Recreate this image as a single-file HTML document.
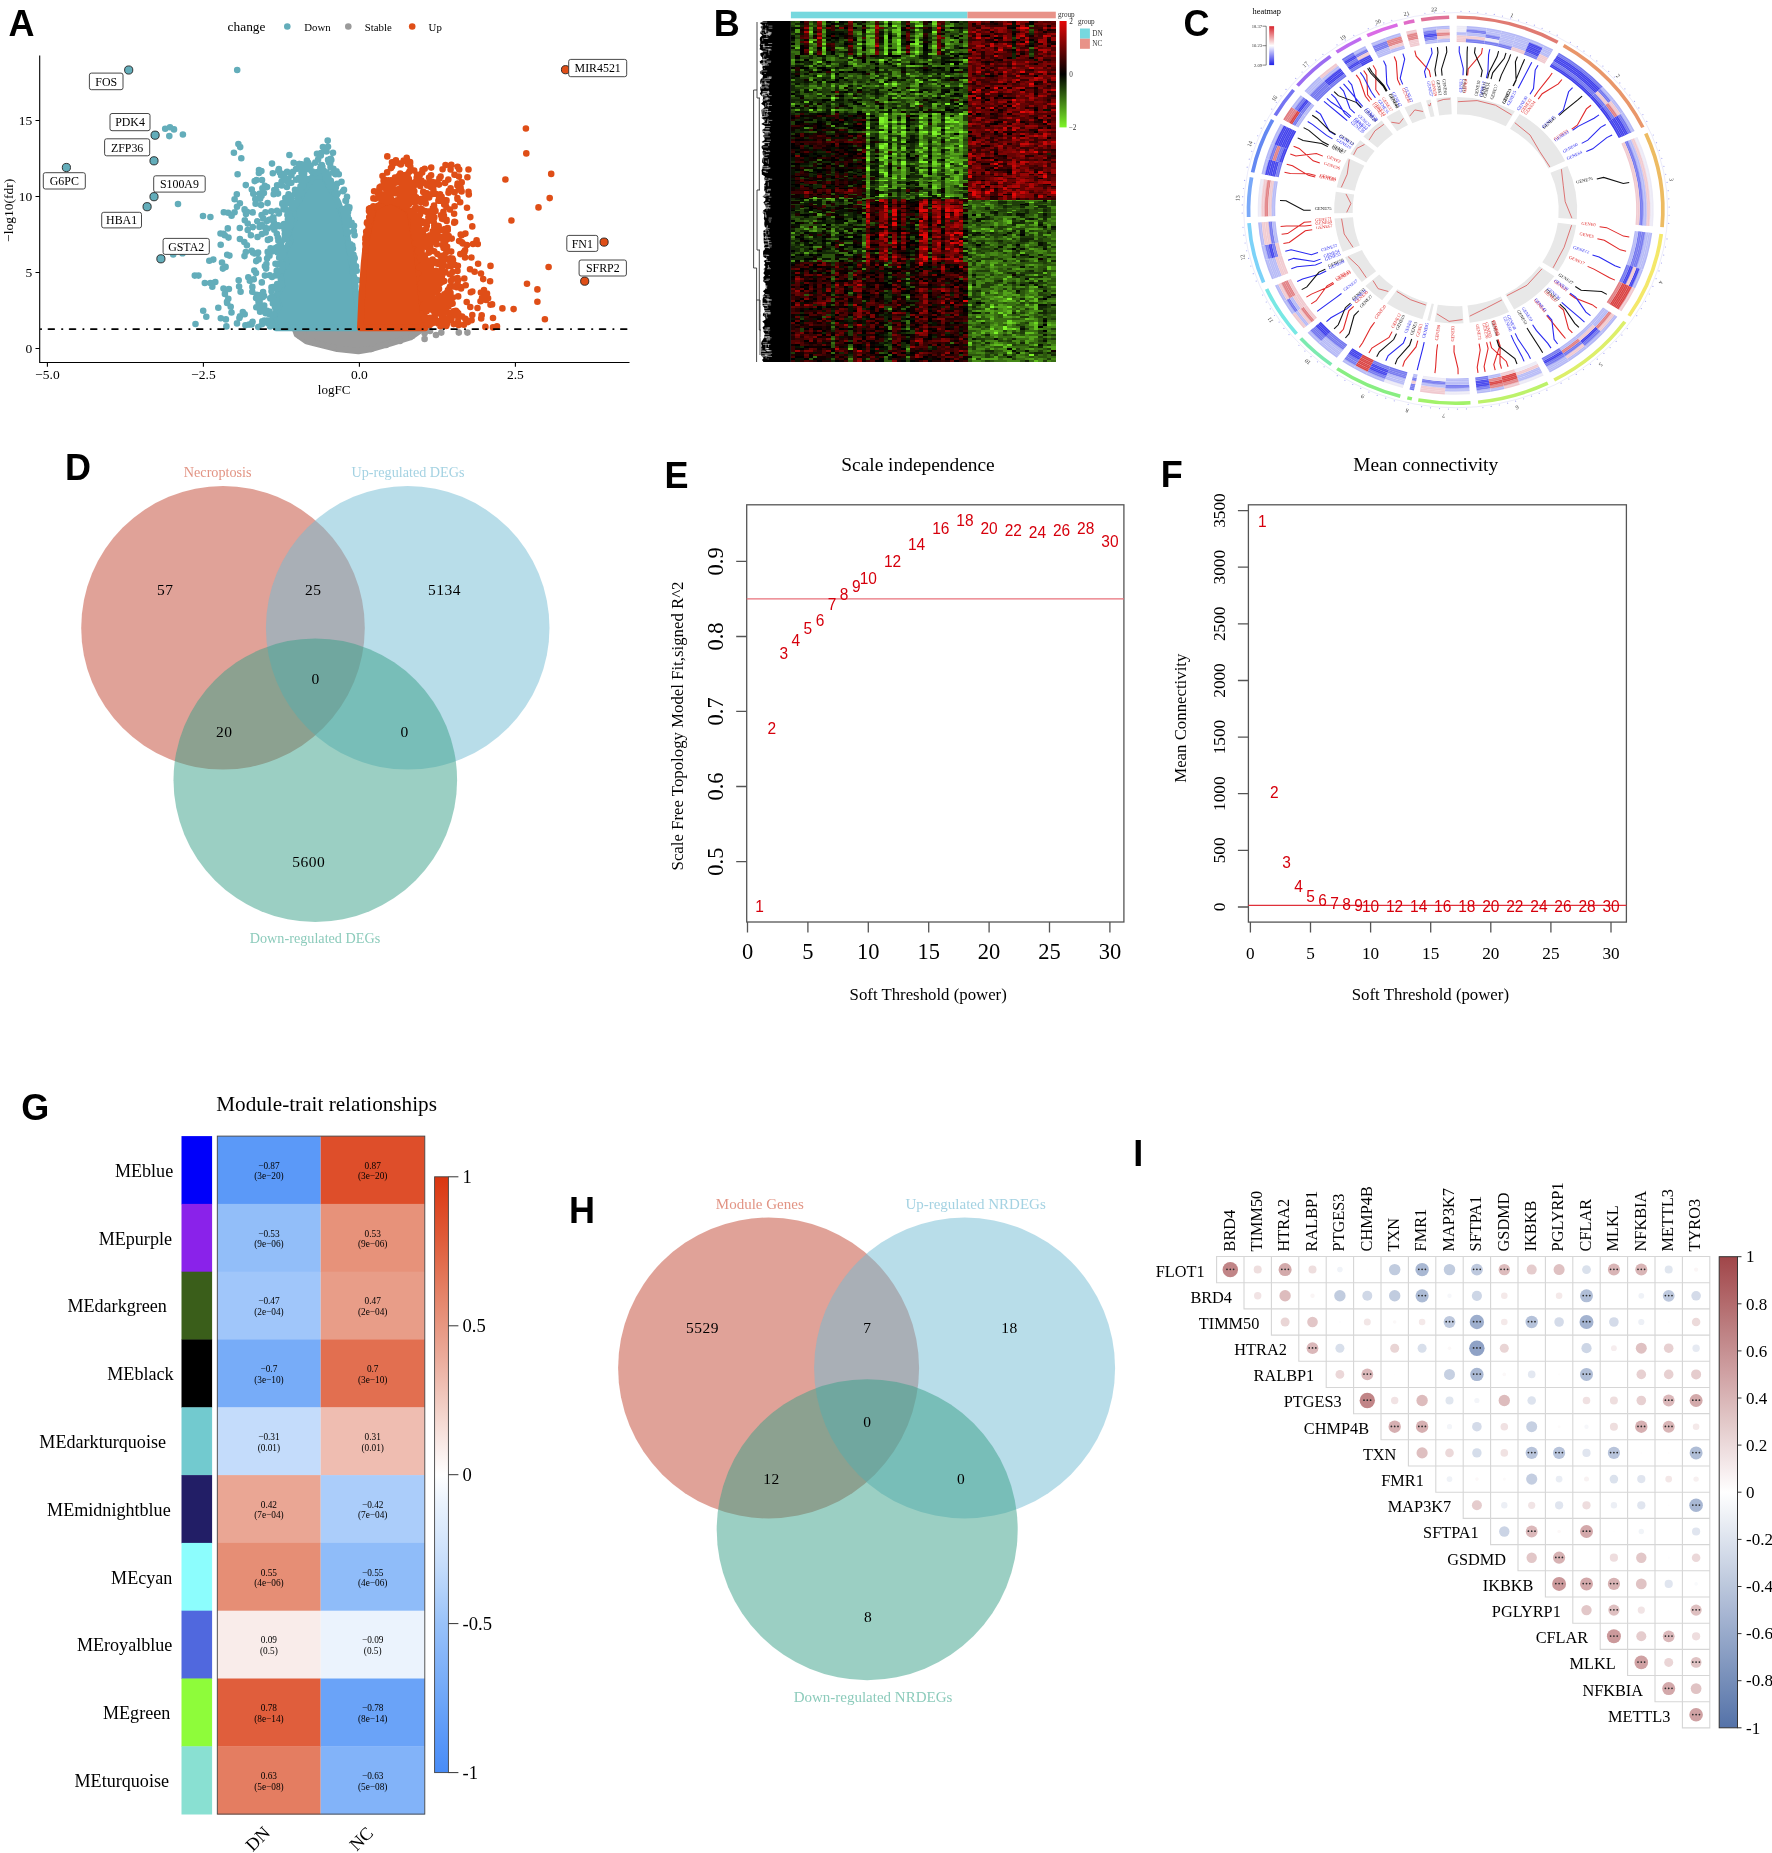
<!DOCTYPE html>
<html><head><meta charset="utf-8"><style>
html,body{margin:0;padding:0;background:#fff;overflow:hidden;}
svg{display:block;will-change:transform;}
</style></head><body>
<svg width="1772" height="1853" viewBox="0 0 1772 1853" font-family="'Liberation Serif', serif">
<rect width="1772" height="1853" fill="#fff"/>
<text x="8.5" y="36.3" font-size="36" font-family="'Liberation Sans', sans-serif" font-weight="bold">A</text>
<text x="713.7" y="35.9" font-size="36" font-family="'Liberation Sans', sans-serif" font-weight="bold">B</text>
<text x="1183.5" y="36.2" font-size="36" font-family="'Liberation Sans', sans-serif" font-weight="bold">C</text>
<text x="65" y="480.1" font-size="36" font-family="'Liberation Sans', sans-serif" font-weight="bold">D</text>
<text x="664.5" y="488.3" font-size="36" font-family="'Liberation Sans', sans-serif" font-weight="bold">E</text>
<text x="1160.7" y="487.3" font-size="36" font-family="'Liberation Sans', sans-serif" font-weight="bold">F</text>
<text x="21.3" y="1119.8" font-size="36" font-family="'Liberation Sans', sans-serif" font-weight="bold">G</text>
<text x="569" y="1223.3" font-size="36" font-family="'Liberation Sans', sans-serif" font-weight="bold">H</text>
<text x="1133.2" y="1166" font-size="36" font-family="'Liberation Sans', sans-serif" font-weight="bold">I</text>
<g transform="translate(1455.7,210.2) scale(1,0.932)">
<path d="M5.3 -213.4h0M13.7 -213.1h0M22.0 -212.4h0M30.3 -211.3h0M38.6 -210.0h0M46.8 -208.3h0M54.9 -206.3h0M62.9 -204.0h0M70.9 -201.4h0M78.7 -198.5h0M86.4 -195.2h0M94.0 -191.7h0M101.5 -187.8h0M114.7 -180.1h0M121.6 -175.5h0M128.3 -170.7h0M134.8 -165.6h0M141.1 -160.2h0M147.2 -154.7h0M153.0 -148.9h0M158.7 -142.9h0M164.1 -136.6h0M169.2 -130.2h0M174.1 -123.6h0M178.8 -116.7h0M183.1 -109.7h0M187.2 -102.6h0M191.1 -95.3h0M197.6 -80.7h0M200.8 -72.5h0M203.6 -64.1h0M206.1 -55.7h0M208.2 -47.1h0M210.0 -38.5h0M211.4 -29.8h0M212.5 -21.0h0M213.1 -12.2h0M213.5 -3.4h0M213.4 5.4h0M213.0 14.2h0M211.3 30.8h0M209.8 39.5h0M208.0 48.1h0M205.8 56.7h0M203.3 65.2h0M200.4 73.5h0M197.2 81.8h0M193.7 89.9h0M189.8 97.8h0M185.6 105.6h0M181.0 113.2h0M171.6 127.0h0M166.2 134.0h0M160.5 140.8h0M154.4 147.4h0M148.2 153.7h0M141.6 159.8h0M134.8 165.5h0M127.8 171.0h0M120.6 176.2h0M113.1 181.1h0M105.4 185.6h0M91.2 193.1h0M83.5 196.5h0M75.8 199.6h0M67.9 202.4h0M59.9 204.9h0M51.9 207.1h0M43.7 209.0h0M35.5 210.5h0M27.2 211.8h0M10.8 213.2h0M1.8 213.5h0M-7.2 213.4h0M-16.2 212.9h0M-25.2 212.0h0M-34.1 210.8h0M-47.5 208.2h0M-61.4 204.5h0M-70.0 201.7h0M-78.5 198.6h0M-86.8 195.1h0M-95.0 191.2h0M-103.0 187.0h0M-110.8 182.5h0M-118.4 177.6h0M-131.6 168.1h0M-138.2 162.7h0M-144.7 157.0h0M-150.8 151.1h0M-156.8 144.9h0M-166.7 133.4h0M-171.8 126.8h0M-176.6 120.0h0M-181.2 113.0h0M-185.4 105.8h0M-189.4 98.5h0M-193.1 91.0h0M-199.5 76.0h0M-202.4 68.1h0M-204.9 60.0h0M-207.1 51.8h0M-209.0 43.5h0M-210.6 35.2h0M-211.8 26.8h0M-212.7 18.4h0M-213.5 3.1h0M-213.4 -5.7h0M-213.0 -14.5h0M-212.2 -23.3h0M-211.1 -32.0h0M-208.5 -46.2h0M-206.4 -54.7h0M-203.9 -63.2h0M-201.1 -71.6h0M-198.0 -79.9h0M-194.5 -88.0h0M-190.7 -96.0h0M-183.9 -108.5h0M-179.4 -115.7h0M-174.7 -122.7h0M-169.7 -129.6h0M-160.0 -141.4h0M-153.6 -148.3h0M-147.0 -154.9h0M-140.0 -161.2h0M-132.8 -167.2h0M-118.7 -177.4h0M-110.4 -182.7h0M-101.9 -187.6h0M-87.4 -194.8h0M-79.7 -198.1h0M-71.9 -201.0h0M-63.9 -203.7h0M-48.0 -208.0h0M-30.8 -211.3h0M-21.2 -212.4h0M-11.5 -213.2h0" stroke="#8C8CF0" stroke-width="1.3" stroke-linecap="round" stroke-opacity="0.7"/>
<circle r="212" fill="none" stroke="#D8D8F4" stroke-width="0.5"/>
<path d="M1.1 -209.0A209.0 209.0 0 0 1 102.9 -181.9L101.1 -178.7A205.3 205.3 0 0 0 1.1 -205.3Z" fill="#E07A72"/>
<text transform="translate(55.7,-207.2) rotate(14.9)" font-size="6" text-anchor="middle" fill="#333">1</text>
<path d="M108.9 -178.4A209.0 209.0 0 0 1 188.8 -89.6L185.5 -88.1A205.3 205.3 0 0 0 107.0 -175.2Z" fill="#E9966A"/>
<text transform="translate(160.9,-142.9) rotate(48.0)" font-size="6" text-anchor="middle" fill="#333">2</text>
<path d="M191.8 -83.0A209.0 209.0 0 0 1 208.2 18.2L204.5 17.9A205.3 205.3 0 0 0 188.4 -81.5Z" fill="#EDBB62"/>
<text transform="translate(213.7,-32.6) rotate(80.8)" font-size="6" text-anchor="middle" fill="#333">3</text>
<path d="M207.4 25.8A209.0 209.0 0 0 1 174.9 114.4L171.8 112.4A205.3 205.3 0 0 0 203.7 25.4Z" fill="#F4E86A"/>
<text transform="translate(203.2,76.6) rotate(110.2)" font-size="6" text-anchor="middle" fill="#333">4</text>
<path d="M170.6 120.8A209.0 209.0 0 0 1 99.4 183.8L97.6 180.6A205.3 205.3 0 0 0 167.6 118.6Z" fill="#DDEF6A"/>
<text transform="translate(143.6,164.0) rotate(138.4)" font-size="6" text-anchor="middle" fill="#333">5</text>
<path d="M92.9 187.2A209.0 209.0 0 0 1 22.6 207.8L22.2 204.1A205.3 205.3 0 0 0 91.3 183.9Z" fill="#BDF26A"/>
<text transform="translate(60.8,209.8) rotate(163.7)" font-size="6" text-anchor="middle" fill="#333">6</text>
<path d="M14.9 208.5A209.0 209.0 0 0 1 -37.7 205.6L-37.1 201.9A205.3 205.3 0 0 0 14.7 204.8Z" fill="#A2F26A"/>
<text transform="translate(-11.9,218.2) rotate(183.2)" font-size="6" text-anchor="middle" fill="#333">7</text>
<path d="M-44.2 204.3A209.0 209.0 0 0 1 -48.8 203.2L-47.9 199.6A205.3 205.3 0 0 0 -43.4 200.7Z" fill="#8EF070"/>
<text transform="translate(-48.1,213.1) rotate(192.8)" font-size="6" text-anchor="middle" fill="#333">8</text>
<path d="M-55.9 201.4A209.0 209.0 0 0 1 -119.6 171.4L-117.5 168.4A205.3 205.3 0 0 0 -54.9 197.8Z" fill="#88EE82"/>
<text transform="translate(-92.2,197.9) rotate(205.2)" font-size="6" text-anchor="middle" fill="#333">9</text>
<path d="M-125.5 167.1A209.0 209.0 0 0 1 -156.3 138.8L-153.5 136.3A205.3 205.3 0 0 0 -123.3 164.2Z" fill="#7CEAB0"/>
<text transform="translate(-146.7,161.2) rotate(222.7)" font-size="6" text-anchor="middle" fill="#333">10</text>
<path d="M-160.6 133.8A209.0 209.0 0 0 1 -190.8 85.3L-187.4 83.8A205.3 205.3 0 0 0 -157.7 131.4Z" fill="#78E8E4"/>
<text transform="translate(-183.7,116.6) rotate(238.1)" font-size="6" text-anchor="middle" fill="#333">11</text>
<path d="M-193.8 78.3A209.0 209.0 0 0 1 -208.5 13.9L-204.8 13.6A205.3 205.3 0 0 0 -190.4 76.9Z" fill="#7CD2F8"/>
<text transform="translate(-211.0,50.3) rotate(257.1)" font-size="6" text-anchor="middle" fill="#333">12</text>
<path d="M-208.9 7.3A209.0 209.0 0 0 1 -206.0 -35.6L-202.3 -34.9A205.3 205.3 0 0 0 -205.2 7.2Z" fill="#78A8F8"/>
<text transform="translate(-216.0,-12.7) rotate(273.9)" font-size="6" text-anchor="middle" fill="#333">13</text>
<path d="M-204.9 -41.0A209.0 209.0 0 0 1 -184.7 -97.8L-181.4 -96.1A205.3 205.3 0 0 0 -201.3 -40.2Z" fill="#6488F2"/>
<text transform="translate(-204.0,-70.6) rotate(289.6)" font-size="6" text-anchor="middle" fill="#333">14</text>
<path d="M-182.1 -102.6A209.0 209.0 0 0 1 -163.6 -130.1L-160.7 -127.8A205.3 205.3 0 0 0 -178.9 -100.8Z" fill="#7474F2"/>
<text transform="translate(-179.6,-118.9) rotate(303.9)" font-size="6" text-anchor="middle" fill="#333">16</text>
<path d="M-159.6 -134.9A209.0 209.0 0 0 1 -126.4 -166.5L-124.1 -163.5A205.3 205.3 0 0 0 -156.8 -132.5Z" fill="#9C6CF2"/>
<text transform="translate(-149.0,-155.0) rotate(316.5)" font-size="6" text-anchor="middle" fill="#333">17</text>
<path d="M-120.2 -171.0A209.0 209.0 0 0 1 -95.5 -185.9L-93.8 -182.6A205.3 205.3 0 0 0 -118.0 -168.0Z" fill="#BE6CF0"/>
<text transform="translate(-112.0,-183.3) rotate(328.9)" font-size="6" text-anchor="middle" fill="#333">19</text>
<path d="M-89.3 -189.0A209.0 209.0 0 0 1 -58.7 -200.6L-57.6 -197.0A205.3 205.3 0 0 0 -87.7 -185.6Z" fill="#DA6CE6"/>
<text transform="translate(-76.9,-200.4) rotate(339.2)" font-size="6" text-anchor="middle" fill="#333">20</text>
<path d="M-52.3 -202.3A209.0 209.0 0 0 1 -41.7 -204.8L-40.9 -201.2A205.3 205.3 0 0 0 -51.4 -198.8Z" fill="#E06CC8"/>
<text transform="translate(-48.7,-209.0) rotate(347.0)" font-size="6" text-anchor="middle" fill="#333">21</text>
<path d="M-34.9 -206.1A209.0 209.0 0 0 1 -6.6 -208.9L-6.4 -205.2A205.3 205.3 0 0 0 -34.2 -202.4Z" fill="#E07098"/>
<text transform="translate(-21.5,-213.4) rotate(354.3)" font-size="6" text-anchor="middle" fill="#333">22</text>
<path d="M1.0 -198.0A198.0 198.0 0 0 1 11.1 -197.7L10.9 -194.0A194.3 194.3 0 0 0 1.0 -194.3Z" fill="#ECEAF6"/>
<path d="M1.0 -194.5A194.5 194.5 0 0 1 10.9 -194.2L10.7 -190.6A190.9 190.9 0 0 0 1.0 -190.9Z" fill="#ECEAF6"/>
<path d="M1.0 -191.1A191.1 191.1 0 0 1 10.7 -190.8L10.5 -187.1A187.4 187.4 0 0 0 1.0 -187.4Z" fill="#B4B8F6"/>
<path d="M1.0 -187.6A187.6 187.6 0 0 1 10.5 -187.3L10.3 -183.7A184.0 184.0 0 0 0 1.0 -184.0Z" fill="#F0C8CE"/>
<path d="M1.0 -184.2A184.2 184.2 0 0 1 10.3 -183.9L10.1 -180.2A180.5 180.5 0 0 0 0.9 -180.5Z" fill="#F0C8CE"/>
<path d="M11.1 -197.7A198.0 198.0 0 0 1 31.2 -195.5L30.6 -191.9A194.3 194.3 0 0 0 10.9 -194.0Z" fill="#B4B8F6"/>
<path d="M10.9 -194.2A194.5 194.5 0 0 1 30.6 -192.1L30.1 -188.5A190.9 190.9 0 0 0 10.7 -190.6Z" fill="#7074EE"/>
<path d="M10.7 -190.8A191.1 191.1 0 0 1 30.1 -188.7L29.5 -185.1A187.4 187.4 0 0 0 10.5 -187.1Z" fill="#B4B8F6"/>
<path d="M10.5 -187.3A187.6 187.6 0 0 1 29.5 -185.3L29.0 -181.7A184.0 184.0 0 0 0 10.3 -183.7Z" fill="#F0C8CE"/>
<path d="M10.3 -183.9A184.2 184.2 0 0 1 29.0 -181.9L28.4 -178.2A180.5 180.5 0 0 0 10.1 -180.2Z" fill="#7074EE"/>
<path d="M31.2 -195.5A198.0 198.0 0 0 1 46.0 -192.6L45.2 -189.0A194.3 194.3 0 0 0 30.6 -191.9Z" fill="#B4B8F6"/>
<path d="M30.6 -192.1A194.5 194.5 0 0 1 45.2 -189.2L44.4 -185.7A190.9 190.9 0 0 0 30.1 -188.5Z" fill="#B4B8F6"/>
<path d="M30.1 -188.7A191.1 191.1 0 0 1 44.4 -185.8L43.6 -182.3A187.4 187.4 0 0 0 29.5 -185.1Z" fill="#7074EE"/>
<path d="M29.5 -185.3A187.6 187.6 0 0 1 43.6 -182.5L42.8 -178.9A184.0 184.0 0 0 0 29.0 -181.7Z" fill="#ECEAF6"/>
<path d="M29.0 -181.9A184.2 184.2 0 0 1 42.8 -179.1L42.0 -175.6A180.5 180.5 0 0 0 28.4 -178.2Z" fill="#7074EE"/>
<path d="M46.0 -192.6A198.0 198.0 0 0 1 60.6 -188.5L59.5 -185.0A194.3 194.3 0 0 0 45.2 -189.0Z" fill="#B4B8F6"/>
<path d="M45.2 -189.2A194.5 194.5 0 0 1 59.5 -185.2L58.4 -181.7A190.9 190.9 0 0 0 44.4 -185.7Z" fill="#B4B8F6"/>
<path d="M44.4 -185.8A191.1 191.1 0 0 1 58.5 -181.9L57.4 -178.4A187.4 187.4 0 0 0 43.6 -182.3Z" fill="#B4B8F6"/>
<path d="M43.6 -182.5A187.6 187.6 0 0 1 57.4 -178.6L56.3 -175.1A184.0 184.0 0 0 0 42.8 -178.9Z" fill="#B4B8F6"/>
<path d="M42.8 -179.1A184.2 184.2 0 0 1 56.4 -175.3L55.2 -171.8A180.5 180.5 0 0 0 42.0 -175.6Z" fill="#7074EE"/>
<path d="M60.6 -188.5A198.0 198.0 0 0 1 74.8 -183.3L73.4 -179.9A194.3 194.3 0 0 0 59.5 -185.0Z" fill="#B4B8F6"/>
<path d="M59.5 -185.2A194.5 194.5 0 0 1 73.5 -180.1L72.1 -176.7A190.9 190.9 0 0 0 58.4 -181.7Z" fill="#B4B8F6"/>
<path d="M58.5 -181.9A191.1 191.1 0 0 1 72.2 -176.9L70.8 -173.5A187.4 187.4 0 0 0 57.4 -178.4Z" fill="#B4B8F6"/>
<path d="M57.4 -178.6A187.6 187.6 0 0 1 70.9 -173.7L69.5 -170.3A184.0 184.0 0 0 0 56.3 -175.1Z" fill="#B4B8F6"/>
<path d="M56.4 -175.3A184.2 184.2 0 0 1 69.6 -170.5L68.2 -167.1A180.5 180.5 0 0 0 55.2 -171.8Z" fill="#F0C8CE"/>
<path d="M74.8 -183.3A198.0 198.0 0 0 1 88.6 -177.1L87.0 -173.8A194.3 194.3 0 0 0 73.4 -179.9Z" fill="#B4B8F6"/>
<path d="M73.5 -180.1A194.5 194.5 0 0 1 87.0 -174.0L85.4 -170.7A190.9 190.9 0 0 0 72.1 -176.7Z" fill="#3C3CEB"/>
<path d="M72.2 -176.9A191.1 191.1 0 0 1 85.5 -170.9L83.9 -167.6A187.4 187.4 0 0 0 70.8 -173.5Z" fill="#3C3CEB"/>
<path d="M70.9 -173.7A187.6 187.6 0 0 1 83.9 -167.8L82.3 -164.5A184.0 184.0 0 0 0 69.5 -170.3Z" fill="#3C3CEB"/>
<path d="M69.6 -170.5A184.2 184.2 0 0 1 82.4 -164.7L80.8 -161.4A180.5 180.5 0 0 0 68.2 -167.1Z" fill="#7074EE"/>
<path d="M88.6 -177.1A198.0 198.0 0 0 1 97.5 -172.3L95.7 -169.1A194.3 194.3 0 0 0 87.0 -173.8Z" fill="#B4B8F6"/>
<path d="M87.0 -174.0A194.5 194.5 0 0 1 95.8 -169.3L94.0 -166.1A190.9 190.9 0 0 0 85.4 -170.7Z" fill="#B4B8F6"/>
<path d="M85.5 -170.9A191.1 191.1 0 0 1 94.1 -166.3L92.3 -163.1A187.4 187.4 0 0 0 83.9 -167.6Z" fill="#B4B8F6"/>
<path d="M83.9 -167.8A187.6 187.6 0 0 1 92.4 -163.3L90.6 -160.1A184.0 184.0 0 0 0 82.3 -164.5Z" fill="#F0C8CE"/>
<path d="M82.4 -164.7A184.2 184.2 0 0 1 90.7 -160.3L88.9 -157.1A180.5 180.5 0 0 0 80.8 -161.4Z" fill="#F0C8CE"/>
<path d="M1.0 -182.2A182.2 182.2 0 0 1 89.7 -158.6M1.0 -184.0A184.0 184.0 0 0 1 90.6 -160.1M1.0 -185.7A185.7 185.7 0 0 1 91.4 -161.6M1.0 -187.4A187.4 187.4 0 0 1 92.3 -163.1M1.0 -189.1A189.2 189.2 0 0 1 93.1 -164.6M1.0 -190.9A190.9 190.9 0 0 1 94.0 -166.1M1.0 -192.6A192.6 192.6 0 0 1 94.8 -167.6M1.0 -194.3A194.3 194.3 0 0 1 95.7 -169.1M1.0 -196.1A196.1 196.1 0 0 1 96.5 -170.7" fill="none" stroke="#fff" stroke-width="0.5" stroke-opacity="0.45"/>
<path d="M103.2 -169.0A198.0 198.0 0 0 1 147.1 -132.5L144.4 -130.0A194.3 194.3 0 0 0 101.3 -165.9Z" fill="#7074EE"/>
<path d="M101.4 -166.0A194.5 194.5 0 0 1 144.6 -130.2L141.9 -127.7A190.9 190.9 0 0 0 99.5 -162.9Z" fill="#3C3CEB"/>
<path d="M99.6 -163.1A191.1 191.1 0 0 1 142.0 -127.9L139.3 -125.4A187.4 187.4 0 0 0 97.6 -160.0Z" fill="#3C3CEB"/>
<path d="M97.8 -160.1A187.6 187.6 0 0 1 139.4 -125.5L136.7 -123.1A184.0 184.0 0 0 0 95.8 -157.0Z" fill="#7074EE"/>
<path d="M95.9 -157.2A184.2 184.2 0 0 1 136.9 -123.2L134.1 -120.8A180.5 180.5 0 0 0 94.0 -154.1Z" fill="#3C3CEB"/>
<path d="M147.1 -132.5A198.0 198.0 0 0 1 158.1 -119.2L155.2 -117.0A194.3 194.3 0 0 0 144.4 -130.0Z" fill="#B4B8F6"/>
<path d="M144.6 -130.2A194.5 194.5 0 0 1 155.3 -117.1L152.4 -114.9A190.9 190.9 0 0 0 141.9 -127.7Z" fill="#7074EE"/>
<path d="M142.0 -127.9A191.1 191.1 0 0 1 152.6 -115.0L149.6 -112.8A187.4 187.4 0 0 0 139.3 -125.4Z" fill="#F0C8CE"/>
<path d="M139.4 -125.5A187.6 187.6 0 0 1 149.8 -113.0L146.9 -110.8A184.0 184.0 0 0 0 136.7 -123.1Z" fill="#7074EE"/>
<path d="M136.9 -123.2A184.2 184.2 0 0 1 147.0 -110.9L144.1 -108.7A180.5 180.5 0 0 0 134.1 -120.8Z" fill="#3C3CEB"/>
<path d="M158.1 -119.2A198.0 198.0 0 0 1 167.8 -105.0L164.7 -103.1A194.3 194.3 0 0 0 155.2 -117.0Z" fill="#B4B8F6"/>
<path d="M155.3 -117.1A194.5 194.5 0 0 1 164.9 -103.2L161.8 -101.3A190.9 190.9 0 0 0 152.4 -114.9Z" fill="#F0C8CE"/>
<path d="M152.6 -115.0A191.1 191.1 0 0 1 162.0 -101.4L158.9 -99.4A187.4 187.4 0 0 0 149.6 -112.8Z" fill="#E07C80"/>
<path d="M149.8 -113.0A187.6 187.6 0 0 1 159.0 -99.5L155.9 -97.6A184.0 184.0 0 0 0 146.9 -110.8Z" fill="#7074EE"/>
<path d="M147.0 -110.9A184.2 184.2 0 0 1 156.1 -97.7L153.0 -95.8A180.5 180.5 0 0 0 144.1 -108.7Z" fill="#3C3CEB"/>
<path d="M167.8 -105.0A198.0 198.0 0 0 1 178.9 -84.9L175.6 -83.4A194.3 194.3 0 0 0 164.7 -103.1Z" fill="#B4B8F6"/>
<path d="M164.9 -103.2A194.5 194.5 0 0 1 175.7 -83.4L172.4 -81.9A190.9 190.9 0 0 0 161.8 -101.3Z" fill="#7074EE"/>
<path d="M162.0 -101.4A191.1 191.1 0 0 1 172.6 -82.0L169.3 -80.4A187.4 187.4 0 0 0 158.9 -99.4Z" fill="#3C3CEB"/>
<path d="M159.0 -99.5A187.6 187.6 0 0 1 169.5 -80.5L166.2 -78.9A184.0 184.0 0 0 0 155.9 -97.6Z" fill="#3C3CEB"/>
<path d="M156.1 -97.7A184.2 184.2 0 0 1 166.4 -79.0L163.1 -77.4A180.5 180.5 0 0 0 153.0 -95.8Z" fill="#3C3CEB"/>
<path d="M94.9 -155.5A182.2 182.2 0 0 1 164.6 -78.2M95.8 -157.0A184.0 184.0 0 0 1 166.2 -78.9M96.7 -158.5A185.7 185.7 0 0 1 167.7 -79.6M97.6 -160.0A187.4 187.4 0 0 1 169.3 -80.4M98.5 -161.4A189.2 189.2 0 0 1 170.9 -81.1M99.5 -162.9A190.9 190.9 0 0 1 172.4 -81.9M100.4 -164.4A192.6 192.6 0 0 1 174.0 -82.6M101.3 -165.9A194.3 194.3 0 0 1 175.6 -83.4M102.2 -167.4A196.1 196.1 0 0 1 177.1 -84.1" fill="none" stroke="#fff" stroke-width="0.5" stroke-opacity="0.45"/>
<path d="M181.7 -78.6A198.0 198.0 0 0 1 197.2 17.3L193.6 16.9A194.3 194.3 0 0 0 178.4 -77.2Z" fill="#ECEAF6"/>
<path d="M178.5 -77.3A194.5 194.5 0 0 1 193.8 17.0L190.2 16.6A190.9 190.9 0 0 0 175.2 -75.8Z" fill="#F0C8CE"/>
<path d="M175.4 -75.9A191.1 191.1 0 0 1 190.4 16.7L186.7 16.3A187.4 187.4 0 0 0 172.0 -74.4Z" fill="#B4B8F6"/>
<path d="M172.2 -74.5A187.6 187.6 0 0 1 186.9 16.4L183.3 16.0A184.0 184.0 0 0 0 168.8 -73.1Z" fill="#7074EE"/>
<path d="M169.0 -73.1A184.2 184.2 0 0 1 183.5 16.1L179.8 15.7A180.5 180.5 0 0 0 165.7 -71.7Z" fill="#F0C8CE"/>
<path d="M167.2 -72.4A182.2 182.2 0 0 1 181.5 15.9M168.8 -73.1A184.0 184.0 0 0 1 183.3 16.0M170.4 -73.7A185.7 185.7 0 0 1 185.0 16.2M172.0 -74.4A187.4 187.4 0 0 1 186.7 16.3M173.6 -75.1A189.2 189.2 0 0 1 188.4 16.5M175.2 -75.8A190.9 190.9 0 0 1 190.2 16.6M176.8 -76.5A192.6 192.6 0 0 1 191.9 16.8M178.4 -77.2A194.3 194.3 0 0 1 193.6 16.9M179.9 -77.9A196.1 196.1 0 0 1 195.3 17.1" fill="none" stroke="#fff" stroke-width="0.5" stroke-opacity="0.45"/>
<path d="M196.5 24.5A198.0 198.0 0 0 1 187.4 64.0L183.9 62.8A194.3 194.3 0 0 0 192.8 24.0Z" fill="#B4B8F6"/>
<path d="M193.0 24.0A194.5 194.5 0 0 1 184.1 62.8L180.6 61.7A190.9 190.9 0 0 0 189.4 23.6Z" fill="#B4B8F6"/>
<path d="M189.6 23.6A191.1 191.1 0 0 1 180.8 61.7L177.4 60.5A187.4 187.4 0 0 0 186.0 23.2Z" fill="#7074EE"/>
<path d="M186.2 23.2A187.6 187.6 0 0 1 177.6 60.6L174.1 59.4A184.0 184.0 0 0 0 182.5 22.7Z" fill="#7074EE"/>
<path d="M182.7 22.8A184.2 184.2 0 0 1 174.3 59.5L170.8 58.3A180.5 180.5 0 0 0 179.1 22.3Z" fill="#B4B8F6"/>
<path d="M187.4 64.0A198.0 198.0 0 0 1 179.3 84.0L176.0 82.5A194.3 194.3 0 0 0 183.9 62.8Z" fill="#B4B8F6"/>
<path d="M184.1 62.8A194.5 194.5 0 0 1 176.2 82.6L172.8 81.0A190.9 190.9 0 0 0 180.6 61.7Z" fill="#3C3CEB"/>
<path d="M180.8 61.7A191.1 191.1 0 0 1 173.0 81.1L169.7 79.5A187.4 187.4 0 0 0 177.4 60.5Z" fill="#F0C8CE"/>
<path d="M177.6 60.6A187.6 187.6 0 0 1 169.9 79.6L166.6 78.1A184.0 184.0 0 0 0 174.1 59.4Z" fill="#3C3CEB"/>
<path d="M174.3 59.5A184.2 184.2 0 0 1 166.8 78.1L163.4 76.6A180.5 180.5 0 0 0 170.8 58.3Z" fill="#7074EE"/>
<path d="M179.3 84.0A198.0 198.0 0 0 1 165.7 108.4L162.6 106.4A194.3 194.3 0 0 0 176.0 82.5Z" fill="#F0C8CE"/>
<path d="M176.2 82.6A194.5 194.5 0 0 1 162.8 106.5L159.7 104.5A190.9 190.9 0 0 0 172.8 81.0Z" fill="#D83C3C"/>
<path d="M173.0 81.1A191.1 191.1 0 0 1 159.9 104.6L156.8 102.6A187.4 187.4 0 0 0 169.7 79.5Z" fill="#D83C3C"/>
<path d="M169.9 79.6A187.6 187.6 0 0 1 157.0 102.7L153.9 100.7A184.0 184.0 0 0 0 166.6 78.1Z" fill="#D83C3C"/>
<path d="M166.8 78.1A184.2 184.2 0 0 1 154.1 100.8L151.0 98.8A180.5 180.5 0 0 0 163.4 76.6Z" fill="#E07C80"/>
<path d="M180.8 22.5A182.2 182.2 0 0 1 152.5 99.8M182.5 22.7A184.0 184.0 0 0 1 153.9 100.7M184.3 23.0A185.7 185.7 0 0 1 155.4 101.7M186.0 23.2A187.4 187.4 0 0 1 156.8 102.6M187.7 23.4A189.2 189.2 0 0 1 158.3 103.6M189.4 23.6A190.9 190.9 0 0 1 159.7 104.5M191.1 23.8A192.6 192.6 0 0 1 161.2 105.5M192.8 24.0A194.3 194.3 0 0 1 162.6 106.4M194.6 24.2A196.1 196.1 0 0 1 164.1 107.4" fill="none" stroke="#fff" stroke-width="0.5" stroke-opacity="0.45"/>
<path d="M161.6 114.4A198.0 198.0 0 0 1 147.4 132.2L144.7 129.7A194.3 194.3 0 0 0 158.6 112.3Z" fill="#B4B8F6"/>
<path d="M158.8 112.4A194.5 194.5 0 0 1 144.9 129.9L142.1 127.4A190.9 190.9 0 0 0 155.8 110.3Z" fill="#F0C8CE"/>
<path d="M155.9 110.4A191.1 191.1 0 0 1 142.3 127.5L139.6 125.1A187.4 187.4 0 0 0 153.0 108.3Z" fill="#E07C80"/>
<path d="M153.1 108.4A187.6 187.6 0 0 1 139.7 125.2L137.0 122.8A184.0 184.0 0 0 0 150.1 106.3Z" fill="#B4B8F6"/>
<path d="M150.3 106.4A184.2 184.2 0 0 1 137.1 122.9L134.4 120.5A180.5 180.5 0 0 0 147.3 104.3Z" fill="#B4B8F6"/>
<path d="M147.4 132.2A198.0 198.0 0 0 1 131.3 148.2L128.9 145.4A194.3 194.3 0 0 0 144.7 129.7Z" fill="#B4B8F6"/>
<path d="M144.9 129.9A194.5 194.5 0 0 1 129.0 145.6L126.6 142.9A190.9 190.9 0 0 0 142.1 127.4Z" fill="#7074EE"/>
<path d="M142.3 127.5A191.1 191.1 0 0 1 126.7 143.0L124.3 140.3A187.4 187.4 0 0 0 139.6 125.1Z" fill="#3C3CEB"/>
<path d="M139.7 125.2A187.6 187.6 0 0 1 124.4 140.4L122.0 137.7A184.0 184.0 0 0 0 137.0 122.8Z" fill="#F0C8CE"/>
<path d="M137.1 122.9A184.2 184.2 0 0 1 122.1 137.8L119.7 135.1A180.5 180.5 0 0 0 134.4 120.5Z" fill="#B4B8F6"/>
<path d="M131.3 148.2A198.0 198.0 0 0 1 113.5 162.2L111.4 159.2A194.3 194.3 0 0 0 128.9 145.4Z" fill="#B4B8F6"/>
<path d="M129.0 145.6A194.5 194.5 0 0 1 111.5 159.4L109.4 156.4A190.9 190.9 0 0 0 126.6 142.9Z" fill="#F0C8CE"/>
<path d="M126.7 143.0A191.1 191.1 0 0 1 109.5 156.6L107.4 153.6A187.4 187.4 0 0 0 124.3 140.3Z" fill="#7074EE"/>
<path d="M124.4 140.4A187.6 187.6 0 0 1 107.5 153.7L105.4 150.7A184.0 184.0 0 0 0 122.0 137.7Z" fill="#E07C80"/>
<path d="M122.1 137.8A184.2 184.2 0 0 1 105.6 150.9L103.5 147.9A180.5 180.5 0 0 0 119.7 135.1Z" fill="#B4B8F6"/>
<path d="M113.5 162.2A198.0 198.0 0 0 1 94.2 174.2L92.4 171.0A194.3 194.3 0 0 0 111.4 159.2Z" fill="#B4B8F6"/>
<path d="M111.5 159.4A194.5 194.5 0 0 1 92.5 171.1L90.8 167.9A190.9 190.9 0 0 0 109.4 156.4Z" fill="#B4B8F6"/>
<path d="M109.5 156.6A191.1 191.1 0 0 1 90.9 168.1L89.1 164.9A187.4 187.4 0 0 0 107.4 153.6Z" fill="#7074EE"/>
<path d="M107.5 153.7A187.6 187.6 0 0 1 89.2 165.0L87.5 161.8A184.0 184.0 0 0 0 105.4 150.7Z" fill="#3C3CEB"/>
<path d="M105.6 150.9A184.2 184.2 0 0 1 87.6 162.0L85.9 158.8A180.5 180.5 0 0 0 103.5 147.9Z" fill="#7074EE"/>
<path d="M148.7 105.3A182.2 182.2 0 0 1 86.7 160.3M150.1 106.3A184.0 184.0 0 0 1 87.5 161.8M151.5 107.3A185.7 185.7 0 0 1 88.3 163.3M153.0 108.3A187.4 187.4 0 0 1 89.1 164.9M154.4 109.3A189.2 189.2 0 0 1 90.0 166.4M155.8 110.3A190.9 190.9 0 0 1 90.8 167.9M157.2 111.3A192.6 192.6 0 0 1 91.6 169.4M158.6 112.3A194.3 194.3 0 0 1 92.4 171.0M160.0 113.3A196.1 196.1 0 0 1 93.3 172.5" fill="none" stroke="#fff" stroke-width="0.5" stroke-opacity="0.45"/>
<path d="M88.0 177.4A198.0 198.0 0 0 1 64.2 187.3L63.0 183.8A194.3 194.3 0 0 0 86.4 174.1Z" fill="#ECEAF6"/>
<path d="M86.5 174.3A194.5 194.5 0 0 1 63.1 184.0L61.9 180.6A190.9 190.9 0 0 0 84.9 171.0Z" fill="#B4B8F6"/>
<path d="M85.0 171.2A191.1 191.1 0 0 1 62.0 180.7L60.8 177.3A187.4 187.4 0 0 0 83.3 167.9Z" fill="#B4B8F6"/>
<path d="M83.4 168.1A187.6 187.6 0 0 1 60.9 177.5L59.7 174.0A184.0 184.0 0 0 0 81.8 164.8Z" fill="#F0C8CE"/>
<path d="M81.9 165.0A184.2 184.2 0 0 1 59.7 174.2L58.5 170.7A180.5 180.5 0 0 0 80.3 161.7Z" fill="#ECEAF6"/>
<path d="M64.2 187.3A198.0 198.0 0 0 1 48.8 191.9L47.9 188.3A194.3 194.3 0 0 0 63.0 183.8Z" fill="#F0C8CE"/>
<path d="M63.1 184.0A194.5 194.5 0 0 1 48.0 188.5L47.1 185.0A190.9 190.9 0 0 0 61.9 180.6Z" fill="#E07C80"/>
<path d="M62.0 180.7A191.1 191.1 0 0 1 47.1 185.2L46.2 181.6A187.4 187.4 0 0 0 60.8 177.3Z" fill="#D83C3C"/>
<path d="M60.9 177.5A187.6 187.6 0 0 1 46.3 181.8L45.4 178.3A184.0 184.0 0 0 0 59.7 174.0Z" fill="#D83C3C"/>
<path d="M59.7 174.2A184.2 184.2 0 0 1 45.4 178.5L44.5 174.9A180.5 180.5 0 0 0 58.5 170.7Z" fill="#F0C8CE"/>
<path d="M48.8 191.9A198.0 198.0 0 0 1 35.2 194.8L34.5 191.2A194.3 194.3 0 0 0 47.9 188.3Z" fill="#B4B8F6"/>
<path d="M48.0 188.5A194.5 194.5 0 0 1 34.6 191.4L33.9 187.8A190.9 190.9 0 0 0 47.1 185.0Z" fill="#E07C80"/>
<path d="M47.1 185.2A191.1 191.1 0 0 1 34.0 188.0L33.3 184.4A187.4 187.4 0 0 0 46.2 181.6Z" fill="#D83C3C"/>
<path d="M46.3 181.8A187.6 187.6 0 0 1 33.4 184.6L32.7 181.0A184.0 184.0 0 0 0 45.4 178.3Z" fill="#E07C80"/>
<path d="M45.4 178.5A184.2 184.2 0 0 1 32.7 181.2L32.1 177.6A180.5 180.5 0 0 0 44.5 174.9Z" fill="#B4B8F6"/>
<path d="M35.2 194.8A198.0 198.0 0 0 1 21.4 196.8L21.0 193.2A194.3 194.3 0 0 0 34.5 191.2Z" fill="#B4B8F6"/>
<path d="M34.6 191.4A194.5 194.5 0 0 1 21.0 193.4L20.6 189.8A190.9 190.9 0 0 0 33.9 187.8Z" fill="#7074EE"/>
<path d="M34.0 188.0A191.1 191.1 0 0 1 20.6 190.0L20.2 186.3A187.4 187.4 0 0 0 33.3 184.4Z" fill="#3C3CEB"/>
<path d="M33.4 184.6A187.6 187.6 0 0 1 20.3 186.5L19.9 182.9A184.0 184.0 0 0 0 32.7 181.0Z" fill="#3C3CEB"/>
<path d="M32.7 181.2A184.2 184.2 0 0 1 19.9 183.1L19.5 179.4A180.5 180.5 0 0 0 32.1 177.6Z" fill="#7074EE"/>
<path d="M81.0 163.2A182.2 182.2 0 0 1 19.7 181.2M81.8 164.8A184.0 184.0 0 0 1 19.9 182.9M82.6 166.3A185.7 185.7 0 0 1 20.1 184.6M83.3 167.9A187.4 187.4 0 0 1 20.2 186.3M84.1 169.4A189.2 189.2 0 0 1 20.4 188.0M84.9 171.0A190.9 190.9 0 0 1 20.6 189.8M85.6 172.5A192.6 192.6 0 0 1 20.8 191.5M86.4 174.1A194.3 194.3 0 0 1 21.0 193.2M87.2 175.6A196.1 196.1 0 0 1 21.2 194.9" fill="none" stroke="#fff" stroke-width="0.5" stroke-opacity="0.45"/>
<path d="M14.2 197.5A198.0 198.0 0 0 1 -10.9 197.7L-10.7 194.0A194.3 194.3 0 0 0 13.9 193.8Z" fill="#ECEAF6"/>
<path d="M13.9 194.0A194.5 194.5 0 0 1 -10.7 194.2L-10.5 190.6A190.9 190.9 0 0 0 13.6 190.4Z" fill="#B4B8F6"/>
<path d="M13.7 190.6A191.1 191.1 0 0 1 -10.5 190.8L-10.3 187.1A187.4 187.4 0 0 0 13.4 186.9Z" fill="#7074EE"/>
<path d="M13.4 187.1A187.6 187.6 0 0 1 -10.3 187.3L-10.1 183.7A184.0 184.0 0 0 0 13.2 183.5Z" fill="#B4B8F6"/>
<path d="M13.2 183.7A184.2 184.2 0 0 1 -10.1 183.9L-9.9 180.2A180.5 180.5 0 0 0 12.9 180.0Z" fill="#B4B8F6"/>
<path d="M-10.9 197.7A198.0 198.0 0 0 1 -35.7 194.7L-35.1 191.1A194.3 194.3 0 0 0 -10.7 194.0Z" fill="#F0C8CE"/>
<path d="M-10.7 194.2A194.5 194.5 0 0 1 -35.1 191.3L-34.5 187.7A190.9 190.9 0 0 0 -10.5 190.6Z" fill="#F0C8CE"/>
<path d="M-10.5 190.8A191.1 191.1 0 0 1 -34.5 187.9L-33.8 184.3A187.4 187.4 0 0 0 -10.3 187.1Z" fill="#B4B8F6"/>
<path d="M-10.3 187.3A187.6 187.6 0 0 1 -33.9 184.5L-33.2 180.9A184.0 184.0 0 0 0 -10.1 183.7Z" fill="#7074EE"/>
<path d="M-10.1 183.9A184.2 184.2 0 0 1 -33.2 181.1L-32.6 177.5A180.5 180.5 0 0 0 -9.9 180.2Z" fill="#ECEAF6"/>
<path d="M13.0 181.8A182.2 182.2 0 0 1 -32.9 179.2M13.2 183.5A184.0 184.0 0 0 1 -33.2 180.9M13.3 185.2A185.7 185.7 0 0 1 -33.5 182.6M13.4 186.9A187.4 187.4 0 0 1 -33.8 184.3M13.5 188.7A189.2 189.2 0 0 1 -34.1 186.0M13.6 190.4A190.9 190.9 0 0 1 -34.5 187.7M13.8 192.1A192.6 192.6 0 0 1 -34.8 189.4M13.9 193.8A194.3 194.3 0 0 1 -35.1 191.1M14.0 195.6A196.1 196.1 0 0 1 -35.4 192.8" fill="none" stroke="#fff" stroke-width="0.5" stroke-opacity="0.45"/>
<path d="M-41.8 193.5A198.0 198.0 0 0 1 -46.2 192.5L-45.4 189.0A194.3 194.3 0 0 0 -41.1 190.0Z" fill="#7074EE"/>
<path d="M-41.1 190.1A194.5 194.5 0 0 1 -45.4 189.2L-44.6 185.6A190.9 190.9 0 0 0 -40.3 186.6Z" fill="#7074EE"/>
<path d="M-40.4 186.8A191.1 191.1 0 0 1 -44.6 185.8L-43.8 182.2A187.4 187.4 0 0 0 -39.6 183.2Z" fill="#F0C8CE"/>
<path d="M-39.6 183.4A187.6 187.6 0 0 1 -43.8 182.4L-42.9 178.9A184.0 184.0 0 0 0 -38.9 179.8Z" fill="#7074EE"/>
<path d="M-38.9 180.0A184.2 184.2 0 0 1 -43.0 179.1L-42.1 175.5A180.5 180.5 0 0 0 -38.1 176.4Z" fill="#B4B8F6"/>
<path d="M-38.5 178.1A182.2 182.2 0 0 1 -42.5 177.2M-38.9 179.8A184.0 184.0 0 0 1 -42.9 178.9M-39.2 181.5A185.7 185.7 0 0 1 -43.3 180.6M-39.6 183.2A187.4 187.4 0 0 1 -43.8 182.2M-40.0 184.9A189.2 189.2 0 0 1 -44.2 183.9M-40.3 186.6A190.9 190.9 0 0 1 -44.6 185.6M-40.7 188.3A192.6 192.6 0 0 1 -45.0 187.3M-41.1 190.0A194.3 194.3 0 0 1 -45.4 189.0M-41.4 191.6A196.1 196.1 0 0 1 -45.8 190.7" fill="none" stroke="#fff" stroke-width="0.5" stroke-opacity="0.45"/>
<path d="M-52.9 190.8A198.0 198.0 0 0 1 -72.0 184.4L-70.7 181.0A194.3 194.3 0 0 0 -51.9 187.3Z" fill="#ECEAF6"/>
<path d="M-52.0 187.5A194.5 194.5 0 0 1 -70.7 181.2L-69.4 177.8A190.9 190.9 0 0 0 -51.0 183.9Z" fill="#B4B8F6"/>
<path d="M-51.1 184.1A191.1 191.1 0 0 1 -69.5 178.0L-68.1 174.6A187.4 187.4 0 0 0 -50.1 180.6Z" fill="#B4B8F6"/>
<path d="M-50.1 180.8A187.6 187.6 0 0 1 -68.2 174.8L-66.9 171.4A184.0 184.0 0 0 0 -49.2 177.3Z" fill="#7074EE"/>
<path d="M-49.2 177.5A184.2 184.2 0 0 1 -67.0 171.6L-65.6 168.1A180.5 180.5 0 0 0 -48.2 173.9Z" fill="#7074EE"/>
<path d="M-72.0 184.4A198.0 198.0 0 0 1 -89.7 176.5L-88.1 173.2A194.3 194.3 0 0 0 -70.7 181.0Z" fill="#B4B8F6"/>
<path d="M-70.7 181.2A194.5 194.5 0 0 1 -88.2 173.4L-86.5 170.2A190.9 190.9 0 0 0 -69.4 177.8Z" fill="#7074EE"/>
<path d="M-69.5 178.0A191.1 191.1 0 0 1 -86.6 170.3L-84.9 167.1A187.4 187.4 0 0 0 -68.1 174.6Z" fill="#3C3CEB"/>
<path d="M-68.2 174.8A187.6 187.6 0 0 1 -85.0 167.3L-83.4 164.0A184.0 184.0 0 0 0 -66.9 171.4Z" fill="#3C3CEB"/>
<path d="M-67.0 171.6A184.2 184.2 0 0 1 -83.5 164.2L-81.8 160.9A180.5 180.5 0 0 0 -65.6 168.1Z" fill="#7074EE"/>
<path d="M-89.7 176.5A198.0 198.0 0 0 1 -102.0 169.7L-100.2 166.5A194.3 194.3 0 0 0 -88.1 173.2Z" fill="#B4B8F6"/>
<path d="M-88.2 173.4A194.5 194.5 0 0 1 -100.3 166.7L-98.4 163.6A190.9 190.9 0 0 0 -86.5 170.2Z" fill="#D83C3C"/>
<path d="M-86.6 170.3A191.1 191.1 0 0 1 -98.5 163.8L-96.6 160.6A187.4 187.4 0 0 0 -84.9 167.1Z" fill="#D83C3C"/>
<path d="M-85.0 167.3A187.6 187.6 0 0 1 -96.7 160.8L-94.8 157.7A184.0 184.0 0 0 0 -83.4 164.0Z" fill="#D83C3C"/>
<path d="M-83.5 164.2A184.2 184.2 0 0 1 -94.9 157.8L-93.0 154.7A180.5 180.5 0 0 0 -81.8 160.9Z" fill="#D83C3C"/>
<path d="M-102.0 169.7A198.0 198.0 0 0 1 -113.3 162.4L-111.2 159.4A194.3 194.3 0 0 0 -100.2 166.5Z" fill="#B4B8F6"/>
<path d="M-100.3 166.7A194.5 194.5 0 0 1 -111.3 159.6L-109.2 156.6A190.9 190.9 0 0 0 -98.4 163.6Z" fill="#7074EE"/>
<path d="M-98.5 163.8A191.1 191.1 0 0 1 -109.3 156.7L-107.2 153.7A187.4 187.4 0 0 0 -96.6 160.6Z" fill="#7074EE"/>
<path d="M-96.7 160.8A187.6 187.6 0 0 1 -107.3 153.9L-105.3 150.9A184.0 184.0 0 0 0 -94.8 157.7Z" fill="#3C3CEB"/>
<path d="M-94.9 157.8A184.2 184.2 0 0 1 -105.4 151.0L-103.3 148.0A180.5 180.5 0 0 0 -93.0 154.7Z" fill="#3C3CEB"/>
<path d="M-48.7 175.6A182.2 182.2 0 0 1 -104.3 149.5M-49.2 177.3A184.0 184.0 0 0 1 -105.3 150.9M-49.6 178.9A185.7 185.7 0 0 1 -106.2 152.3M-50.1 180.6A187.4 187.4 0 0 1 -107.2 153.7M-50.5 182.3A189.2 189.2 0 0 1 -108.2 155.1M-51.0 183.9A190.9 190.9 0 0 1 -109.2 156.6M-51.5 185.6A192.6 192.6 0 0 1 -110.2 158.0M-51.9 187.3A194.3 194.3 0 0 1 -111.2 159.4M-52.4 188.9A196.1 196.1 0 0 1 -112.2 160.8" fill="none" stroke="#fff" stroke-width="0.5" stroke-opacity="0.45"/>
<path d="M-118.9 158.3A198.0 198.0 0 0 1 -137.0 142.9L-134.5 140.3A194.3 194.3 0 0 0 -116.7 155.4Z" fill="#B4B8F6"/>
<path d="M-116.8 155.6A194.5 194.5 0 0 1 -134.6 140.4L-132.1 137.8A190.9 190.9 0 0 0 -114.6 152.6Z" fill="#B4B8F6"/>
<path d="M-114.7 152.8A191.1 191.1 0 0 1 -132.3 137.9L-129.7 135.3A187.4 187.4 0 0 0 -112.5 149.9Z" fill="#B4B8F6"/>
<path d="M-112.7 150.0A187.6 187.6 0 0 1 -129.9 135.4L-127.3 132.8A184.0 184.0 0 0 0 -110.5 147.1Z" fill="#7074EE"/>
<path d="M-110.6 147.3A184.2 184.2 0 0 1 -127.5 132.9L-124.9 130.3A180.5 180.5 0 0 0 -108.4 144.3Z" fill="#7074EE"/>
<path d="M-137.0 142.9A198.0 198.0 0 0 1 -148.1 131.5L-145.3 129.0A194.3 194.3 0 0 0 -134.5 140.3Z" fill="#B4B8F6"/>
<path d="M-134.6 140.4A194.5 194.5 0 0 1 -145.5 129.2L-142.7 126.7A190.9 190.9 0 0 0 -132.1 137.8Z" fill="#7074EE"/>
<path d="M-132.3 137.9A191.1 191.1 0 0 1 -142.9 126.9L-140.2 124.4A187.4 187.4 0 0 0 -129.7 135.3Z" fill="#7074EE"/>
<path d="M-129.9 135.4A187.6 187.6 0 0 1 -140.3 124.6L-137.6 122.1A184.0 184.0 0 0 0 -127.3 132.8Z" fill="#3C3CEB"/>
<path d="M-127.5 132.9A184.2 184.2 0 0 1 -137.7 122.3L-135.0 119.8A180.5 180.5 0 0 0 -124.9 130.3Z" fill="#3C3CEB"/>
<path d="M-109.4 145.7A182.2 182.2 0 0 1 -136.3 121.0M-110.5 147.1A184.0 184.0 0 0 1 -137.6 122.1M-111.5 148.5A185.7 185.7 0 0 1 -138.9 123.3M-112.5 149.9A187.4 187.4 0 0 1 -140.2 124.4M-113.6 151.3A189.2 189.2 0 0 1 -141.4 125.6M-114.6 152.6A190.9 190.9 0 0 1 -142.7 126.7M-115.6 154.0A192.6 192.6 0 0 1 -144.0 127.9M-116.7 155.4A194.3 194.3 0 0 1 -145.3 129.0M-117.7 156.8A196.1 196.1 0 0 1 -146.6 130.2" fill="none" stroke="#fff" stroke-width="0.5" stroke-opacity="0.45"/>
<path d="M-152.1 126.7A198.0 198.0 0 0 1 -163.6 111.6L-160.5 109.5A194.3 194.3 0 0 0 -149.3 124.4Z" fill="#F0C8CE"/>
<path d="M-149.5 124.5A194.5 194.5 0 0 1 -160.7 109.6L-157.7 107.6A190.9 190.9 0 0 0 -146.6 122.2Z" fill="#B4B8F6"/>
<path d="M-146.8 122.3A191.1 191.1 0 0 1 -157.8 107.7L-154.8 105.6A187.4 187.4 0 0 0 -144.0 120.0Z" fill="#F0C8CE"/>
<path d="M-144.1 120.1A187.6 187.6 0 0 1 -155.0 105.7L-152.0 103.7A184.0 184.0 0 0 0 -141.3 117.8Z" fill="#E07C80"/>
<path d="M-141.5 117.9A184.2 184.2 0 0 1 -152.1 103.8L-149.1 101.7A180.5 180.5 0 0 0 -138.7 115.5Z" fill="#F0C8CE"/>
<path d="M-163.6 111.6A198.0 198.0 0 0 1 -172.2 97.8L-169.0 96.0A194.3 194.3 0 0 0 -160.5 109.5Z" fill="#B4B8F6"/>
<path d="M-160.7 109.6A194.5 194.5 0 0 1 -169.2 96.1L-166.0 94.3A190.9 190.9 0 0 0 -157.7 107.6Z" fill="#7074EE"/>
<path d="M-157.8 107.7A191.1 191.1 0 0 1 -166.2 94.4L-163.0 92.6A187.4 187.4 0 0 0 -154.8 105.6Z" fill="#B4B8F6"/>
<path d="M-155.0 105.7A187.6 187.6 0 0 1 -163.1 92.7L-160.0 90.9A184.0 184.0 0 0 0 -152.0 103.7Z" fill="#F0C8CE"/>
<path d="M-152.1 103.8A184.2 184.2 0 0 1 -160.1 91.0L-157.0 89.1A180.5 180.5 0 0 0 -149.1 101.7Z" fill="#F0C8CE"/>
<path d="M-172.2 97.8A198.0 198.0 0 0 1 -180.7 80.8L-177.4 79.4A194.3 194.3 0 0 0 -169.0 96.0Z" fill="#B4B8F6"/>
<path d="M-169.2 96.1A194.5 194.5 0 0 1 -177.6 79.4L-174.2 77.9A190.9 190.9 0 0 0 -166.0 94.3Z" fill="#F0C8CE"/>
<path d="M-166.2 94.4A191.1 191.1 0 0 1 -174.4 78.0L-171.1 76.5A187.4 187.4 0 0 0 -163.0 92.6Z" fill="#E07C80"/>
<path d="M-163.1 92.7A187.6 187.6 0 0 1 -171.3 76.6L-167.9 75.1A184.0 184.0 0 0 0 -160.0 90.9Z" fill="#E07C80"/>
<path d="M-160.1 91.0A184.2 184.2 0 0 1 -168.1 75.2L-164.8 73.7A180.5 180.5 0 0 0 -157.0 89.1Z" fill="#F0C8CE"/>
<path d="M-140.0 116.6A182.2 182.2 0 0 1 -166.3 74.4M-141.3 117.8A184.0 184.0 0 0 1 -167.9 75.1M-142.7 118.9A185.7 185.7 0 0 1 -169.5 75.8M-144.0 120.0A187.4 187.4 0 0 1 -171.1 76.5M-145.3 121.1A189.2 189.2 0 0 1 -172.7 77.2M-146.6 122.2A190.9 190.9 0 0 1 -174.2 77.9M-148.0 123.3A192.6 192.6 0 0 1 -175.8 78.6M-149.3 124.4A194.3 194.3 0 0 1 -177.4 79.4M-150.6 125.5A196.1 196.1 0 0 1 -179.0 80.1" fill="none" stroke="#fff" stroke-width="0.5" stroke-opacity="0.45"/>
<path d="M-183.6 74.2A198.0 198.0 0 0 1 -190.7 53.3L-187.2 52.4A194.3 194.3 0 0 0 -180.2 72.8Z" fill="#B4B8F6"/>
<path d="M-180.4 72.9A194.5 194.5 0 0 1 -187.3 52.4L-183.8 51.4A190.9 190.9 0 0 0 -177.0 71.5Z" fill="#B4B8F6"/>
<path d="M-177.2 71.6A191.1 191.1 0 0 1 -184.0 51.5L-180.5 50.5A187.4 187.4 0 0 0 -173.8 70.2Z" fill="#B4B8F6"/>
<path d="M-174.0 70.3A187.6 187.6 0 0 1 -180.7 50.5L-177.2 49.6A184.0 184.0 0 0 0 -170.6 68.9Z" fill="#F0C8CE"/>
<path d="M-170.8 69.0A184.2 184.2 0 0 1 -177.4 49.6L-173.8 48.6A180.5 180.5 0 0 0 -167.4 67.6Z" fill="#F0C8CE"/>
<path d="M-190.7 53.3A198.0 198.0 0 0 1 -194.3 38.1L-190.7 37.3A194.3 194.3 0 0 0 -187.2 52.4Z" fill="#B4B8F6"/>
<path d="M-187.3 52.4A194.5 194.5 0 0 1 -190.9 37.4L-187.3 36.7A190.9 190.9 0 0 0 -183.8 51.4Z" fill="#7074EE"/>
<path d="M-184.0 51.5A191.1 191.1 0 0 1 -187.5 36.7L-183.9 36.0A187.4 187.4 0 0 0 -180.5 50.5Z" fill="#3C3CEB"/>
<path d="M-180.7 50.5A187.6 187.6 0 0 1 -184.1 36.1L-180.5 35.4A184.0 184.0 0 0 0 -177.2 49.6Z" fill="#7074EE"/>
<path d="M-177.4 49.6A184.2 184.2 0 0 1 -180.7 35.4L-177.1 34.7A180.5 180.5 0 0 0 -173.8 48.6Z" fill="#F0C8CE"/>
<path d="M-194.3 38.1A198.0 198.0 0 0 1 -197.6 13.1L-193.9 12.9A194.3 194.3 0 0 0 -190.7 37.3Z" fill="#B4B8F6"/>
<path d="M-190.9 37.4A194.5 194.5 0 0 1 -194.1 12.9L-190.5 12.7A190.9 190.9 0 0 0 -187.3 36.7Z" fill="#F0C8CE"/>
<path d="M-187.5 36.7A191.1 191.1 0 0 1 -190.7 12.7L-187.0 12.4A187.4 187.4 0 0 0 -183.9 36.0Z" fill="#F0C8CE"/>
<path d="M-184.1 36.1A187.6 187.6 0 0 1 -187.2 12.4L-183.6 12.2A184.0 184.0 0 0 0 -180.5 35.4Z" fill="#7074EE"/>
<path d="M-180.7 35.4A184.2 184.2 0 0 1 -183.8 12.2L-180.1 12.0A180.5 180.5 0 0 0 -177.1 34.7Z" fill="#B4B8F6"/>
<path d="M-169.0 68.3A182.2 182.2 0 0 1 -181.8 12.1M-170.6 68.9A184.0 184.0 0 0 1 -183.6 12.2M-172.2 69.6A185.7 185.7 0 0 1 -185.3 12.3M-173.8 70.2A187.4 187.4 0 0 1 -187.0 12.4M-175.4 70.9A189.2 189.2 0 0 1 -188.7 12.5M-177.0 71.5A190.9 190.9 0 0 1 -190.5 12.7M-178.6 72.2A192.6 192.6 0 0 1 -192.2 12.8M-180.2 72.8A194.3 194.3 0 0 1 -193.9 12.9M-181.8 73.4A196.1 196.1 0 0 1 -195.6 13.0" fill="none" stroke="#fff" stroke-width="0.5" stroke-opacity="0.45"/>
<path d="M-197.9 6.9A198.0 198.0 0 0 1 -195.1 -33.7L-191.5 -33.1A194.3 194.3 0 0 0 -194.2 6.8Z" fill="#ECEAF6"/>
<path d="M-194.4 6.8A194.5 194.5 0 0 1 -191.7 -33.1L-188.1 -32.5A190.9 190.9 0 0 0 -190.8 6.7Z" fill="#F0C8CE"/>
<path d="M-191.0 6.7A191.1 191.1 0 0 1 -188.3 -32.5L-184.7 -31.9A187.4 187.4 0 0 0 -187.3 6.5Z" fill="#E07C80"/>
<path d="M-187.5 6.5A187.6 187.6 0 0 1 -184.9 -31.9L-181.3 -31.3A184.0 184.0 0 0 0 -183.8 6.4Z" fill="#F0C8CE"/>
<path d="M-184.0 6.4A184.2 184.2 0 0 1 -181.5 -31.3L-177.9 -30.7A180.5 180.5 0 0 0 -180.4 6.3Z" fill="#B4B8F6"/>
<path d="M-182.1 6.4A182.2 182.2 0 0 1 -179.6 -31.0M-183.8 6.4A184.0 184.0 0 0 1 -181.3 -31.3M-185.6 6.5A185.7 185.7 0 0 1 -183.0 -31.6M-187.3 6.5A187.4 187.4 0 0 1 -184.7 -31.9M-189.0 6.6A189.2 189.2 0 0 1 -186.4 -32.2M-190.8 6.7A190.9 190.9 0 0 1 -188.1 -32.5M-192.5 6.7A192.6 192.6 0 0 1 -189.8 -32.8M-194.2 6.8A194.3 194.3 0 0 1 -191.5 -33.1M-196.0 6.8A196.1 196.1 0 0 1 -193.2 -33.4" fill="none" stroke="#fff" stroke-width="0.5" stroke-opacity="0.45"/>
<path d="M-194.2 -38.8A198.0 198.0 0 0 1 -190.1 -55.5L-186.5 -54.5A194.3 194.3 0 0 0 -190.6 -38.1Z" fill="#B4B8F6"/>
<path d="M-190.8 -38.1A194.5 194.5 0 0 1 -186.7 -54.5L-183.2 -53.5A190.9 190.9 0 0 0 -187.2 -37.4Z" fill="#3C3CEB"/>
<path d="M-187.4 -37.4A191.1 191.1 0 0 1 -183.4 -53.6L-179.9 -52.5A187.4 187.4 0 0 0 -183.8 -36.7Z" fill="#3C3CEB"/>
<path d="M-184.0 -36.8A187.6 187.6 0 0 1 -180.1 -52.6L-176.6 -51.6A184.0 184.0 0 0 0 -180.4 -36.0Z" fill="#3C3CEB"/>
<path d="M-180.6 -36.1A184.2 184.2 0 0 1 -176.8 -51.6L-173.3 -50.6A180.5 180.5 0 0 0 -177.0 -35.4Z" fill="#7074EE"/>
<path d="M-190.1 -55.5A198.0 198.0 0 0 1 -184.5 -71.8L-181.1 -70.5A194.3 194.3 0 0 0 -186.5 -54.5Z" fill="#B4B8F6"/>
<path d="M-186.7 -54.5A194.5 194.5 0 0 1 -181.3 -70.5L-177.9 -69.2A190.9 190.9 0 0 0 -183.2 -53.5Z" fill="#7074EE"/>
<path d="M-183.4 -53.6A191.1 191.1 0 0 1 -178.1 -69.3L-174.7 -68.0A187.4 187.4 0 0 0 -179.9 -52.5Z" fill="#E07C80"/>
<path d="M-180.1 -52.6A187.6 187.6 0 0 1 -174.9 -68.0L-171.4 -66.7A184.0 184.0 0 0 0 -176.6 -51.6Z" fill="#7074EE"/>
<path d="M-176.8 -51.6A184.2 184.2 0 0 1 -171.6 -66.8L-168.2 -65.4A180.5 180.5 0 0 0 -173.3 -50.6Z" fill="#3C3CEB"/>
<path d="M-184.5 -71.8A198.0 198.0 0 0 1 -175.0 -92.7L-171.8 -90.9A194.3 194.3 0 0 0 -181.1 -70.5Z" fill="#B4B8F6"/>
<path d="M-181.3 -70.5A194.5 194.5 0 0 1 -171.9 -91.0L-168.7 -89.3A190.9 190.9 0 0 0 -177.9 -69.2Z" fill="#3C3CEB"/>
<path d="M-178.1 -69.3A191.1 191.1 0 0 1 -168.9 -89.4L-165.6 -87.7A187.4 187.4 0 0 0 -174.7 -68.0Z" fill="#3C3CEB"/>
<path d="M-174.9 -68.0A187.6 187.6 0 0 1 -165.8 -87.8L-162.6 -86.1A184.0 184.0 0 0 0 -171.4 -66.7Z" fill="#3C3CEB"/>
<path d="M-171.6 -66.8A184.2 184.2 0 0 1 -162.8 -86.2L-159.5 -84.5A180.5 180.5 0 0 0 -168.2 -65.4Z" fill="#3C3CEB"/>
<path d="M-178.7 -35.7A182.2 182.2 0 0 1 -161.0 -85.3M-180.4 -36.0A184.0 184.0 0 0 1 -162.6 -86.1M-182.1 -36.4A185.7 185.7 0 0 1 -164.1 -86.9M-183.8 -36.7A187.4 187.4 0 0 1 -165.6 -87.7M-185.5 -37.1A189.2 189.2 0 0 1 -167.2 -88.5M-187.2 -37.4A190.9 190.9 0 0 1 -168.7 -89.3M-188.9 -37.7A192.6 192.6 0 0 1 -170.2 -90.1M-190.6 -38.1A194.3 194.3 0 0 1 -171.8 -90.9M-192.3 -38.4A196.1 196.1 0 0 1 -173.3 -91.7" fill="none" stroke="#fff" stroke-width="0.5" stroke-opacity="0.45"/>
<path d="M-172.5 -97.2A198.0 198.0 0 0 1 -164.2 -110.6L-161.2 -108.5A194.3 194.3 0 0 0 -169.3 -95.4Z" fill="#E07C80"/>
<path d="M-169.5 -95.5A194.5 194.5 0 0 1 -161.4 -108.6L-158.3 -106.6A190.9 190.9 0 0 0 -166.3 -93.7Z" fill="#E07C80"/>
<path d="M-166.5 -93.8A191.1 191.1 0 0 1 -158.5 -106.7L-155.5 -104.7A187.4 187.4 0 0 0 -163.3 -92.0Z" fill="#D83C3C"/>
<path d="M-163.5 -92.1A187.6 187.6 0 0 1 -155.6 -104.8L-152.6 -102.7A184.0 184.0 0 0 0 -160.3 -90.3Z" fill="#7074EE"/>
<path d="M-160.4 -90.4A184.2 184.2 0 0 1 -152.8 -102.8L-149.7 -100.8A180.5 180.5 0 0 0 -157.3 -88.6Z" fill="#B4B8F6"/>
<path d="M-164.2 -110.6A198.0 198.0 0 0 1 -155.0 -123.3L-152.1 -121.0A194.3 194.3 0 0 0 -161.2 -108.5Z" fill="#B4B8F6"/>
<path d="M-161.4 -108.6A194.5 194.5 0 0 1 -152.2 -121.1L-149.4 -118.8A190.9 190.9 0 0 0 -158.3 -106.6Z" fill="#7074EE"/>
<path d="M-158.5 -106.7A191.1 191.1 0 0 1 -149.5 -119.0L-146.7 -116.7A187.4 187.4 0 0 0 -155.5 -104.7Z" fill="#3C3CEB"/>
<path d="M-155.6 -104.8A187.6 187.6 0 0 1 -146.8 -116.8L-144.0 -114.5A184.0 184.0 0 0 0 -152.6 -102.7Z" fill="#7074EE"/>
<path d="M-152.8 -102.8A184.2 184.2 0 0 1 -144.1 -114.6L-141.3 -112.4A180.5 180.5 0 0 0 -149.7 -100.8Z" fill="#B4B8F6"/>
<path d="M-158.8 -89.5A182.2 182.2 0 0 1 -142.6 -113.4M-160.3 -90.3A184.0 184.0 0 0 1 -144.0 -114.5M-161.8 -91.2A185.7 185.7 0 0 1 -145.3 -115.6M-163.3 -92.0A187.4 187.4 0 0 1 -146.7 -116.7M-164.8 -92.9A189.2 189.2 0 0 1 -148.0 -117.7M-166.3 -93.7A190.9 190.9 0 0 1 -149.4 -118.8M-167.8 -94.6A192.6 192.6 0 0 1 -150.7 -119.9M-169.3 -95.4A194.3 194.3 0 0 1 -152.1 -121.0M-170.8 -96.3A196.1 196.1 0 0 1 -153.4 -122.1" fill="none" stroke="#fff" stroke-width="0.5" stroke-opacity="0.45"/>
<path d="M-151.2 -127.8A198.0 198.0 0 0 1 -136.3 -143.6L-133.8 -141.0A194.3 194.3 0 0 0 -148.4 -125.4Z" fill="#B4B8F6"/>
<path d="M-148.6 -125.6A194.5 194.5 0 0 1 -133.9 -141.1L-131.4 -138.5A190.9 190.9 0 0 0 -145.8 -123.2Z" fill="#B4B8F6"/>
<path d="M-145.9 -123.3A191.1 191.1 0 0 1 -131.5 -138.6L-129.0 -135.9A187.4 187.4 0 0 0 -143.2 -121.0Z" fill="#7074EE"/>
<path d="M-143.3 -121.1A187.6 187.6 0 0 1 -129.1 -136.1L-126.6 -133.4A184.0 184.0 0 0 0 -140.5 -118.7Z" fill="#7074EE"/>
<path d="M-140.7 -118.9A184.2 184.2 0 0 1 -126.8 -133.6L-124.2 -130.9A180.5 180.5 0 0 0 -137.9 -116.5Z" fill="#7074EE"/>
<path d="M-136.3 -143.6A198.0 198.0 0 0 1 -119.7 -157.7L-117.5 -154.8A194.3 194.3 0 0 0 -133.8 -141.0Z" fill="#F0C8CE"/>
<path d="M-133.9 -141.1A194.5 194.5 0 0 1 -117.6 -155.0L-115.4 -152.0A190.9 190.9 0 0 0 -131.4 -138.5Z" fill="#B4B8F6"/>
<path d="M-131.5 -138.6A191.1 191.1 0 0 1 -115.5 -152.2L-113.3 -149.3A187.4 187.4 0 0 0 -129.0 -135.9Z" fill="#3C3CEB"/>
<path d="M-129.1 -136.1A187.6 187.6 0 0 1 -113.4 -149.4L-111.2 -146.5A184.0 184.0 0 0 0 -126.6 -133.4Z" fill="#3C3CEB"/>
<path d="M-126.8 -133.6A184.2 184.2 0 0 1 -111.3 -146.7L-109.1 -143.8A180.5 180.5 0 0 0 -124.2 -130.9Z" fill="#7074EE"/>
<path d="M-139.2 -117.6A182.2 182.2 0 0 1 -110.2 -145.2M-140.5 -118.7A184.0 184.0 0 0 1 -111.2 -146.5M-141.8 -119.9A185.7 185.7 0 0 1 -112.3 -147.9M-143.2 -121.0A187.4 187.4 0 0 1 -113.3 -149.3M-144.5 -122.1A189.2 189.2 0 0 1 -114.4 -150.7M-145.8 -123.2A190.9 190.9 0 0 1 -115.4 -152.0M-147.1 -124.3A192.6 192.6 0 0 1 -116.5 -153.4M-148.4 -125.4A194.3 194.3 0 0 1 -117.5 -154.8M-149.8 -126.6A196.1 196.1 0 0 1 -118.5 -156.2" fill="none" stroke="#fff" stroke-width="0.5" stroke-opacity="0.45"/>
<path d="M-113.9 -162.0A198.0 198.0 0 0 1 -102.4 -169.5L-100.5 -166.3A194.3 194.3 0 0 0 -111.7 -159.0Z" fill="#7074EE"/>
<path d="M-111.9 -159.2A194.5 194.5 0 0 1 -100.6 -166.5L-98.7 -163.4A190.9 190.9 0 0 0 -109.8 -156.2Z" fill="#3C3CEB"/>
<path d="M-109.9 -156.3A191.1 191.1 0 0 1 -98.8 -163.5L-96.9 -160.4A187.4 187.4 0 0 0 -107.8 -153.3Z" fill="#7074EE"/>
<path d="M-107.9 -153.5A187.6 187.6 0 0 1 -97.1 -160.6L-95.2 -157.4A184.0 184.0 0 0 0 -105.8 -150.5Z" fill="#3C3CEB"/>
<path d="M-105.9 -150.7A184.2 184.2 0 0 1 -95.3 -157.6L-93.4 -154.5A180.5 180.5 0 0 0 -103.8 -147.7Z" fill="#7074EE"/>
<path d="M-102.4 -169.5A198.0 198.0 0 0 1 -90.5 -176.1L-88.8 -172.8A194.3 194.3 0 0 0 -100.5 -166.3Z" fill="#B4B8F6"/>
<path d="M-100.6 -166.5A194.5 194.5 0 0 1 -88.9 -173.0L-87.3 -169.8A190.9 190.9 0 0 0 -98.7 -163.4Z" fill="#7074EE"/>
<path d="M-98.8 -163.5A191.1 191.1 0 0 1 -87.3 -169.9L-85.7 -166.7A187.4 187.4 0 0 0 -96.9 -160.4Z" fill="#F0C8CE"/>
<path d="M-97.1 -160.6A187.6 187.6 0 0 1 -85.8 -166.9L-84.1 -163.6A184.0 184.0 0 0 0 -95.2 -157.4Z" fill="#3C3CEB"/>
<path d="M-95.3 -157.6A184.2 184.2 0 0 1 -84.2 -163.8L-82.5 -160.5A180.5 180.5 0 0 0 -93.4 -154.5Z" fill="#3C3CEB"/>
<path d="M-104.8 -149.1A182.2 182.2 0 0 1 -83.3 -162.1M-105.8 -150.5A184.0 184.0 0 0 1 -84.1 -163.6M-106.8 -151.9A185.7 185.7 0 0 1 -84.9 -165.2M-107.8 -153.3A187.4 187.4 0 0 1 -85.7 -166.7M-108.8 -154.8A189.2 189.2 0 0 1 -86.5 -168.2M-109.8 -156.2A190.9 190.9 0 0 1 -87.3 -169.8M-110.8 -157.6A192.6 192.6 0 0 1 -88.0 -171.3M-111.7 -159.0A194.3 194.3 0 0 1 -88.8 -172.8M-112.7 -160.4A196.1 196.1 0 0 1 -89.6 -174.4" fill="none" stroke="#fff" stroke-width="0.5" stroke-opacity="0.45"/>
<path d="M-84.6 -179.0A198.0 198.0 0 0 1 -70.3 -185.1L-69.0 -181.7A194.3 194.3 0 0 0 -83.1 -175.7Z" fill="#B4B8F6"/>
<path d="M-83.1 -175.9A194.5 194.5 0 0 1 -69.1 -181.9L-67.8 -178.4A190.9 190.9 0 0 0 -81.6 -172.6Z" fill="#7074EE"/>
<path d="M-81.7 -172.8A191.1 191.1 0 0 1 -67.9 -178.6L-66.6 -175.2A187.4 187.4 0 0 0 -80.1 -169.4Z" fill="#7074EE"/>
<path d="M-80.2 -169.6A187.6 187.6 0 0 1 -66.6 -175.4L-65.3 -172.0A184.0 184.0 0 0 0 -78.6 -166.3Z" fill="#B4B8F6"/>
<path d="M-78.7 -166.5A184.2 184.2 0 0 1 -65.4 -172.2L-64.1 -168.7A180.5 180.5 0 0 0 -77.1 -163.2Z" fill="#B4B8F6"/>
<path d="M-70.3 -185.1A198.0 198.0 0 0 1 -55.6 -190.0L-54.5 -186.5A194.3 194.3 0 0 0 -69.0 -181.7Z" fill="#B4B8F6"/>
<path d="M-69.1 -181.9A194.5 194.5 0 0 1 -54.6 -186.7L-53.6 -183.2A190.9 190.9 0 0 0 -67.8 -178.4Z" fill="#E07C80"/>
<path d="M-67.9 -178.6A191.1 191.1 0 0 1 -53.6 -183.4L-52.6 -179.9A187.4 187.4 0 0 0 -66.6 -175.2Z" fill="#E07C80"/>
<path d="M-66.6 -175.4A187.6 187.6 0 0 1 -52.7 -180.1L-51.6 -176.6A184.0 184.0 0 0 0 -65.3 -172.0Z" fill="#F0C8CE"/>
<path d="M-65.4 -172.2A184.2 184.2 0 0 1 -51.7 -176.8L-50.7 -173.2A180.5 180.5 0 0 0 -64.1 -168.7Z" fill="#B4B8F6"/>
<path d="M-77.9 -164.8A182.2 182.2 0 0 1 -51.1 -174.9M-78.6 -166.3A184.0 184.0 0 0 1 -51.6 -176.6M-79.4 -167.9A185.7 185.7 0 0 1 -52.1 -178.2M-80.1 -169.4A187.4 187.4 0 0 1 -52.6 -179.9M-80.8 -171.0A189.2 189.2 0 0 1 -53.1 -181.5M-81.6 -172.6A190.9 190.9 0 0 1 -53.6 -183.2M-82.3 -174.1A192.6 192.6 0 0 1 -54.1 -184.9M-83.1 -175.7A194.3 194.3 0 0 1 -54.5 -186.5M-83.8 -177.3A196.1 196.1 0 0 1 -55.0 -188.2" fill="none" stroke="#fff" stroke-width="0.5" stroke-opacity="0.45"/>
<path d="M-49.6 -191.7A198.0 198.0 0 0 1 -39.5 -194.0L-38.7 -190.4A194.3 194.3 0 0 0 -48.7 -188.1Z" fill="#F0C8CE"/>
<path d="M-48.7 -188.3A194.5 194.5 0 0 1 -38.8 -190.6L-38.1 -187.0A190.9 190.9 0 0 0 -47.8 -184.8Z" fill="#E07C80"/>
<path d="M-47.8 -185.0A191.1 191.1 0 0 1 -38.1 -187.2L-37.4 -183.7A187.4 187.4 0 0 0 -46.9 -181.5Z" fill="#E07C80"/>
<path d="M-47.0 -181.6A187.6 187.6 0 0 1 -37.4 -183.9L-36.7 -180.3A184.0 184.0 0 0 0 -46.1 -178.1Z" fill="#F0C8CE"/>
<path d="M-46.1 -178.3A184.2 184.2 0 0 1 -36.7 -180.5L-36.0 -176.9A180.5 180.5 0 0 0 -45.2 -174.8Z" fill="#F0C8CE"/>
<path d="M-45.6 -176.4A182.2 182.2 0 0 1 -36.3 -178.6M-46.1 -178.1A184.0 184.0 0 0 1 -36.7 -180.3M-46.5 -179.8A185.7 185.7 0 0 1 -37.0 -182.0M-46.9 -181.5A187.4 187.4 0 0 1 -37.4 -183.7M-47.4 -183.1A189.2 189.2 0 0 1 -37.7 -185.4M-47.8 -184.8A190.9 190.9 0 0 1 -38.1 -187.0M-48.2 -186.5A192.6 192.6 0 0 1 -38.4 -188.7M-48.7 -188.1A194.3 194.3 0 0 1 -38.7 -190.4M-49.1 -189.8A196.1 196.1 0 0 1 -39.1 -192.1" fill="none" stroke="#fff" stroke-width="0.5" stroke-opacity="0.45"/>
<path d="M-33.0 -195.2A198.0 198.0 0 0 1 -19.7 -197.0L-19.3 -193.4A194.3 194.3 0 0 0 -32.4 -191.6Z" fill="#B4B8F6"/>
<path d="M-32.4 -191.8A194.5 194.5 0 0 1 -19.3 -193.6L-19.0 -189.9A190.9 190.9 0 0 0 -31.8 -188.2Z" fill="#7074EE"/>
<path d="M-31.9 -188.4A191.1 191.1 0 0 1 -19.0 -190.1L-18.6 -186.5A187.4 187.4 0 0 0 -31.3 -184.8Z" fill="#3C3CEB"/>
<path d="M-31.3 -185.0A187.6 187.6 0 0 1 -18.6 -186.7L-18.3 -183.1A184.0 184.0 0 0 0 -30.7 -181.4Z" fill="#7074EE"/>
<path d="M-30.7 -181.6A184.2 184.2 0 0 1 -18.3 -183.2L-17.9 -179.6A180.5 180.5 0 0 0 -30.1 -178.0Z" fill="#B4B8F6"/>
<path d="M-19.7 -197.0A198.0 198.0 0 0 1 -6.2 -197.9L-6.1 -194.2A194.3 194.3 0 0 0 -19.3 -193.4Z" fill="#B4B8F6"/>
<path d="M-19.3 -193.6A194.5 194.5 0 0 1 -6.1 -194.4L-6.0 -190.8A190.9 190.9 0 0 0 -19.0 -189.9Z" fill="#F0C8CE"/>
<path d="M-19.0 -190.1A191.1 191.1 0 0 1 -6.0 -191.0L-5.9 -187.3A187.4 187.4 0 0 0 -18.6 -186.5Z" fill="#E07C80"/>
<path d="M-18.6 -186.7A187.6 187.6 0 0 1 -5.9 -187.5L-5.8 -183.9A184.0 184.0 0 0 0 -18.3 -183.1Z" fill="#F0C8CE"/>
<path d="M-18.3 -183.2A184.2 184.2 0 0 1 -5.8 -184.1L-5.7 -180.4A180.5 180.5 0 0 0 -17.9 -179.6Z" fill="#B4B8F6"/>
<path d="M-30.4 -179.7A182.2 182.2 0 0 1 -5.7 -182.1M-30.7 -181.4A184.0 184.0 0 0 1 -5.8 -183.9M-31.0 -183.1A185.7 185.7 0 0 1 -5.8 -185.6M-31.3 -184.8A187.4 187.4 0 0 1 -5.9 -187.3M-31.5 -186.5A189.2 189.2 0 0 1 -5.9 -189.1M-31.8 -188.2A190.9 190.9 0 0 1 -6.0 -190.8M-32.1 -189.9A192.6 192.6 0 0 1 -6.1 -192.5M-32.4 -191.6A194.3 194.3 0 0 1 -6.1 -194.2M-32.7 -193.3A196.1 196.1 0 0 1 -6.2 -196.0" fill="none" stroke="#fff" stroke-width="0.5" stroke-opacity="0.45"/>
<path d="M1.5 -121.5A121.5 121.5 0 0 1 59.1 -106.2L50.1 -90.0A103.0 103.0 0 0 0 1.3 -103.0Z" fill="#E8E8E8"/>
<path d="M2.2 -116.4L21.4 -117.6L39.9 -112.6L55.9 -102.2" fill="none" stroke="#D85050" stroke-width="0.8"/>
<path d="M64.0 -103.3A121.5 121.5 0 0 1 109.4 -52.9L92.7 -44.8A103.0 103.0 0 0 0 54.3 -87.5Z" fill="#E8E8E8"/>
<path d="M59.1 -93.9L74.4 -80.6L84.1 -62.8L94.2 -46.4" fill="none" stroke="#D85050" stroke-width="0.8"/>
<path d="M111.8 -47.5A121.5 121.5 0 0 1 121.1 9.7L102.7 8.3A103.0 103.0 0 0 0 94.8 -40.2Z" fill="#E8E8E8"/>
<path d="M105.7 -44.0L107.6 -26.2L109.5 -9.1L116.2 8.5" fill="none" stroke="#D85050" stroke-width="0.8"/>
<path d="M120.5 15.9A121.5 121.5 0 0 1 102.1 65.8L86.6 55.8A103.0 103.0 0 0 0 102.1 13.4Z" fill="#E8E8E8"/>
<path d="M115.9 16.1L108.4 39.8L97.4 61.8" fill="none" stroke="#D85050" stroke-width="0.8"/>
<path d="M98.7 70.9A121.5 121.5 0 0 1 58.5 106.5L49.6 90.3A103.0 103.0 0 0 0 83.6 60.1Z" fill="#E8E8E8"/>
<path d="M86.3 62.9L71.3 80.5L51.2 91.7" fill="none" stroke="#D85050" stroke-width="0.8"/>
<path d="M53.3 109.2A121.5 121.5 0 0 1 14.0 120.7L11.8 102.3A103.0 103.0 0 0 0 45.2 92.6Z" fill="#E8E8E8"/>
<path d="M46.2 96.3L30.7 104.9L14.0 113.7" fill="none" stroke="#D85050" stroke-width="0.8"/>
<path d="M7.8 121.2A121.5 121.5 0 0 1 -21.1 119.7L-17.9 101.4A103.0 103.0 0 0 0 6.6 102.8Z" fill="#E8E8E8"/>
<path d="M6.8 117.4L-6.6 119.3L-18.8 111.2" fill="none" stroke="#D85050" stroke-width="0.8"/>
<path d="M-25.7 118.8A121.5 121.5 0 0 1 -28.4 118.1L-24.0 100.2A103.0 103.0 0 0 0 -21.8 100.7Z" fill="#E8E8E8"/>
<path d="M-33.3 116.9A121.5 121.5 0 0 1 -68.8 100.1L-58.3 84.9A103.0 103.0 0 0 0 -28.2 99.1Z" fill="#E8E8E8"/>
<path d="M-29.8 101.8L-45.2 96.0L-59.0 87.1" fill="none" stroke="#D85050" stroke-width="0.8"/>
<path d="M-73.6 96.7A121.5 121.5 0 0 1 -90.3 81.3L-76.5 68.9A103.0 103.0 0 0 0 -62.4 81.9Z" fill="#E8E8E8"/>
<path d="M-67.4 87.2L-77.6 84.2L-82.7 75.5" fill="none" stroke="#D85050" stroke-width="0.8"/>
<path d="M-93.9 77.1A121.5 121.5 0 0 1 -110.6 50.4L-93.7 42.7A103.0 103.0 0 0 0 -79.6 65.4Z" fill="#E8E8E8"/>
<path d="M-89.4 72.4L-97.0 60.5L-107.5 49.9" fill="none" stroke="#D85050" stroke-width="0.8"/>
<path d="M-113.0 44.7A121.5 121.5 0 0 1 -121.2 8.9L-102.7 7.5A103.0 103.0 0 0 0 -95.8 37.9Z" fill="#E8E8E8"/>
<path d="M-102.7 39.8L-111.5 25.5L-114.1 9.2" fill="none" stroke="#D85050" stroke-width="0.8"/>
<path d="M-121.5 3.4A121.5 121.5 0 0 1 -119.9 -19.8L-101.6 -16.8A103.0 103.0 0 0 0 -103.0 2.9Z" fill="#E8E8E8"/>
<path d="M-109.0 2.3L-104.8 -7.1L-109.7 -17.4" fill="none" stroke="#D85050" stroke-width="0.8"/>
<path d="M-119.0 -24.6A121.5 121.5 0 0 1 -107.8 -56.1L-91.4 -47.6A103.0 103.0 0 0 0 -100.9 -20.9Z" fill="#E8E8E8"/>
<path d="M-114.4 -24.5L-108.5 -38.6L-106.4 -54.4" fill="none" stroke="#D85050" stroke-width="0.8"/>
<path d="M-105.4 -60.4A121.5 121.5 0 0 1 -95.6 -75.0L-81.1 -63.6A103.0 103.0 0 0 0 -89.4 -51.2Z" fill="#E8E8E8"/>
<path d="M-102.1 -59.4L-98.7 -66.4L-91.2 -70.5" fill="none" stroke="#D85050" stroke-width="0.8"/>
<path d="M-92.3 -79.1A121.5 121.5 0 0 1 -74.1 -96.3L-62.8 -81.6A103.0 103.0 0 0 0 -78.2 -67.0Z" fill="#E8E8E8"/>
<path d="M-86.6 -75.3L-80.8 -85.1L-71.9 -92.1" fill="none" stroke="#D85050" stroke-width="0.8"/>
<path d="M-69.2 -99.9A121.5 121.5 0 0 1 -56.3 -107.7L-47.7 -91.3A103.0 103.0 0 0 0 -58.6 -84.7Z" fill="#E8E8E8"/>
<path d="M-64.4 -94.4L-56.3 -93.1L-52.4 -98.5" fill="none" stroke="#D85050" stroke-width="0.8"/>
<path d="M-51.2 -110.2A121.5 121.5 0 0 1 -34.9 -116.4L-29.6 -98.7A103.0 103.0 0 0 0 -43.4 -93.4Z" fill="#E8E8E8"/>
<path d="M-46.0 -100.9L-40.9 -107.6L-32.6 -105.9" fill="none" stroke="#D85050" stroke-width="0.8"/>
<path d="M-29.6 -117.8A121.5 121.5 0 0 1 -25.1 -118.9L-21.2 -100.8A103.0 103.0 0 0 0 -25.1 -99.9Z" fill="#E8E8E8"/>
<path d="M-27.6 -113.1L-25.8 -111.8L-25.1 -115.0" fill="none" stroke="#D85050" stroke-width="0.8"/>
<path d="M-19.4 -119.9A121.5 121.5 0 0 1 -4.7 -121.4L-4.0 -102.9A103.0 103.0 0 0 0 -16.5 -101.7Z" fill="#E8E8E8"/>
<path d="M-18.1 -116.8L-11.9 -118.9L-5.4 -119.4" fill="none" stroke="#D85050" stroke-width="0.8"/>
<path d="M26.7 -174.0L25.8 -168.0L12.5 -151.5L11.9 -144.5M96.5 -147.2L93.2 -142.2L82.4 -127.7L78.6 -121.8M106.2 -140.3L102.6 -135.5L86.5 -125.0L82.5 -119.2M135.3 -112.6L130.7 -108.7L121.6 -91.2L116.0 -87.0M173.6 28.8L167.7 27.8L150.9 18.7L143.9 17.8M170.4 44.0L164.6 42.5L148.6 32.2L141.7 30.7M159.2 75.0L153.8 72.5L138.2 63.2L131.9 60.3M141.2 105.0L136.4 101.4L119.3 94.2L113.8 89.9M116.7 131.7L112.8 127.2L107.8 107.2L102.8 102.3M109.8 137.6L106.1 132.9L95.2 118.5L90.8 113.0M52.4 168.0L50.6 162.3L35.9 147.7L34.3 140.9M45.8 169.9L44.3 164.1L44.4 145.4L42.4 138.7M39.5 171.5L38.1 165.7L44.0 145.5L42.0 138.8M29.4 173.5L28.4 167.6L32.4 148.5L30.9 141.7M22.3 174.6L21.5 168.6L24.5 150.0L23.4 143.1M2.4 176.0L2.3 170.0L-1.7 152.0L-1.6 145.0M-20.8 174.8L-20.1 168.8L-19.0 150.8L-18.1 143.9M-53.0 167.8L-51.2 162.1L-39.7 146.7L-37.9 140.0M-86.8 153.1L-83.8 147.9L-66.7 136.6L-63.6 130.3M-96.4 147.3L-93.1 142.2L-85.0 126.0L-81.1 120.2M-116.2 132.2L-112.3 127.7L-106.9 108.0L-102.0 103.1M-144.5 100.5L-139.5 97.1L-128.6 81.1L-122.6 77.4M-149.3 93.2L-144.2 90.0L-127.7 82.5L-121.8 78.7M-172.3 35.8L-166.5 34.6L-150.4 22.1L-143.5 21.1M-174.1 25.9L-168.1 25.1L-151.5 12.9L-144.5 12.3M-175.1 17.5L-169.2 16.9L-151.0 17.0L-144.1 16.2M-171.2 -40.8L-165.4 -39.4L-146.9 -39.0L-140.1 -37.2M-169.0 -49.3L-163.2 -47.6L-147.3 -37.4L-140.5 -35.7M-165.4 -60.2L-159.8 -58.1L-139.3 -60.8L-132.9 -58.0M-162.1 -68.6L-156.6 -66.3L-142.5 -53.0L-135.9 -50.6M-99.5 -145.2L-96.1 -140.2L-90.3 -122.3L-86.1 -116.7M-92.0 -150.0L-88.9 -144.9L-88.1 -123.9L-84.0 -118.2M-82.6 -155.4L-79.8 -150.1L-79.9 -129.3L-76.2 -123.4M-61.5 -164.9L-59.4 -159.3L-58.2 -140.4L-55.5 -134.0M-40.9 -171.2L-39.5 -165.3L-26.4 -149.7L-25.1 -142.8" fill="none" stroke="#E02828" stroke-width="1.1"/>
<path d="M3.6 -176.0L3.5 -170.0L7.6 -151.8L7.3 -144.8M34.1 -172.7L32.9 -166.8L32.2 -148.6L30.7 -141.7M76.1 -158.7L73.5 -153.3L65.5 -137.1L62.5 -130.8M82.3 -155.6L79.5 -150.3L77.8 -130.6L74.3 -124.5M116.9 -131.6L112.9 -127.1L107.6 -107.4L102.6 -102.5M143.3 -102.2L138.4 -98.7L122.5 -90.0L116.9 -85.8M150.0 -92.0L144.9 -88.9L132.1 -75.2L126.0 -71.7M156.4 -80.7L151.1 -77.9L137.0 -65.9L130.6 -62.9M164.8 61.7L159.2 59.6L143.4 50.3L136.8 48.0M134.8 113.1L130.2 109.3L120.0 93.3L114.5 89.0M128.8 120.0L124.4 115.9L111.1 103.7L106.0 98.9M101.9 143.5L98.4 138.6L96.1 117.8L91.7 112.3M95.3 148.0L92.1 142.9L80.6 128.9L76.9 123.0M74.8 159.3L72.2 153.9L62.4 138.6L59.5 132.2M68.4 162.2L66.1 156.6L58.0 140.5L55.4 134.0M-38.5 171.7L-37.2 165.9L-33.0 148.4L-31.5 141.5M-69.9 161.5L-67.5 156.0L-52.4 142.7L-49.9 136.1M-129.2 119.5L-124.8 115.4L-109.0 105.9L-104.0 101.0M-138.5 108.6L-133.8 104.9L-119.7 93.7L-114.2 89.4M-158.5 76.5L-153.1 73.9L-135.7 68.4L-129.5 65.3M-164.4 62.9L-158.8 60.7L-140.2 58.7L-133.8 56.0M-167.6 53.6L-161.9 51.7L-141.7 55.0L-135.2 52.5M-170.4 44.0L-164.6 42.5L-144.3 47.7L-137.7 45.5M-148.0 -95.2L-143.0 -91.9L-129.1 -80.2L-123.2 -76.5M-140.0 -106.7L-135.2 -103.0L-126.2 -84.6L-120.4 -80.8M-131.7 -116.7L-127.2 -112.7L-113.7 -100.8L-108.5 -96.2M-128.8 -119.9L-124.4 -115.8L-109.7 -105.2L-104.6 -100.4M-124.4 -124.5L-120.2 -120.2L-111.0 -103.8L-105.9 -99.0M-116.0 -132.3L-112.1 -127.8L-105.8 -109.1L-101.0 -104.1M-112.2 -135.6L-108.4 -131.0L-97.4 -116.7L-92.9 -111.3M-107.7 -139.2L-104.0 -134.5L-99.1 -115.3L-94.5 -110.0M-95.4 -147.9L-92.1 -142.9L-84.2 -126.6L-80.3 -120.7M-72.2 -160.5L-69.8 -155.0L-68.9 -135.5L-65.8 -129.2M-52.8 -167.9L-51.0 -162.2L-55.5 -141.5L-53.0 -135.0M-24.4 -174.3L-23.6 -168.4L-31.2 -148.8L-29.8 -141.9" fill="none" stroke="#2828F0" stroke-width="1.1"/>
<path d="M11.8 -175.6L11.4 -169.6L11.3 -151.6L10.8 -144.6M19.5 -174.9L18.8 -169.0L26.5 -149.7L25.3 -142.8M42.9 -170.7L41.4 -164.9L33.5 -148.3L31.9 -141.4M50.3 -168.7L48.6 -162.9L37.0 -147.4L35.3 -140.6M55.0 -167.2L53.1 -161.5L45.6 -145.0L43.5 -138.3M61.8 -164.8L59.7 -159.2L60.4 -139.5L57.6 -133.1M68.9 -161.9L66.6 -156.4L60.1 -139.6L57.3 -133.2M126.4 -122.5L122.1 -118.3L108.5 -106.5L103.5 -101.6M173.5 -29.6L167.6 -28.6L147.9 -35.2L141.1 -33.6M151.1 90.3L145.9 87.2L125.4 85.9L119.6 81.9M123.2 125.7L119.0 121.4L109.2 105.8L104.1 100.9M87.0 153.0L84.1 147.8L74.7 132.4L71.3 126.3M61.3 165.0L59.2 159.3L43.1 145.8L41.1 139.0M-60.5 165.3L-58.4 159.6L-46.1 144.8L-44.0 138.2M-79.0 157.3L-76.3 151.9L-62.0 138.8L-59.2 132.4M-110.3 137.1L-106.6 132.5L-101.6 113.1L-96.9 107.9M-121.6 127.3L-117.4 122.9L-110.3 104.6L-105.2 99.8M-154.0 85.2L-148.8 82.3L-136.7 66.4L-130.4 63.3M-175.7 -10.5L-169.7 -10.1L-152.0 0.1L-145.0 0.1M-158.0 -77.6L-152.6 -74.9L-134.1 -71.5L-127.9 -68.2M-152.1 -88.6L-146.9 -85.6L-133.1 -73.4L-127.0 -70.0M-143.5 -101.9L-138.6 -98.4L-125.9 -85.1L-120.1 -81.2M-121.6 -127.3L-117.4 -122.9L-98.9 -115.4L-94.3 -110.1M-88.1 -152.4L-85.1 -147.2L-72.8 -133.4L-69.4 -127.3M-86.6 -153.2L-83.7 -148.0L-71.9 -133.9L-68.6 -127.8M-18.3 -175.0L-17.7 -169.1L-20.8 -150.6L-19.8 -143.6M-9.3 -175.8L-8.9 -169.8L-14.2 -151.3L-13.6 -144.4" fill="none" stroke="#111111" stroke-width="1.1"/>
<text transform="translate(7.1,-140.8) rotate(-87.1)" font-size="4.6" text-anchor="end" fill="#2828F0">GENE2</text>
<text transform="translate(10.5,-140.6) rotate(-85.7)" font-size="4.6" text-anchor="end" fill="#111111">GENE4</text>
<text transform="translate(24.6,-138.8) rotate(-80.0)" font-size="4.6" text-anchor="end" fill="#111111">GENE10</text>
<text transform="translate(11.6,-140.5) rotate(-85.3)" font-size="4.6" text-anchor="end" fill="#E02828">GENE4</text>
<text transform="translate(29.8,-137.8) rotate(-77.8)" font-size="4.6" text-anchor="end" fill="#2828F0">GENE12</text>
<text transform="translate(31.1,-137.5) rotate(-77.3)" font-size="4.6" text-anchor="end" fill="#111111">GENE12</text>
<text transform="translate(34.4,-136.7) rotate(-75.9)" font-size="4.6" text-anchor="end" fill="#111111">GENE14</text>
<text transform="translate(42.3,-134.5) rotate(-72.6)" font-size="4.6" text-anchor="end" fill="#111111">GENE17</text>
<text transform="translate(56.0,-129.4) rotate(-66.6)" font-size="4.6" text-anchor="end" fill="#111111">GENE23</text>
<text transform="translate(55.7,-129.5) rotate(-66.7)" font-size="4.6" text-anchor="end" fill="#111111">GENE23</text>
<text transform="translate(60.8,-127.2) rotate(-64.5)" font-size="4.6" text-anchor="end" fill="#2828F0">GENE25</text>
<text transform="translate(72.2,-121.1) rotate(-59.2)" font-size="4.6" text-anchor="end" fill="#2828F0">GENE30</text>
<text transform="translate(76.4,-118.5) rotate(-57.2)" font-size="4.6" text-anchor="end" fill="#E02828">GENE32</text>
<text transform="translate(80.2,-115.9) rotate(-55.3)" font-size="4.6" text-anchor="end" fill="#E02828">GENE34</text>
<text transform="translate(99.8,-99.6) rotate(-45.0)" font-size="4.6" text-anchor="end" fill="#2828F0">GENE45</text>
<text transform="translate(100.6,-98.8) rotate(-44.5)" font-size="4.6" text-anchor="end" fill="#111111">GENE45</text>
<text transform="translate(112.8,-84.6) rotate(-36.9)" font-size="4.6" text-anchor="end" fill="#E02828">GENE53</text>
<text transform="translate(113.7,-83.5) rotate(-36.3)" font-size="4.6" text-anchor="end" fill="#2828F0">GENE53</text>
<text transform="translate(122.6,-69.7) rotate(-29.6)" font-size="4.6" text-anchor="end" fill="#2828F0">GENE60</text>
<text transform="translate(127.0,-61.2) rotate(-25.7)" font-size="4.6" text-anchor="end" fill="#2828F0">GENE64</text>
<text transform="translate(137.2,-32.6) rotate(-13.4)" font-size="4.6" text-anchor="end" fill="#111111">GENE76</text>
<text transform="translate(139.9,17.3) rotate(7.0)" font-size="4.6" text-anchor="end" fill="#E02828">GENE0</text>
<text transform="translate(137.8,29.8) rotate(12.2)" font-size="4.6" text-anchor="end" fill="#E02828">GENE5</text>
<text transform="translate(133.0,46.7) rotate(19.3)" font-size="4.6" text-anchor="end" fill="#2828F0">GENE12</text>
<text transform="translate(128.2,58.6) rotate(24.6)" font-size="4.6" text-anchor="end" fill="#E02828">GENE17</text>
<text transform="translate(116.3,79.7) rotate(34.4)" font-size="4.6" text-anchor="end" fill="#111111">GENE27</text>
<text transform="translate(110.7,87.4) rotate(38.3)" font-size="4.6" text-anchor="end" fill="#E02828">GENE31</text>
<text transform="translate(111.3,86.5) rotate(37.9)" font-size="4.6" text-anchor="end" fill="#2828F0">GENE30</text>
<text transform="translate(103.1,96.2) rotate(43.0)" font-size="4.6" text-anchor="end" fill="#2828F0">GENE36</text>
<text transform="translate(101.3,98.1) rotate(44.1)" font-size="4.6" text-anchor="end" fill="#111111">GENE37</text>
<text transform="translate(100.0,99.4) rotate(44.8)" font-size="4.6" text-anchor="end" fill="#E02828">GENE37</text>
<text transform="translate(88.3,109.9) rotate(51.2)" font-size="4.6" text-anchor="end" fill="#E02828">GENE44</text>
<text transform="translate(89.1,109.2) rotate(50.8)" font-size="4.6" text-anchor="end" fill="#2828F0">GENE43</text>
<text transform="translate(74.7,119.6) rotate(58.0)" font-size="4.6" text-anchor="end" fill="#2828F0">GENE50</text>
<text transform="translate(69.3,122.8) rotate(60.6)" font-size="4.6" text-anchor="end" fill="#111111">GENE53</text>
<text transform="translate(57.9,128.6) rotate(65.8)" font-size="4.6" text-anchor="end" fill="#2828F0">GENE58</text>
<text transform="translate(53.8,130.3) rotate(67.6)" font-size="4.6" text-anchor="end" fill="#2828F0">GENE60</text>
<text transform="translate(40.0,135.2) rotate(73.5)" font-size="4.6" text-anchor="end" fill="#111111">GENE66</text>
<text transform="translate(33.3,137.0) rotate(76.3)" font-size="4.6" text-anchor="end" fill="#E02828">GENE69</text>
<text transform="translate(41.2,134.8) rotate(73.0)" font-size="4.6" text-anchor="end" fill="#E02828">GENE65</text>
<text transform="translate(40.8,135.0) rotate(73.2)" font-size="4.6" text-anchor="end" fill="#E02828">GENE66</text>
<text transform="translate(30.1,137.8) rotate(77.7)" font-size="4.6" text-anchor="end" fill="#E02828">GENE70</text>
<text transform="translate(22.7,139.2) rotate(80.7)" font-size="4.6" text-anchor="end" fill="#E02828">GENE73</text>
<text transform="translate(-1.6,141.0) rotate(270.6)" font-size="4.6" text-anchor="start" fill="#E02828">GENE83</text>
<text transform="translate(-17.6,139.9) rotate(277.2)" font-size="4.6" text-anchor="start" fill="#E02828">GENE90</text>
<text transform="translate(-30.6,137.6) rotate(282.5)" font-size="4.6" text-anchor="start" fill="#2828F0">GENE95</text>
<text transform="translate(-36.9,136.1) rotate(285.2)" font-size="4.6" text-anchor="start" fill="#E02828">GENE1</text>
<text transform="translate(-42.7,134.4) rotate(287.6)" font-size="4.6" text-anchor="start" fill="#111111">GENE3</text>
<text transform="translate(-48.6,132.4) rotate(290.1)" font-size="4.6" text-anchor="start" fill="#2828F0">GENE6</text>
<text transform="translate(-57.5,128.7) rotate(294.1)" font-size="4.6" text-anchor="start" fill="#111111">GENE10</text>
<text transform="translate(-61.9,126.7) rotate(296.0)" font-size="4.6" text-anchor="start" fill="#E02828">GENE12</text>
<text transform="translate(-78.9,116.9) rotate(304.0)" font-size="4.6" text-anchor="start" fill="#E02828">GENE20</text>
<text transform="translate(-94.2,104.9) rotate(311.9)" font-size="4.6" text-anchor="start" fill="#111111">GENE27</text>
<text transform="translate(-99.2,100.2) rotate(314.7)" font-size="4.6" text-anchor="start" fill="#E02828">GENE30</text>
<text transform="translate(-102.3,97.0) rotate(316.5)" font-size="4.6" text-anchor="start" fill="#111111">GENE32</text>
<text transform="translate(-101.1,98.3) rotate(315.8)" font-size="4.6" text-anchor="start" fill="#2828F0">GENE31</text>
<text transform="translate(-111.0,86.9) rotate(322.0)" font-size="4.6" text-anchor="start" fill="#2828F0">GENE37</text>
<text transform="translate(-119.3,75.2) rotate(327.8)" font-size="4.6" text-anchor="start" fill="#E02828">GENE43</text>
<text transform="translate(-118.4,76.5) rotate(327.1)" font-size="4.6" text-anchor="start" fill="#E02828">GENE43</text>
<text transform="translate(-126.8,61.6) rotate(334.1)" font-size="4.6" text-anchor="start" fill="#111111">GENE50</text>
<text transform="translate(-125.9,63.5) rotate(333.2)" font-size="4.6" text-anchor="start" fill="#2828F0">GENE49</text>
<text transform="translate(-130.1,54.4) rotate(337.3)" font-size="4.6" text-anchor="start" fill="#2828F0">GENE53</text>
<text transform="translate(-131.4,51.0) rotate(338.8)" font-size="4.6" text-anchor="start" fill="#2828F0">GENE54</text>
<text transform="translate(-133.9,44.2) rotate(341.7)" font-size="4.6" text-anchor="start" fill="#2828F0">GENE57</text>
<text transform="translate(-139.5,20.5) rotate(351.6)" font-size="4.6" text-anchor="start" fill="#E02828">GENE67</text>
<text transform="translate(-140.5,12.0) rotate(355.1)" font-size="4.6" text-anchor="start" fill="#E02828">GENE71</text>
<text transform="translate(-140.1,15.8) rotate(353.6)" font-size="4.6" text-anchor="start" fill="#E02828">GENE69</text>
<text transform="translate(-141.0,0.1) rotate(360.0)" font-size="4.6" text-anchor="start" fill="#111111">GENE75</text>
<text transform="translate(-136.3,-36.2) rotate(374.9)" font-size="4.6" text-anchor="start" fill="#E02828">GENE90</text>
<text transform="translate(-136.7,-34.7) rotate(374.3)" font-size="4.6" text-anchor="start" fill="#E02828">GENE90</text>
<text transform="translate(-129.2,-56.4) rotate(383.6)" font-size="4.6" text-anchor="start" fill="#E02828">GENE2</text>
<text transform="translate(-132.1,-49.2) rotate(380.4)" font-size="4.6" text-anchor="start" fill="#E02828">GENE96</text>
<text transform="translate(-124.4,-66.4) rotate(388.1)" font-size="4.6" text-anchor="start" fill="#111111">GENE7</text>
<text transform="translate(-123.5,-68.1) rotate(388.9)" font-size="4.6" text-anchor="start" fill="#111111">GENE7</text>
<text transform="translate(-119.8,-74.4) rotate(391.8)" font-size="4.6" text-anchor="start" fill="#2828F0">GENE10</text>
<text transform="translate(-116.8,-79.0) rotate(394.1)" font-size="4.6" text-anchor="start" fill="#111111">GENE13</text>
<text transform="translate(-117.1,-78.5) rotate(393.8)" font-size="4.6" text-anchor="start" fill="#2828F0">GENE12</text>
<text transform="translate(-105.5,-93.5) rotate(401.6)" font-size="4.6" text-anchor="start" fill="#2828F0">GENE20</text>
<text transform="translate(-101.8,-97.6) rotate(403.8)" font-size="4.6" text-anchor="start" fill="#2828F0">GENE22</text>
<text transform="translate(-103.0,-96.3) rotate(403.1)" font-size="4.6" text-anchor="start" fill="#2828F0">GENE22</text>
<text transform="translate(-91.7,-107.1) rotate(409.4)" font-size="4.6" text-anchor="start" fill="#111111">GENE28</text>
<text transform="translate(-98.2,-101.2) rotate(405.9)" font-size="4.6" text-anchor="start" fill="#2828F0">GENE24</text>
<text transform="translate(-90.3,-108.3) rotate(410.2)" font-size="4.6" text-anchor="start" fill="#2828F0">GENE29</text>
<text transform="translate(-91.9,-106.9) rotate(409.3)" font-size="4.6" text-anchor="start" fill="#2828F0">GENE28</text>
<text transform="translate(-83.7,-113.4) rotate(413.6)" font-size="4.6" text-anchor="start" fill="#E02828">GENE32</text>
<text transform="translate(-78.1,-117.4) rotate(416.4)" font-size="4.6" text-anchor="start" fill="#2828F0">GENE35</text>
<text transform="translate(-81.7,-114.9) rotate(414.6)" font-size="4.6" text-anchor="start" fill="#E02828">GENE33</text>
<text transform="translate(-67.5,-123.8) rotate(421.4)" font-size="4.6" text-anchor="start" fill="#111111">GENE40</text>
<text transform="translate(-66.7,-124.2) rotate(421.8)" font-size="4.6" text-anchor="start" fill="#111111">GENE40</text>
<text transform="translate(-74.1,-120.0) rotate(418.3)" font-size="4.6" text-anchor="start" fill="#E02828">GENE37</text>
<text transform="translate(-63.9,-125.7) rotate(423.0)" font-size="4.6" text-anchor="start" fill="#2828F0">GENE42</text>
<text transform="translate(-54.0,-130.3) rotate(427.5)" font-size="4.6" text-anchor="start" fill="#E02828">GENE46</text>
<text transform="translate(-51.5,-131.3) rotate(428.6)" font-size="4.6" text-anchor="start" fill="#2828F0">GENE47</text>
<text transform="translate(-24.5,-138.9) rotate(440.0)" font-size="4.6" text-anchor="start" fill="#E02828">GENE59</text>
<text transform="translate(-29.0,-138.0) rotate(438.1)" font-size="4.6" text-anchor="start" fill="#2828F0">GENE57</text>
<text transform="translate(-19.3,-139.7) rotate(442.1)" font-size="4.6" text-anchor="start" fill="#111111">GENE61</text>
<text transform="translate(-13.2,-140.4) rotate(444.6)" font-size="4.6" text-anchor="start" fill="#111111">GENE63</text>
</g>
<text x="1252.6" y="14" font-size="8.4">heatmap</text>
<defs><linearGradient id="ccb" x1="0" y1="0" x2="0" y2="1"><stop offset="0" stop-color="#D8242C"/><stop offset="0.5" stop-color="#fff"/><stop offset="1" stop-color="#2020E8"/></linearGradient></defs>
<rect x="1269.2" y="26.2" width="4.9" height="38.9" fill="url(#ccb)"/>
<path d="M1262.5 26.2H1266.2V65.1H1262.5M1262.5 45.7H1266.2" fill="none" stroke="#333" stroke-width="0.6"/>
<text x="1262" y="28" font-size="4.6" text-anchor="end" fill="#333">18.37</text>
<text x="1262" y="47.3" font-size="4.6" text-anchor="end" fill="#333">10.23</text>
<text x="1262" y="66.7" font-size="4.6" text-anchor="end" fill="#333">2.09</text>
<g transform="translate(790.9,22.1) scale(4.4150,2.0047)" stroke-width="1.05" shape-rendering="crispEdges">
<rect x="0" y="-0.5" width="60" height="170" fill="#000"/>
<path stroke="#7DF528" d="M23 2h1M28 2h2M32 5h1M24 9h1M4 10h1M24 11h1M28 11h1M4 15h1M24 15h1M28 15h1M21 16h1M20 19h1M21 31h1M23 31h1M9 38h1M28 41h1M35 41h1M17 46h1M21 46h1M38 46h1M20 48h1M29 48h1M35 48h1M20 49h1M20 50h1M23 50h1M35 50h1M37 50h1M21 52h1M29 52h1M17 53h1M25 53h1M29 53h1M35 53h1M20 55h1M25 55h1M30 55h1M32 55h1M38 55h1M17 56h1M32 56h1M21 61h1M29 61h1M20 62h1M38 62h1M17 63h1M20 63h1M21 67h1M21 68h1M17 69h1M25 70h1M29 70h2M25 71h1M35 72h1M17 73h1M17 74h1M32 74h1M20 75h2M21 76h1M23 78h1M25 78h1M21 79h1M36 79h1M21 82h1M29 86h1M33 86h1M20 87h1M35 87h1M49 138h1M45 142h1M48 152h1M48 153h1M46 155h1M54 166h1"/>
<path stroke="#6ED923" d="M21 0h1M32 1h1M24 4h1M28 4h1M4 5h1M17 5h1M24 6h1M21 7h1M21 8h1M28 9h1M24 10h1M28 10h1M7 11h1M15 11h1M27 11h1M32 12h1M7 13h1M21 13h1M24 13h1M24 14h1M21 15h1M24 19h1M39 19h1M6 20h1M24 21h1M36 21h1M6 27h1M9 27h1M28 29h1M29 30h1M27 34h1M38 41h1M4 44h1M9 44h1M32 46h1M21 48h1M21 49h1M36 49h1M21 50h1M25 50h1M29 50h1M36 50h1M20 51h1M21 53h1M23 53h1M33 53h1M21 55h1M29 55h1M35 55h1M25 56h1M33 56h1M21 58h1M36 58h1M23 59h1M25 60h1M21 62h1M25 63h1M30 63h1M35 63h1M21 65h1M29 65h1M17 66h1M23 66h1M30 67h1M17 68h1M20 69h1M32 70h1M36 70h1M21 71h1M32 71h1M35 71h1M38 71h1M29 74h1M36 74h1M38 76h1M21 77h1M20 79h1M32 79h1M37 79h1M20 82h1M32 82h1M17 83h1M32 83h1M20 86h2M8 88h1M54 90h1M45 104h1M40 132h1M49 142h1M47 145h1M48 146h1M49 149h1M49 150h1M55 150h1M45 153h1M50 153h1M40 160h1M49 161h1M49 165h1"/>
<path stroke="#60BD1E" d="M24 0h1M28 0h1M32 0h1M18 2h1M21 2h1M24 3h1M18 4h1M23 4h1M23 5h2M39 5h1M29 6h1M17 7h2M24 7h1M28 7h1M7 9h1M18 9h1M21 9h1M36 9h1M18 10h1M21 10h1M17 11h2M21 11h1M35 11h1M21 12h1M24 12h1M28 12h2M1 13h1M15 13h1M32 13h1M7 14h1M18 14h1M21 14h1M18 15h1M23 15h1M36 15h1M7 16h1M15 16h1M24 16h1M28 16h1M31 16h2M27 17h1M13 18h1M31 19h1M14 21h1M26 22h2M9 24h1M26 26h1M35 27h1M9 28h1M32 29h1M39 29h1M20 30h1M9 32h1M23 32h1M35 32h1M38 32h1M4 34h1M23 36h1M28 36h1M23 38h1M3 40h1M21 40h1M28 40h1M0 41h1M32 41h1M25 46h1M39 46h1M21 47h1M30 47h1M32 48h1M25 49h1M32 50h1M17 51h1M21 51h1M30 51h1M38 51h1M25 52h1M36 52h1M20 53h1M32 53h1M32 54h2M38 54h1M23 55h1M36 55h1M39 55h1M29 56h1M21 57h1M25 57h1M32 57h1M38 57h1M37 58h1M35 59h1M38 59h1M32 60h1M20 61h1M17 62h1M29 62h1M21 63h1M23 63h1M36 63h1M23 64h1M25 64h1M28 64h1M32 64h1M36 64h1M17 65h1M33 66h1M20 68h1M36 68h1M29 69h1M35 69h1M21 70h1M23 70h1M23 71h1M33 71h1M20 72h1M32 72h1M39 72h1M35 73h1M20 74h1M25 74h1M30 74h1M29 75h1M32 75h1M30 76h1M35 76h1M23 77h1M30 77h1M37 77h1M37 78h1M28 79h1M17 80h1M21 81h1M32 81h1M38 81h1M38 82h1M25 83h1M33 83h1M20 84h1M30 85h1M30 87h1M36 87h1M5 88h1M39 88h1M40 89h1M45 89h1M58 89h1M44 91h1M49 95h1M56 95h1M49 99h1M49 100h1M55 100h1M43 103h1M49 103h1M41 104h1M52 115h1M45 121h1M58 122h1M58 123h1M57 125h1M55 126h1M49 127h1M48 128h1M55 132h1M40 133h1M54 134h1M43 135h1M46 135h1M47 137h1M54 137h1M55 138h1M48 139h1M52 139h1M55 139h1M40 141h1M45 141h1M53 141h1M55 141h1M55 142h1M44 143h1M55 143h1M49 144h1M51 144h1M49 145h1M42 147h1M45 148h1M53 148h1M43 149h1M50 150h1M55 151h1M58 151h1M55 152h1M49 153h1M55 153h1M46 154h1M43 155h1M53 155h2M40 161h1M46 161h2M55 161h1M48 162h1M13 163h1M41 168h1M55 169h1"/>
<path stroke="#52A21A" d="M23 0h1M27 0h1M7 1h1M29 1h1M17 2h1M24 2h1M32 2h1M35 2h2M4 3h1M1 4h1M17 4h1M21 4h1M36 4h1M1 5h1M7 5h1M18 5h1M4 6h1M15 6h1M32 6h1M29 7h1M17 8h1M28 8h1M4 9h2M15 9h1M17 9h1M23 9h1M17 10h1M23 10h1M29 10h1M32 10h1M18 12h1M39 12h1M4 13h1M10 13h2M28 13h1M35 13h1M28 14h1M34 14h1M7 15h1M25 15h1M27 15h1M4 16h1M23 16h1M0 19h1M14 19h1M13 20h1M20 20h1M39 20h1M4 22h1M8 22h1M14 22h1M28 22h1M5 24h1M9 26h1M19 27h1M24 27h1M27 27h1M31 27h1M21 28h1M4 29h1M20 29h1M7 30h1M23 30h1M28 30h1M28 31h1M32 31h1M11 32h2M19 32h1M21 32h1M27 32h2M6 33h1M11 33h1M15 33h1M28 34h1M6 36h1M13 36h1M22 36h1M24 37h1M32 37h1M34 37h1M14 38h1M25 38h1M9 39h1M16 41h1M27 42h1M32 42h1M1 44h1M6 44h1M21 44h1M23 44h1M39 45h1M23 46h2M30 46h1M33 46h1M29 47h1M32 47h1M38 47h1M17 48h1M25 48h1M36 48h3M23 49h1M32 49h2M35 49h1M38 49h1M17 50h1M22 50h1M30 50h1M33 50h1M38 50h1M32 51h1M9 52h1M17 52h1M23 52h1M35 52h1M38 52h1M37 53h1M21 54h1M37 54h1M17 55h1M37 55h1M20 56h1M24 56h1M30 56h1M20 57h1M29 57h1M35 57h1M20 58h1M23 58h1M29 58h1M33 58h1M38 58h1M17 59h1M21 59h1M25 59h1M29 60h1M38 60h1M23 61h1M30 61h1M33 61h1M37 61h2M23 62h1M36 62h1M32 63h1M38 63h1M21 64h1M29 64h2M38 64h1M36 65h1M20 66h1M25 66h1M32 66h1M36 66h3M17 67h1M23 67h1M35 67h1M25 68h1M29 68h1M32 68h2M37 68h1M21 69h1M32 69h1M37 69h3M37 70h2M17 72h1M25 72h1M29 72h2M23 73h1M25 73h1M23 74h1M38 74h1M25 75h1M36 75h1M38 75h1M17 76h1M23 76h1M25 76h1M37 76h1M25 77h1M36 77h1M35 78h1M17 79h1M35 79h1M39 79h1M23 80h1M35 80h1M37 80h1M17 81h1M25 81h1M29 81h2M33 81h1M37 81h1M17 82h1M23 82h1M35 82h1M20 83h1M22 83h2M38 84h1M17 86h1M32 86h1M35 86h2M19 87h1M21 87h1M29 87h1M33 87h1M9 88h1M9 89h1M19 89h1M46 89h1M49 89h1M51 89h1M39 91h1M41 92h1M43 92h1M55 92h1M50 94h1M6 96h1M42 96h1M48 98h1M48 99h1M53 99h1M46 100h1M46 101h1M51 101h2M55 101h1M58 101h1M5 102h1M51 102h1M3 103h1M44 103h1M54 103h2M5 104h1M9 104h1M53 104h1M0 105h1M55 105h1M50 106h1M57 106h2M39 107h1M43 107h1M49 108h1M16 110h1M11 111h1M53 111h1M41 113h1M54 113h1M16 114h1M39 114h1M48 114h2M3 115h1M41 115h1M43 116h1M40 118h1M43 119h1M51 119h1M55 119h1M58 119h1M43 120h1M45 120h2M21 121h1M48 121h1M54 121h1M45 122h1M40 123h1M51 123h1M46 124h1M47 125h1M59 126h1M54 128h1M55 129h1M40 131h1M47 131h1M54 132h1M59 132h1M45 134h1M48 134h1M40 135h1M45 135h1M48 135h2M40 136h1M43 136h1M48 136h1M50 136h2M26 137h1M46 137h1M53 137h1M45 138h1M48 138h1M47 139h1M49 139h2M54 139h1M43 141h1M47 141h1M46 142h3M54 142h1M22 143h1M48 143h1M42 144h1M44 144h2M48 144h1M45 145h1M54 145h1M53 146h1M45 147h1M48 147h2M51 147h1M54 148h1M42 149h1M48 150h1M54 150h1M58 150h1M46 151h1M49 151h1M54 151h1M59 151h1M40 152h1M45 152h1M51 153h1M43 154h3M47 154h1M41 155h1M45 155h1M49 155h1M50 156h1M46 157h1M51 157h2M54 157h2M54 158h1M53 159h1M46 160h1M53 160h1M45 161h1M58 162h2M26 163h1M45 163h1M50 163h1M54 163h1M59 163h1M49 164h1M52 165h1M46 167h1M43 168h4M54 168h1"/>
<path stroke="#458816" d="M7 0h1M10 0h1M18 0h1M4 1h1M21 1h1M23 1h2M28 1h1M36 1h1M1 2h1M10 2h1M20 2h1M4 4h1M7 4h1M35 4h1M15 5h1M21 6h1M28 6h1M7 7h1M15 8h1M23 8h2M32 8h1M35 8h1M35 9h1M37 9h1M7 10h1M35 10h1M37 10h1M5 11h1M23 11h1M32 11h1M36 11h1M39 11h1M1 12h1M17 12h1M23 12h1M27 12h1M23 13h1M4 14h1M15 14h1M17 14h1M32 14h1M15 15h1M17 15h1M29 15h1M32 15h1M17 16h2M11 17h1M9 18h1M25 18h1M9 19h1M21 19h1M23 19h1M38 19h1M0 20h1M26 20h1M29 20h1M0 21h1M5 21h1M9 21h1M13 21h1M31 21h1M38 21h1M15 22h1M24 22h1M29 22h1M32 22h1M11 24h1M20 24h1M37 24h1M23 25h1M18 26h1M21 26h1M23 26h1M13 27h1M23 27h1M28 27h1M39 27h1M4 28h1M12 28h1M18 28h1M0 29h1M31 29h1M38 29h1M39 30h1M9 31h1M14 31h1M22 31h1M24 31h1M38 31h1M4 32h2M16 32h1M33 32h1M24 34h1M26 34h1M30 35h1M25 36h1M29 36h1M31 36h1M35 36h1M21 37h1M30 37h1M39 37h1M10 38h1M18 38h1M26 38h2M19 39h1M23 40h1M9 41h1M27 41h1M29 41h1M33 41h1M17 42h1M19 42h1M24 42h1M32 43h1M10 44h2M16 44h1M18 44h1M25 44h1M34 44h1M20 46h1M27 46h1M29 46h1M35 46h2M20 47h1M23 47h1M25 47h1M33 47h1M35 47h1M37 47h1M23 48h1M30 48h1M33 48h1M24 50h1M39 50h1M23 51h1M36 51h2M39 51h1M20 52h1M24 52h1M30 52h1M32 52h1M37 52h1M3 53h1M38 53h1M23 54h1M29 54h1M35 54h2M33 55h1M21 56h1M23 56h1M35 56h1M38 56h1M17 57h1M34 57h1M37 57h1M29 59h1M30 60h1M32 61h1M36 61h1M25 62h1M35 62h1M37 63h1M20 64h1M22 64h1M33 64h1M32 65h1M35 65h1M38 65h1M21 66h1M30 66h1M29 67h1M32 67h1M36 67h2M23 68h2M30 68h1M23 69h1M36 69h1M17 70h1M35 70h1M27 71h1M30 71h1M33 72h1M36 72h1M28 73h1M37 73h2M21 74h1M33 74h1M35 74h1M37 74h1M17 75h1M35 75h1M39 75h1M24 76h1M29 76h1M32 76h1M36 76h1M17 77h1M31 77h3M38 77h1M17 78h1M20 78h2M29 78h1M33 78h1M38 78h1M19 79h1M23 79h3M29 79h3M38 79h1M29 80h1M32 80h2M36 80h1M23 81h2M35 81h2M29 82h2M33 82h1M39 82h1M21 83h1M35 83h1M17 84h1M21 84h1M32 84h1M35 84h1M37 84h1M32 85h1M35 85h1M26 86h1M30 86h1M37 86h2M23 87h1M31 87h1M37 87h2M4 88h1M6 88h1M11 88h1M13 88h1M17 88h1M3 89h1M12 89h1M52 89h5M2 90h1M43 90h2M41 91h1M45 91h1M49 91h1M45 92h1M58 92h2M41 93h1M45 93h1M59 93h1M46 94h1M4 95h1M16 95h1M43 95h1M59 95h1M55 96h1M9 97h1M42 97h1M48 97h3M55 97h1M59 97h1M52 98h1M56 98h1M58 98h1M5 99h1M43 99h1M45 99h1M54 99h2M59 99h1M12 100h1M48 100h1M57 100h1M7 101h1M28 101h1M41 101h1M48 101h1M54 101h1M2 102h1M40 102h1M58 102h1M5 103h1M9 103h1M14 103h1M45 103h1M53 103h1M56 103h1M4 104h1M12 104h1M42 104h1M44 104h1M47 104h1M51 104h1M10 105h1M54 105h1M9 106h1M55 106h1M0 107h1M4 107h1M13 107h1M48 107h1M50 107h2M41 108h1M44 108h1M55 108h1M59 108h1M39 110h1M44 110h1M54 110h1M58 110h1M16 111h1M45 111h1M49 111h1M59 111h1M5 112h2M49 112h1M53 112h1M58 112h1M55 113h1M14 114h1M55 114h3M59 114h1M40 115h1M45 115h2M56 115h1M42 116h1M45 116h2M48 116h1M51 116h1M58 116h2M43 117h1M49 118h2M54 118h2M58 118h1M0 119h1M16 119h1M45 119h3M40 120h1M42 120h1M50 120h1M40 121h1M42 121h1M53 121h1M55 121h1M46 122h1M55 122h1M59 122h1M16 123h1M41 123h1M45 123h1M50 123h1M52 123h1M59 123h1M40 124h1M45 124h1M40 125h1M46 125h1M51 125h1M59 125h1M44 126h1M54 126h1M40 127h1M42 127h2M45 127h1M26 128h1M44 128h1M51 128h1M56 128h3M42 129h1M44 129h2M48 129h1M51 129h1M53 129h1M57 129h1M42 130h2M48 130h1M42 131h1M57 131h1M42 132h1M45 132h2M48 132h2M51 132h2M46 133h1M49 133h1M54 133h1M46 134h1M50 134h1M56 134h1M54 135h2M59 135h1M49 136h1M53 136h1M55 136h1M44 137h2M49 137h1M51 137h1M56 137h1M42 138h1M46 138h2M53 138h1M43 139h2M58 139h2M51 140h1M57 140h1M48 141h1M43 142h1M51 142h1M53 142h1M47 143h1M49 143h1M52 143h1M41 144h1M43 144h1M46 144h2M54 144h3M48 145h1M40 146h1M42 146h1M44 146h2M52 146h1M44 147h1M50 147h1M54 147h1M55 148h1M40 149h1M45 149h1M50 149h3M55 149h1M40 150h2M46 150h1M51 150h1M59 150h1M45 151h1M22 152h1M46 152h2M49 152h1M58 152h2M22 153h1M26 153h1M40 153h3M47 153h1M54 153h1M56 153h1M49 154h1M51 154h1M58 154h1M47 155h1M55 155h1M59 155h1M41 156h2M45 156h2M53 156h1M41 157h1M43 157h1M50 157h1M53 157h1M58 157h1M48 158h1M42 159h1M44 159h3M50 159h2M54 159h1M43 160h1M47 160h1M51 160h1M58 160h1M48 161h1M54 161h1M59 161h1M44 162h1M49 162h1M57 162h1M42 163h2M47 163h2M53 163h1M40 164h1M48 164h1M58 164h1M42 165h2M47 166h1M51 166h1M26 167h1M41 167h2M51 167h2M13 168h1M48 168h2M53 168h1M56 168h1M59 168h1M41 169h2M49 169h3M56 169h1M58 169h1"/>
<path stroke="#386E12" d="M29 0h1M14 1h1M17 1h2M7 2h1M14 2h2M54 2h1M18 3h1M29 4h1M14 5h1M21 5h1M28 5h2M7 6h1M17 6h2M23 6h1M38 6h1M4 7h1M27 7h1M37 7h1M39 7h1M18 8h1M38 8h2M1 9h1M27 9h1M1 10h1M39 10h1M1 11h1M4 11h1M37 11h1M0 12h1M5 12h1M7 12h1M35 12h2M17 13h2M22 13h1M31 13h1M36 13h1M54 13h1M5 14h1M11 14h2M38 14h2M0 15h2M16 15h1M37 15h1M39 15h1M1 16h1M11 16h1M35 16h1M26 17h1M36 17h1M38 17h1M6 18h1M8 18h1M22 18h1M33 18h1M2 19h1M4 19h2M8 19h1M17 19h3M29 19h1M5 20h1M14 20h1M17 20h1M22 20h1M25 20h1M30 20h1M7 21h1M10 21h1M16 21h2M20 21h1M23 21h1M6 22h1M16 22h1M33 22h2M36 22h1M0 24h1M2 24h1M12 24h2M22 24h1M38 24h1M24 25h1M28 25h1M6 26h2M24 26h1M29 26h1M32 26h1M34 26h1M37 26h1M39 26h1M2 27h1M15 27h1M18 27h1M36 27h1M15 28h1M24 28h1M19 29h1M26 29h1M33 29h1M5 30h1M14 30h1M17 30h1M33 30h1M7 31h1M12 31h1M27 31h1M31 31h1M34 31h2M1 32h1M7 32h1M17 32h2M22 32h1M32 32h1M4 33h2M9 33h1M21 33h2M24 33h1M28 33h1M2 34h1M9 34h1M12 34h1M20 34h2M23 34h1M33 34h1M22 35h1M25 35h1M32 35h2M36 35h1M10 36h1M24 36h1M27 36h1M30 36h1M32 36h1M0 37h1M3 37h1M7 37h1M9 37h1M17 37h1M28 37h1M6 38h1M15 38h1M20 38h2M28 38h1M37 38h1M20 39h2M27 39h1M38 39h1M16 40h1M20 40h1M22 40h1M24 40h1M26 40h2M37 40h1M5 41h1M0 42h1M6 42h1M14 42h1M21 42h1M37 42h1M14 43h1M19 43h1M21 43h1M38 43h1M12 44h1M14 44h1M17 44h1M20 44h1M30 44h1M33 44h1M5 45h1M9 45h1M14 45h1M17 45h1M19 45h1M23 45h1M29 45h1M9 46h1M28 46h1M29 49h2M37 49h1M12 51h1M29 51h1M35 51h1M28 52h1M24 53h1M36 53h1M24 54h2M30 54h1M16 55h1M18 55h2M26 55h2M31 55h1M39 56h1M31 57h1M39 57h1M35 58h1M30 59h1M32 59h2M17 60h1M33 60h1M35 60h1M35 61h1M30 62h1M33 62h1M39 62h1M33 63h2M15 64h1M39 64h1M24 65h1M28 65h1M33 65h1M28 66h2M35 66h1M20 67h1M22 67h1M25 67h1M33 67h1M38 67h1M19 68h1M35 68h1M38 68h1M6 69h1M25 69h1M17 71h1M24 71h1M29 71h1M37 71h1M21 72h1M20 73h2M32 73h2M36 73h1M39 73h1M3 74h1M24 74h1M23 75h2M27 75h1M30 75h1M34 75h1M20 76h1M22 78h1M32 78h1M36 78h1M27 79h1M33 79h1M20 80h1M38 80h2M20 81h1M24 82h2M28 82h1M36 82h1M19 83h1M30 83h1M36 83h2M36 84h1M39 84h1M17 85h1M23 85h1M27 85h1M29 85h1M36 85h1M23 86h1M17 87h1M25 87h1M27 87h1M16 88h1M26 88h2M34 88h1M38 88h1M5 89h1M7 89h2M42 89h1M44 89h1M48 89h1M50 89h1M40 90h1M53 90h1M58 90h1M5 91h1M7 91h1M15 91h1M40 91h1M42 91h1M48 91h1M54 91h1M57 91h1M42 92h1M44 92h1M46 92h1M53 92h2M2 93h1M47 93h1M49 93h1M51 93h1M53 93h2M56 93h1M40 94h3M59 94h1M9 95h1M40 95h1M42 95h1M44 95h1M12 96h1M40 96h1M44 96h2M40 97h2M46 97h2M51 97h1M54 97h1M41 98h1M46 98h1M49 98h1M51 98h1M59 98h1M3 99h1M13 99h2M40 99h1M44 99h1M47 99h1M58 99h1M4 100h1M45 100h1M47 100h1M58 100h2M9 101h1M16 101h1M43 101h3M47 101h1M59 101h1M41 102h1M46 102h1M50 102h1M52 102h1M55 102h1M7 103h1M15 103h1M41 103h2M48 103h1M58 103h1M43 104h1M49 104h1M57 104h1M9 105h1M13 105h1M43 105h1M51 105h1M59 105h1M16 106h1M40 106h1M44 106h1M53 106h1M59 106h1M42 107h1M45 107h1M55 107h1M58 107h2M9 108h2M42 108h2M45 108h1M47 108h2M51 108h1M41 109h1M50 109h1M8 110h1M12 110h2M42 110h1M45 110h2M55 110h1M59 110h1M2 111h1M46 111h1M52 111h1M54 111h2M40 112h1M44 112h1M46 112h1M48 112h1M50 112h1M48 113h1M56 113h1M59 113h1M10 114h1M41 114h1M46 114h1M52 114h2M5 115h1M11 115h2M19 115h1M31 115h1M44 115h1M47 115h1M49 115h1M55 115h1M57 115h1M0 116h1M12 116h2M44 116h1M47 116h1M49 116h1M54 116h2M57 116h1M16 117h1M39 117h1M41 117h1M44 117h1M47 117h3M56 117h1M6 118h1M46 118h1M48 118h1M53 118h1M59 118h1M2 119h1M5 119h1M8 119h1M39 119h1M41 119h1M44 119h1M49 119h1M54 119h1M44 120h1M47 120h3M51 120h1M59 120h1M56 121h1M41 122h2M44 122h1M47 122h5M53 122h1M42 123h2M46 123h1M48 123h1M53 123h3M49 124h2M52 124h1M55 124h1M26 125h1M42 125h3M40 126h1M46 126h1M48 126h2M53 126h1M46 127h3M57 127h1M59 127h1M9 128h1M40 128h2M45 128h1M49 128h2M55 128h1M43 129h1M49 129h1M26 130h1M40 130h1M51 130h1M58 130h2M46 131h1M49 131h1M54 131h1M41 132h1M47 132h1M58 132h1M43 133h2M47 133h1M55 133h1M59 133h1M40 134h1M43 134h2M49 134h1M53 134h1M55 134h1M58 134h1M13 135h1M47 135h1M50 135h1M53 135h1M44 136h2M47 136h1M54 136h1M43 137h1M48 137h1M52 137h1M55 137h1M41 138h1M44 138h1M50 138h2M54 138h1M58 138h2M46 139h1M57 139h1M44 140h4M49 140h2M53 140h1M56 140h1M59 140h1M49 141h2M54 141h1M42 142h1M52 142h1M59 142h1M40 143h1M45 143h1M50 143h1M54 143h1M53 144h1M43 145h1M46 145h1M51 145h1M53 145h1M55 145h1M41 146h1M43 146h1M46 146h1M49 146h1M54 146h1M56 146h1M59 146h1M40 147h1M46 147h1M57 147h1M46 148h4M52 148h1M26 149h1M44 149h1M46 149h3M53 149h2M58 149h2M9 150h1M26 150h1M42 150h1M45 150h1M47 150h1M56 150h1M41 151h1M47 151h1M50 151h1M53 151h1M9 152h1M43 152h1M50 152h2M53 152h2M57 152h1M44 153h1M46 153h1M57 153h2M42 154h1M53 154h3M59 154h1M42 155h1M44 155h1M48 155h1M58 155h1M40 156h1M47 156h1M51 156h1M54 156h3M45 157h1M47 157h3M57 157h1M59 157h1M9 158h1M22 158h1M40 158h1M51 158h3M55 158h1M40 159h2M55 159h1M58 159h2M9 160h1M36 160h1M45 160h1M48 160h1M55 160h1M59 160h1M42 161h1M44 161h1M13 162h1M42 162h2M45 162h1M50 162h4M40 163h1M46 163h1M52 163h1M55 163h2M26 164h1M41 164h2M54 164h2M57 164h1M9 165h1M40 165h2M47 165h1M53 165h1M22 166h1M43 166h1M45 166h1M49 166h1M52 166h1M56 166h1M58 166h1M5 167h1M21 167h1M43 167h1M53 167h1M55 167h1M58 167h2M40 168h1M47 168h1M51 168h2M55 168h1M57 168h1M43 169h1M46 169h3M54 169h1M59 169h1"/>
<path stroke="#2B550D" d="M1 0h1M4 0h1M17 0h1M20 0h1M35 0h1M0 1h1M35 1h1M4 2h2M22 3h2M28 3h1M32 3h1M35 3h1M22 4h1M32 4h1M37 4h1M39 4h1M54 4h1M36 5h2M0 6h1M14 6h1M35 6h1M39 6h1M1 7h1M15 7h1M32 7h1M34 7h2M4 8h1M29 8h1M12 9h1M32 9h1M34 9h1M39 9h1M11 10h1M15 10h1M34 10h1M16 11h1M22 11h1M38 11h1M4 12h1M14 12h2M20 12h1M31 12h1M38 12h1M5 13h1M14 13h1M25 13h1M29 13h1M50 13h1M0 14h1M27 14h1M29 14h1M37 14h1M20 15h1M38 15h1M0 16h1M10 16h1M20 16h1M27 16h1M29 16h1M54 16h1M0 17h1M2 17h2M5 17h1M8 17h2M13 17h1M15 17h1M25 17h1M28 17h1M32 17h1M0 18h1M5 18h1M10 18h1M17 18h1M21 18h1M26 18h3M32 18h1M6 19h1M10 19h3M15 19h1M25 19h2M28 19h1M36 19h2M15 20h1M28 20h1M31 20h1M2 21h1M15 21h1M32 21h2M3 22h1M9 22h2M18 22h1M20 22h2M25 22h1M35 22h1M38 22h2M4 23h2M13 23h1M15 23h1M18 23h1M35 23h1M17 24h1M23 24h2M26 24h2M35 24h1M18 25h1M4 26h1M11 26h1M13 26h2M20 26h1M27 26h2M38 26h1M3 27h1M7 27h1M11 27h1M14 27h1M17 27h1M21 27h1M26 27h1M29 27h2M34 27h1M37 27h1M5 28h1M13 28h1M27 28h1M30 28h1M34 28h1M9 29h1M14 29h1M17 29h1M21 29h1M27 29h1M29 29h1M25 30h2M36 30h1M0 31h1M4 31h2M10 31h1M13 31h1M15 31h2M18 31h1M25 31h1M2 32h1M14 32h1M20 32h1M24 32h3M30 32h2M36 32h2M39 32h1M3 33h1M8 33h1M14 33h1M18 33h1M25 33h1M27 33h1M32 33h2M39 33h1M6 34h1M11 34h1M14 34h1M17 34h1M36 34h1M38 34h1M0 35h1M2 35h1M5 35h1M26 35h1M37 35h2M2 36h2M5 36h1M8 36h2M12 36h1M15 36h1M17 36h1M21 36h1M36 36h1M39 36h1M4 37h2M13 37h1M18 37h1M26 37h1M35 37h1M3 38h2M7 38h2M12 38h2M17 38h1M24 38h1M29 38h1M31 38h1M36 38h1M39 38h1M26 39h1M15 40h1M17 40h1M33 40h1M1 41h1M13 41h1M17 41h2M21 41h1M25 41h1M2 42h1M4 42h1M9 42h1M13 42h1M18 42h1M34 42h1M39 42h1M6 43h1M15 43h3M22 43h1M28 43h1M30 43h1M33 43h2M39 43h1M0 44h1M7 44h1M13 44h1M15 44h1M19 44h1M24 44h1M26 44h2M32 44h1M4 45h1M11 45h1M13 45h1M16 45h1M24 45h1M19 46h1M31 46h1M37 46h1M17 47h1M19 47h1M22 47h1M22 48h1M27 48h2M31 48h1M8 51h1M25 51h1M33 51h1M27 52h1M4 53h1M11 53h1M27 53h1M30 53h1M34 53h1M17 54h1M39 54h1M4 55h2M9 55h1M13 55h1M15 55h1M24 55h1M22 56h1M28 56h1M36 56h1M30 57h1M36 57h1M17 58h1M25 58h2M30 58h1M32 58h1M39 58h1M8 59h1M20 59h1M36 59h2M23 60h1M36 60h2M39 60h1M17 61h1M19 61h1M39 61h1M19 62h1M28 62h1M32 62h1M28 63h2M39 63h1M17 64h2M24 64h1M20 65h1M23 65h1M26 65h1M30 65h1M37 65h1M39 65h1M19 66h1M24 66h1M27 66h1M39 66h1M27 67h1M34 67h1M34 68h1M39 68h1M14 69h1M22 69h1M20 70h1M24 70h1M28 70h1M33 70h1M20 71h1M26 71h1M28 71h1M34 71h1M11 72h1M23 72h2M31 72h1M38 72h1M26 73h1M30 73h1M34 73h1M4 74h1M18 74h1M26 74h1M26 75h1M33 75h1M26 76h1M28 76h1M39 76h1M12 77h1M18 77h1M24 77h1M34 77h1M24 78h1M30 78h1M16 79h1M22 79h1M34 79h1M21 80h1M30 80h1M13 82h1M18 82h1M31 83h1M29 84h1M21 85h1M25 85h1M37 85h1M39 85h1M9 86h1M14 86h1M25 86h1M28 86h1M22 87h1M12 88h1M18 88h1M20 88h2M25 88h1M35 88h1M15 89h1M41 89h1M47 89h1M59 89h1M7 90h1M12 90h2M41 90h2M45 90h2M49 90h1M55 90h1M12 91h1M16 91h1M43 91h1M46 91h1M56 91h1M58 91h1M47 92h1M50 92h2M12 93h1M16 93h1M31 93h1M39 93h1M42 93h2M46 93h1M50 93h1M52 93h1M1 94h1M43 94h3M49 94h1M51 94h1M54 94h3M5 95h1M8 95h1M39 95h1M41 95h1M47 95h2M50 95h1M52 95h1M54 95h2M57 95h2M7 96h1M47 96h1M50 96h1M53 96h2M59 96h1M0 97h1M5 97h2M43 97h1M45 97h1M53 97h1M1 98h1M13 98h1M16 98h1M27 98h1M47 98h1M1 99h2M46 99h1M51 99h1M0 100h1M18 100h1M40 100h1M42 100h1M44 100h1M53 100h1M2 101h3M11 101h2M15 101h1M39 101h2M49 101h1M53 101h1M57 101h1M3 102h1M10 102h1M34 102h1M39 102h1M42 102h3M49 102h1M53 102h2M1 103h2M4 103h1M6 103h1M11 103h1M16 103h1M28 103h1M40 103h1M46 103h1M50 103h1M1 104h1M6 104h1M8 104h1M14 104h1M46 104h1M48 104h1M55 104h2M59 104h1M2 105h1M47 105h2M50 105h1M53 105h1M57 105h1M49 106h1M3 107h1M16 107h1M22 107h1M27 107h1M41 107h1M47 107h1M49 107h1M56 107h1M0 108h1M8 108h1M16 108h1M31 108h1M40 108h1M46 108h1M57 108h2M16 109h1M28 109h1M44 109h2M48 109h2M51 109h1M54 109h1M57 109h3M0 110h1M4 110h1M22 110h1M48 110h1M50 110h1M53 110h1M39 111h2M47 111h1M16 112h1M39 112h1M41 112h1M43 112h1M45 112h1M52 112h1M54 112h1M56 112h1M2 113h1M5 113h1M9 113h1M12 113h1M40 113h1M42 113h1M45 113h1M47 113h1M51 113h1M53 113h1M58 113h1M2 114h1M4 114h1M43 114h2M50 114h1M54 114h1M58 114h1M1 115h1M14 115h1M22 115h1M42 115h1M53 115h2M58 115h2M7 116h3M41 116h1M7 117h3M31 117h1M42 117h1M46 117h1M51 117h1M55 117h1M57 117h1M59 117h1M9 118h1M11 118h2M27 118h1M39 118h1M41 118h2M51 118h2M7 119h1M9 119h2M13 119h1M50 119h1M22 120h1M52 120h5M58 120h1M43 121h2M46 121h2M49 121h1M51 121h2M57 121h3M22 122h1M40 122h1M56 122h2M44 123h1M47 123h1M56 123h1M9 124h1M41 124h1M47 124h2M51 124h1M56 124h1M58 124h2M9 125h1M13 125h1M22 125h1M41 125h1M45 125h1M48 125h1M58 125h1M42 126h2M47 126h1M56 126h1M58 126h1M9 127h1M22 127h1M44 127h1M52 127h1M58 127h1M13 128h1M38 128h1M43 128h1M46 128h2M52 128h1M59 128h1M40 129h1M50 129h1M52 129h1M54 129h1M58 129h2M45 130h1M47 130h1M51 131h1M56 131h1M58 131h2M27 132h1M50 132h1M53 132h1M41 133h2M45 133h1M51 133h1M53 133h1M56 133h1M58 133h1M21 134h1M47 134h1M52 134h1M59 134h1M42 135h1M52 135h1M57 135h2M3 136h1M9 136h1M26 136h1M42 136h1M46 136h1M52 136h1M58 136h1M40 137h1M50 137h1M9 138h1M26 138h1M43 138h1M9 139h1M16 139h1M40 139h2M45 139h1M51 139h1M53 139h1M56 139h1M40 140h1M48 140h1M55 140h1M58 140h1M9 141h1M44 141h1M46 141h1M51 141h2M26 142h1M40 142h1M44 142h1M50 142h1M25 143h1M43 143h1M51 143h1M58 143h2M50 144h1M52 144h1M58 144h1M40 145h1M47 146h1M50 146h2M55 146h1M58 146h1M7 147h1M26 147h1M41 147h1M43 147h1M47 147h1M55 147h1M58 147h2M41 148h1M43 148h2M50 148h2M56 148h1M58 148h1M41 149h1M56 149h1M44 150h1M52 150h1M21 151h1M40 151h1M42 151h3M48 151h1M52 151h1M56 151h1M13 152h1M26 152h1M41 152h1M43 153h1M40 154h2M50 154h1M22 155h1M40 155h1M51 155h1M57 155h1M43 156h1M49 156h1M52 156h1M58 156h1M9 157h1M40 157h1M42 157h1M44 157h1M44 158h2M47 158h1M49 158h1M56 158h1M58 158h1M48 159h1M52 159h1M42 160h1M49 160h2M54 160h1M56 160h2M9 161h1M13 161h1M21 161h1M41 161h1M51 161h3M57 161h1M9 162h1M22 162h1M26 162h1M40 162h1M46 162h2M55 162h1M22 163h1M44 163h1M57 163h1M43 164h1M46 164h2M51 164h2M20 165h1M44 165h1M46 165h1M48 165h1M50 165h1M57 165h1M40 166h3M53 166h1M57 166h1M45 167h1M47 167h2M50 167h1M54 167h1M56 167h2M4 168h1M9 168h1M17 168h1M21 168h1M13 169h1M21 169h2M40 169h1M45 169h1M52 169h1"/>
<path stroke="#1F3D0A" d="M0 0h1M22 0h1M38 0h1M5 1h1M12 1h1M16 1h1M27 1h1M31 1h1M37 1h1M39 1h1M0 2h1M25 2h1M27 2h1M30 2h2M37 2h3M7 3h1M15 3h1M17 3h1M21 3h1M10 4h2M14 4h2M20 4h1M27 4h1M25 5h1M34 5h1M54 5h1M5 6h1M25 6h1M27 6h1M31 6h1M36 6h2M14 7h1M23 7h1M31 7h1M1 8h1M7 8h1M36 8h1M50 8h1M11 9h1M16 9h1M31 9h1M0 10h1M14 10h1M36 10h1M10 11h2M29 11h1M31 11h1M10 12h1M12 13h1M20 13h1M27 13h1M34 13h1M1 14h1M10 14h1M36 14h1M5 15h1M10 15h1M14 16h1M25 16h1M17 17h1M33 17h1M39 17h1M54 17h1M2 18h2M12 18h1M18 18h1M24 18h1M38 18h1M1 19h1M27 19h1M30 19h1M32 19h2M7 20h1M9 20h3M19 20h1M23 20h1M33 20h1M1 21h1M18 21h1M25 21h2M35 21h1M39 21h1M0 22h1M7 22h1M17 22h1M19 22h1M22 22h1M30 22h1M37 22h1M9 23h1M12 23h1M16 23h2M20 23h4M26 23h1M6 24h1M10 24h1M15 24h2M32 24h1M0 25h1M2 25h2M9 25h2M17 25h1M26 25h2M2 26h1M5 26h1M12 26h1M15 26h1M31 26h1M36 26h1M4 27h1M8 27h1M12 27h1M16 27h1M22 27h1M32 27h2M38 27h1M2 28h2M6 28h1M14 28h1M16 28h2M20 28h1M22 28h1M25 28h1M6 29h1M8 29h1M11 29h1M13 29h1M15 29h2M11 30h2M16 30h1M18 30h2M22 30h1M24 30h1M27 30h1M30 30h2M34 30h2M37 30h2M2 31h1M8 31h1M11 31h1M19 31h1M26 31h1M30 31h1M33 31h1M36 31h2M3 32h1M6 32h1M8 32h1M10 32h1M1 33h2M7 33h1M13 33h1M17 33h1M19 33h1M29 33h3M34 33h2M7 34h2M16 34h1M25 34h1M32 34h1M39 34h1M7 35h2M14 35h1M18 35h1M20 35h2M23 35h1M28 35h1M39 35h1M4 36h1M7 36h1M26 36h1M12 37h1M16 37h1M20 37h1M23 37h1M27 37h1M31 37h1M33 37h1M0 38h2M5 38h1M16 38h1M30 38h1M35 38h1M38 38h1M4 39h1M12 39h1M16 39h2M24 39h2M29 39h1M32 39h2M35 39h1M39 39h1M1 40h1M5 40h1M8 40h1M12 40h1M18 40h1M25 40h1M30 40h1M34 40h2M38 40h1M2 41h1M7 41h1M10 41h1M12 41h1M22 41h1M24 41h1M34 41h1M7 42h1M10 42h1M15 42h1M22 42h2M25 42h1M28 42h1M30 42h1M36 42h1M3 43h1M7 43h1M9 43h1M11 43h1M18 43h1M24 43h2M31 43h1M36 43h1M3 44h1M28 44h1M37 44h2M0 45h1M6 45h1M18 45h1M26 45h1M35 45h1M1 46h1M18 46h1M22 46h1M26 46h1M24 47h1M39 47h1M7 48h1M18 48h1M34 48h1M39 48h1M5 49h1M17 49h1M39 49h1M0 50h1M3 50h3M8 50h1M18 50h2M27 50h2M34 50h1M0 51h1M22 51h1M28 51h1M34 51h1M19 52h1M31 52h1M33 52h1M39 52h1M10 53h1M12 53h1M19 53h1M22 53h1M26 53h1M31 53h1M39 53h1M13 54h1M18 54h1M27 54h1M31 54h1M3 55h1M8 55h1M14 55h1M28 55h1M34 55h1M0 56h1M18 56h1M26 56h2M31 56h1M18 57h1M23 57h1M26 57h1M33 57h1M14 58h1M22 58h1M28 58h1M31 58h1M34 58h1M13 59h1M39 59h1M21 60h2M24 60h1M26 61h1M28 61h1M31 61h1M34 61h1M14 62h1M24 62h1M26 62h1M34 62h1M37 62h1M19 63h1M26 64h2M35 64h1M37 64h1M25 65h1M18 66h1M34 66h1M24 67h1M18 68h1M18 69h1M30 69h2M5 70h1M22 70h1M26 70h2M34 70h1M39 70h1M6 71h1M9 71h1M18 71h1M31 71h1M39 71h1M0 72h1M4 72h1M28 72h1M37 72h1M6 73h1M29 73h1M28 74h1M39 74h1M9 75h1M13 75h1M8 76h1M33 76h1M20 77h1M35 77h1M2 78h1M26 78h3M31 78h1M6 79h1M8 79h1M18 79h1M26 79h1M22 80h1M25 80h1M34 80h1M5 81h1M19 81h1M22 81h1M27 81h1M31 81h1M34 81h1M19 82h1M26 82h2M34 82h1M37 82h1M38 83h1M25 84h1M30 84h2M22 85h1M28 85h1M33 85h1M38 85h1M0 86h1M13 86h1M27 86h1M24 87h1M26 87h1M7 88h1M0 89h2M43 89h1M9 90h2M16 90h1M50 90h3M56 90h2M59 90h1M0 91h2M8 91h1M10 91h2M14 91h1M47 91h1M50 91h2M55 91h1M59 91h1M8 92h2M40 92h1M49 92h1M3 93h1M13 93h1M40 93h1M48 93h1M55 93h1M57 93h2M2 94h1M22 94h1M47 94h2M52 94h1M58 94h1M2 95h1M22 95h1M51 95h1M0 96h1M48 96h1M56 96h1M58 96h1M1 97h2M4 97h1M15 97h1M56 97h1M58 97h1M0 98h1M3 98h3M8 98h1M12 98h1M28 98h1M40 98h1M45 98h1M55 98h1M4 99h1M6 99h1M9 99h1M16 99h1M39 99h1M41 99h1M50 99h1M56 99h2M13 100h1M16 100h1M26 100h1M41 100h1M43 100h1M54 100h1M5 101h2M10 101h1M14 101h1M18 101h1M42 101h1M9 102h1M47 102h2M56 102h1M47 103h1M51 103h2M57 103h1M16 104h1M31 104h1M40 104h1M54 104h1M58 104h1M12 105h1M44 105h1M46 105h1M56 105h1M0 106h2M3 106h1M45 106h3M51 106h1M54 106h1M56 106h1M9 107h1M12 107h1M40 107h1M44 107h1M46 107h1M52 107h3M57 107h1M4 108h1M27 108h1M50 108h1M56 108h1M1 109h1M5 109h1M40 109h1M42 109h2M46 109h1M55 109h2M2 110h1M6 110h1M31 110h1M40 110h1M47 110h1M49 110h1M51 110h2M0 111h1M8 111h1M41 111h1M43 111h2M48 111h1M50 111h1M58 111h1M1 112h1M3 112h1M9 112h1M13 112h1M55 112h1M59 112h1M13 113h1M15 113h1M28 113h1M43 113h2M49 113h1M8 114h2M40 114h1M42 114h1M45 114h1M47 114h1M4 115h1M10 115h1M16 115h1M43 115h1M48 115h1M50 115h2M3 116h1M16 116h1M27 116h1M40 116h1M50 116h1M45 117h1M52 117h2M43 118h3M47 118h1M57 118h1M4 119h1M40 119h1M53 119h1M56 119h2M41 120h1M57 120h1M9 121h1M26 121h1M41 121h1M50 121h1M13 122h1M43 122h1M54 122h1M49 123h1M57 123h1M5 124h1M14 124h1M42 124h3M53 124h1M52 125h5M13 126h1M26 126h1M45 126h1M51 126h1M57 126h1M13 127h1M41 127h1M50 127h1M53 127h3M16 128h1M42 128h1M9 129h1M41 129h1M46 129h1M22 130h1M41 130h1M44 130h1M46 130h1M49 130h1M52 130h2M55 130h3M26 131h1M43 131h3M48 131h1M50 131h1M53 131h1M9 132h1M43 132h2M57 132h1M48 133h1M50 133h1M52 133h1M57 133h1M41 134h1M41 135h1M44 135h1M56 135h1M13 136h1M21 136h1M25 136h1M41 136h1M56 136h2M21 137h2M41 137h2M57 137h1M59 137h1M42 139h1M41 140h1M52 140h1M54 140h1M13 141h1M27 141h1M41 141h2M58 141h1M21 142h2M58 142h1M21 143h1M41 143h2M46 143h1M53 143h1M57 143h1M22 144h1M40 144h1M59 144h1M44 145h1M52 145h1M58 145h2M8 146h1M26 146h1M57 146h1M13 147h1M52 147h2M56 147h1M2 148h1M40 148h1M42 148h1M59 148h1M25 149h1M22 150h1M53 150h1M57 150h1M26 151h1M51 151h1M42 152h1M44 152h1M2 153h1M9 153h1M25 153h1M53 153h1M59 153h1M2 154h1M13 154h1M27 154h1M48 154h1M52 154h1M56 154h1M13 155h1M26 155h2M50 155h1M52 155h1M56 155h1M13 156h1M22 156h1M48 156h1M59 156h1M26 157h1M56 157h1M42 158h2M59 158h1M13 159h1M21 159h1M43 159h1M47 159h1M49 159h1M56 159h1M41 160h1M22 161h1M26 161h1M43 161h1M50 161h1M58 161h1M31 162h1M41 162h1M54 162h1M41 163h1M51 163h1M58 163h1M56 164h1M0 165h1M21 165h1M45 165h1M54 165h1M59 165h1M38 166h1M44 166h1M46 166h1M50 166h1M55 166h1M13 167h1M44 167h1M26 168h1M42 168h1M50 168h1M58 168h1M26 169h1M44 169h1M57 169h1"/>
<path stroke="#132606" d="M5 0h1M9 0h1M15 0h1M25 0h1M39 0h1M1 1h1M8 1h1M20 1h1M25 1h1M38 1h1M2 2h1M11 2h1M22 2h1M34 2h1M5 3h1M29 3h1M39 3h1M5 4h1M12 4h1M38 4h1M50 4h1M0 5h1M12 5h1M22 5h1M35 5h1M38 5h1M1 6h1M16 6h1M54 6h1M10 7h1M16 7h1M20 7h1M8 8h1M11 8h1M27 8h1M31 8h1M2 9h1M9 9h1M22 9h1M25 9h1M29 9h1M38 9h1M50 9h1M5 10h1M8 10h1M10 10h1M25 10h1M54 10h1M2 11h1M14 11h1M20 11h1M11 12h1M25 12h1M37 12h1M37 13h1M39 13h1M14 14h1M20 14h1M23 14h1M25 14h1M35 14h1M54 14h1M8 15h1M11 15h1M14 15h1M22 15h1M31 15h1M35 15h1M54 15h1M8 16h1M12 16h1M16 16h1M37 16h1M50 16h1M4 17h1M10 17h1M12 17h1M20 17h2M31 17h1M34 17h2M50 17h1M4 18h1M7 18h1M11 18h1M14 18h1M19 18h2M23 18h1M29 18h1M31 18h1M37 18h1M50 18h1M13 19h1M22 19h1M35 19h1M3 20h1M12 20h1M24 20h1M27 20h1M32 20h1M3 21h2M6 21h1M8 21h1M11 21h2M21 21h1M28 21h2M5 22h1M11 22h1M13 22h1M31 22h1M8 23h1M11 23h1M14 23h1M24 23h1M27 23h2M31 23h1M38 23h2M4 24h1M18 24h1M21 24h1M28 24h2M33 24h1M5 25h1M7 25h1M12 25h1M20 25h3M29 25h1M31 25h5M39 25h1M8 26h1M19 26h1M22 26h1M25 26h1M30 26h1M35 26h1M0 27h1M10 27h1M20 27h1M25 27h1M43 27h1M1 28h1M7 28h2M10 28h1M19 28h1M26 28h1M28 28h2M31 28h2M35 28h1M37 28h1M1 29h2M23 29h2M34 29h1M0 30h3M4 30h1M13 30h1M15 30h1M32 30h1M3 31h1M6 31h1M17 31h1M20 31h1M39 31h1M0 32h1M15 32h1M29 32h1M0 33h1M10 33h1M16 33h1M20 33h1M36 33h1M38 33h1M0 34h2M10 34h1M18 34h1M29 34h1M31 34h1M4 35h1M6 35h1M13 35h1M16 35h2M31 35h1M1 36h1M11 36h1M14 36h1M16 36h1M18 36h1M20 36h1M33 36h1M38 36h1M6 37h1M15 37h1M19 37h1M22 37h1M25 37h1M29 37h1M11 38h1M19 38h1M22 38h1M32 38h1M34 38h1M0 39h4M5 39h2M14 39h1M18 39h1M23 39h1M28 39h1M31 39h1M34 39h1M0 40h1M6 40h1M9 40h3M13 40h1M29 40h1M3 41h1M8 41h1M23 41h1M26 41h1M30 41h2M36 41h1M39 41h1M5 42h1M16 42h1M20 42h1M26 42h1M31 42h1M33 42h1M35 42h1M1 43h1M8 43h1M12 43h1M26 43h2M2 44h1M5 44h1M39 44h1M7 45h1M12 45h1M20 45h2M37 45h2M0 46h1M3 46h1M11 46h1M13 46h2M12 47h1M34 47h1M3 48h1M15 48h1M19 48h1M1 49h1M7 49h1M24 49h1M28 49h1M12 50h1M14 50h1M31 50h1M13 51h1M18 51h1M24 51h1M27 51h1M18 52h1M22 52h1M34 52h1M28 53h1M1 54h1M19 54h2M22 54h1M1 55h2M8 56h2M19 56h1M34 56h1M19 57h1M22 57h1M24 57h1M28 57h1M0 58h1M3 58h1M19 58h1M24 58h1M18 59h2M22 59h1M24 59h1M26 59h1M31 59h1M20 60h1M28 60h1M24 61h2M27 61h1M3 62h1M22 62h1M27 62h1M31 62h1M4 63h1M18 63h1M22 63h1M24 63h1M27 63h1M31 64h1M6 65h2M18 65h1M1 66h1M9 66h1M31 66h1M58 66h1M7 67h1M18 67h1M28 68h1M11 69h1M15 69h1M24 69h1M26 69h1M28 69h1M33 69h1M0 70h1M4 70h1M7 70h2M14 70h1M4 71h1M19 71h1M36 71h1M2 72h2M27 72h1M34 72h1M9 73h1M19 73h1M9 74h1M15 74h1M19 74h1M34 74h1M1 75h1M12 75h1M14 75h1M16 75h1M28 75h1M37 75h1M4 76h2M9 76h1M15 76h1M22 76h1M27 76h1M34 76h1M4 77h1M27 77h3M39 77h1M3 78h1M8 78h1M11 78h1M13 78h1M19 78h1M39 78h1M9 79h1M19 80h1M24 80h1M28 80h1M2 81h2M6 81h1M14 81h1M18 81h1M5 82h2M22 82h1M5 83h1M18 83h1M24 83h1M27 83h1M22 84h2M33 84h1M16 85h1M20 85h1M24 85h1M7 86h1M24 86h1M34 86h1M15 87h1M28 87h1M34 87h1M39 87h1M0 88h1M19 88h1M22 88h3M29 88h2M32 88h1M36 88h1M10 89h1M14 89h1M24 89h1M28 89h1M3 90h1M11 90h1M39 90h1M47 90h2M2 91h1M31 91h1M34 91h1M1 92h1M10 92h1M48 92h1M52 92h1M56 92h2M1 93h1M7 93h1M9 93h1M14 93h1M44 93h1M5 94h2M10 94h1M53 94h1M57 94h1M0 95h1M3 95h1M12 95h2M19 95h1M31 95h1M45 95h1M53 95h1M11 96h1M13 96h1M15 96h1M28 96h1M43 96h1M46 96h1M49 96h1M8 97h1M12 97h2M26 97h1M44 97h1M52 97h1M57 97h1M2 98h1M9 98h1M15 98h1M44 98h1M50 98h1M53 98h1M57 98h1M8 99h1M36 99h1M52 99h1M3 100h1M8 100h2M14 100h1M19 100h1M50 100h3M56 100h1M24 101h1M50 101h1M6 102h1M8 102h1M11 102h3M25 102h1M28 102h1M45 102h1M0 103h1M10 103h1M26 103h1M39 103h1M59 103h1M2 104h2M10 104h2M50 104h1M1 105h1M6 105h1M8 105h1M14 105h1M40 105h2M45 105h1M58 105h1M7 106h1M10 106h2M15 106h1M42 106h2M6 107h1M10 107h1M24 107h1M1 108h1M3 108h1M5 108h2M19 108h1M39 108h1M52 108h3M0 109h1M6 109h1M9 109h1M12 109h2M24 109h1M47 109h1M52 109h2M41 110h1M43 110h1M57 110h1M1 111h1M5 111h2M57 111h1M0 112h1M2 112h1M4 112h1M8 112h1M31 112h1M42 112h1M51 112h1M57 112h1M0 113h2M3 113h1M14 113h1M16 113h1M19 113h1M22 113h1M46 113h1M1 114h1M3 114h1M5 114h1M7 114h1M13 114h1M15 114h1M27 114h1M51 114h1M0 115h1M2 115h1M6 115h4M15 115h1M18 115h1M53 116h1M56 116h1M1 117h4M6 117h1M13 117h1M22 117h1M40 117h1M58 117h1M0 118h3M12 119h1M15 119h1M19 119h1M22 119h1M26 119h1M31 119h1M42 119h1M48 119h1M52 119h1M59 119h1M9 120h1M14 120h1M21 120h1M26 120h1M34 120h1M21 122h1M26 122h1M32 122h1M9 123h1M13 123h1M28 124h1M54 124h1M57 124h1M7 125h1M49 125h2M52 126h1M51 127h1M56 127h1M22 128h1M25 128h1M21 129h1M47 129h1M56 129h1M35 130h1M50 130h1M9 131h1M13 132h1M16 132h1M34 132h1M26 133h1M22 134h1M31 134h1M42 134h1M9 135h1M22 135h1M51 135h1M22 136h1M36 136h1M33 137h1M21 138h2M52 138h1M56 138h1M22 139h1M26 139h3M21 140h1M43 140h1M5 141h1M39 141h1M7 142h1M34 142h1M41 142h1M56 142h2M16 143h1M56 143h1M9 144h1M57 144h1M2 145h1M21 145h1M26 145h1M50 145h1M56 145h2M9 146h1M20 146h1M35 146h1M2 147h1M21 147h1M25 147h1M12 148h2M16 148h1M21 148h1M9 149h1M13 149h1M21 149h1M31 150h1M36 150h1M39 150h1M43 150h1M9 151h1M13 151h1M16 151h1M22 151h1M52 152h1M9 154h1M7 155h1M25 155h1M35 155h1M38 155h1M21 156h1M44 156h1M22 157h1M32 157h1M21 158h1M50 158h1M57 158h1M9 159h1M20 160h1M22 160h1M25 160h1M44 160h1M52 160h1M25 161h1M2 162h1M25 162h1M56 162h1M31 163h1M21 164h1M44 164h2M11 165h1M26 165h1M55 165h2M58 165h1M13 166h1M48 166h1M59 166h1M9 169h1M53 169h1"/>
<path stroke="#081102" d="M12 0h1M14 0h1M36 0h1M2 1h1M10 1h2M15 1h1M50 1h1M50 2h1M0 3h2M10 3h1M37 3h1M0 4h1M8 4h1M26 4h1M30 4h2M8 5h4M20 5h1M27 5h1M30 5h2M2 6h1M8 6h1M10 6h1M12 6h1M20 6h1M22 6h1M0 7h1M11 7h1M36 7h1M50 7h1M14 8h1M25 8h1M0 9h1M10 9h1M20 9h1M30 9h1M9 10h1M12 10h1M20 10h1M22 10h1M31 10h1M13 11h1M25 11h1M34 11h1M50 11h1M54 11h1M12 12h1M16 12h1M22 12h1M50 12h1M0 13h1M8 13h1M22 14h1M31 14h1M12 15h1M30 15h1M34 15h1M50 15h1M5 16h1M30 16h1M36 16h1M39 16h1M6 17h2M19 17h1M29 17h2M30 18h1M34 18h2M39 18h1M7 19h1M34 19h1M55 19h1M2 20h1M4 20h1M34 20h1M38 20h1M22 21h1M1 22h2M23 22h1M10 23h1M25 23h1M29 23h1M32 23h1M34 23h1M3 24h1M19 24h1M25 24h1M31 24h1M34 24h1M39 24h1M1 25h1M14 25h2M30 25h1M37 25h1M0 26h1M3 26h1M16 26h1M33 26h1M5 27h1M0 28h1M23 28h1M33 28h1M38 28h2M5 29h1M7 29h1M12 29h1M18 29h1M25 29h1M30 29h1M35 29h1M3 30h1M6 30h1M8 30h1M10 30h1M21 30h1M1 31h1M29 31h1M13 32h1M34 32h1M23 33h1M37 33h1M3 34h1M5 34h1M13 34h1M19 34h1M30 34h1M34 34h2M1 35h1M3 35h1M9 35h1M11 35h1M19 35h1M24 35h1M27 35h1M34 35h1M19 36h1M34 36h1M1 37h2M8 37h1M36 37h3M10 39h2M13 39h1M15 39h1M2 40h1M4 40h1M7 40h1M31 40h2M36 40h1M4 41h1M11 41h1M14 41h1M19 41h1M8 42h1M12 42h1M38 42h1M0 43h1M2 43h1M4 43h1M13 43h1M23 43h1M29 43h1M35 43h1M37 43h1M8 44h1M22 44h1M29 44h1M57 44h2M1 45h3M8 45h1M22 45h1M27 45h2M31 45h2M34 45h1M36 45h1M4 46h2M8 46h1M12 46h1M11 47h1M28 47h1M36 47h1M2 48h1M4 48h1M6 48h1M8 48h2M11 48h1M13 48h2M24 48h1M2 49h1M6 49h1M13 49h1M22 49h1M34 49h1M7 50h1M9 50h2M13 50h1M15 50h1M26 50h1M4 51h1M11 51h1M16 51h1M19 51h1M26 51h1M7 52h1M11 52h1M13 52h1M2 53h1M8 53h2M18 53h1M2 54h2M6 54h1M14 54h1M0 55h1M7 55h1M11 55h2M4 56h1M27 57h1M9 58h3M27 58h1M4 59h1M27 59h2M34 59h1M27 60h1M31 60h1M18 61h1M22 61h1M13 62h1M18 62h1M3 63h1M9 63h2M15 63h1M26 63h1M31 63h1M1 64h1M4 64h1M6 64h1M9 64h1M13 64h1M34 64h1M5 65h1M27 65h1M31 65h1M34 65h1M4 66h1M6 66h3M22 66h1M26 66h1M4 67h2M8 67h1M12 67h1M39 67h1M0 68h1M3 68h1M11 68h1M26 68h1M31 68h1M0 69h1M3 69h1M27 69h1M19 70h1M31 70h1M2 71h2M11 71h1M14 72h1M18 72h2M26 72h1M5 73h1M12 73h1M18 73h1M27 73h1M0 74h1M14 74h1M22 74h1M27 74h1M31 74h1M0 75h1M5 75h1M7 75h1M18 75h2M22 75h1M0 76h1M11 76h1M13 76h1M16 76h1M18 76h2M5 77h1M7 77h1M26 77h1M0 78h1M10 78h1M14 78h1M16 78h1M34 78h1M5 79h1M7 79h1M13 79h1M15 79h1M0 80h1M15 80h1M18 80h1M27 80h1M8 81h1M28 81h1M0 82h1M4 82h1M9 82h1M12 82h1M14 82h1M31 82h1M1 83h1M8 83h2M16 83h1M26 83h1M28 83h2M39 83h1M18 84h1M24 84h1M27 84h1M18 85h1M26 85h1M31 85h1M2 86h1M10 86h2M18 86h2M31 86h1M39 86h1M2 87h1M32 87h1M1 88h1M10 88h1M14 88h1M28 88h1M31 88h1M37 88h1M2 89h1M4 89h1M6 89h1M11 89h1M22 89h1M27 89h1M34 89h1M57 89h1M4 90h3M14 90h1M18 90h1M31 90h1M3 91h1M6 91h1M22 91h1M26 91h1M53 91h1M6 92h1M12 92h1M0 93h1M8 93h1M3 94h1M11 94h2M24 94h1M1 95h1M7 95h1M10 95h2M14 95h1M26 95h2M46 95h1M4 96h1M14 96h1M22 96h1M24 96h1M31 96h1M51 96h2M57 96h1M3 97h1M7 97h1M14 97h1M16 97h1M22 98h1M42 98h2M54 98h1M7 99h1M10 99h2M24 99h1M26 99h1M28 99h1M34 99h1M42 99h1M6 100h2M10 100h2M15 100h1M22 100h1M31 100h1M34 100h1M0 101h2M13 101h1M26 101h1M56 101h1M1 102h1M15 102h2M19 102h1M26 102h1M57 102h1M59 102h1M12 103h2M19 103h1M22 103h1M31 103h1M0 104h1M7 104h1M18 104h2M22 104h1M26 104h3M52 104h1M4 105h2M15 105h2M39 105h1M42 105h1M49 105h1M52 105h1M5 106h1M13 106h1M27 106h2M41 106h1M48 106h1M2 107h1M5 107h1M26 107h1M31 107h1M7 108h1M14 108h2M28 108h1M4 109h1M8 109h1M11 109h1M15 109h1M22 109h1M31 109h1M1 110h1M3 110h1M5 110h1M7 110h1M10 110h1M56 110h1M3 111h1M7 111h1M12 111h2M15 111h1M56 111h1M12 112h1M27 112h1M34 112h1M47 112h1M7 113h2M10 113h1M26 113h1M39 113h1M52 113h1M57 113h1M22 114h1M26 114h1M27 115h1M39 115h1M1 116h1M5 116h1M14 116h1M26 116h1M31 116h1M34 116h1M39 116h1M52 116h1M10 117h3M50 117h1M54 117h1M7 118h2M3 119h1M27 119h1M0 120h1M14 121h1M16 121h1M36 121h1M11 122h1M14 122h1M16 122h1M23 122h1M25 122h1M30 122h1M52 122h1M4 123h1M19 123h1M26 123h1M30 123h2M0 124h1M16 124h1M18 124h1M20 124h2M35 124h1M2 125h1M21 125h1M25 125h1M31 125h2M0 126h1M22 126h1M27 126h1M41 126h1M5 127h1M21 127h1M23 127h1M26 127h1M21 128h1M31 128h1M53 128h1M26 129h2M0 130h1M2 130h1M25 130h1M54 130h1M25 131h1M41 131h1M52 131h1M55 131h1M26 132h1M32 132h1M56 132h1M7 133h1M9 133h1M7 134h1M9 134h1M13 134h1M51 134h1M57 134h1M5 135h1M14 135h1M20 135h2M36 135h1M39 135h1M10 136h1M16 136h1M23 136h1M59 136h1M58 137h1M31 138h1M40 138h1M17 139h1M21 139h1M2 140h1M13 140h1M16 140h1M8 141h1M16 141h1M32 141h1M56 141h2M59 141h1M13 142h1M16 142h1M25 142h1M28 142h1M36 142h1M3 143h1M5 143h1M9 143h1M13 143h1M17 143h1M31 143h1M36 143h1M7 144h1M13 144h1M25 144h1M9 145h1M41 145h2M1 146h1M21 146h2M38 146h1M9 147h1M16 147h1M22 147h1M0 148h1M5 148h1M8 148h1M17 148h1M25 148h1M27 148h1M57 148h1M3 149h1M12 149h1M14 149h1M16 149h1M23 149h2M2 150h1M8 150h1M11 150h1M13 150h1M16 150h1M32 150h1M38 150h1M32 151h1M21 152h1M36 152h1M16 153h1M27 153h1M38 153h1M52 153h1M26 154h1M29 154h1M12 155h1M19 155h1M21 155h1M24 155h1M15 156h2M20 156h1M32 156h1M35 156h1M38 156h1M57 156h1M11 157h1M21 157h1M26 158h1M41 158h1M46 158h1M22 159h1M57 159h1M7 160h1M21 160h1M28 160h1M16 161h1M19 161h2M35 161h1M39 161h1M56 161h1M1 162h1M12 162h1M21 162h1M32 162h1M16 163h1M18 163h1M20 163h2M32 163h1M19 164h1M29 164h1M50 164h1M53 164h1M5 165h1M13 165h1M51 165h1M12 166h1M26 166h1M9 167h1M19 167h1M22 167h1M40 167h1M49 167h1M1 168h2M8 168h1M16 168h1M22 168h1M25 168h1M31 168h1M1 169h1"/>
<path stroke="#100000" d="M16 0h1M45 0h1M50 0h1M41 1h1M46 1h1M16 2h1M58 2h1M25 3h1M31 3h1M38 3h1M49 3h1M2 4h1M58 4h1M5 5h1M16 5h1M45 5h1M50 5h1M57 5h1M34 6h1M5 7h1M12 7h1M38 7h1M43 7h1M54 7h1M12 8h1M20 8h1M30 8h1M47 8h1M3 9h1M58 9h1M38 10h1M52 10h1M55 10h1M58 10h1M26 11h1M59 11h1M58 12h1M3 13h1M8 14h1M16 14h1M22 16h1M26 16h1M34 16h1M52 16h1M1 17h1M18 17h1M51 17h1M15 18h2M36 18h1M47 19h1M44 20h1M55 21h1M43 23h1M4 25h1M19 25h1M25 25h1M47 26h1M52 26h1M44 27h1M3 29h1M37 29h1M48 31h1M55 31h1M12 33h1M26 33h1M47 33h1M49 33h1M55 33h1M55 36h1M14 37h1M2 38h1M41 38h1M43 38h1M46 38h1M48 38h2M30 39h1M36 39h1M49 40h1M6 41h1M20 41h1M11 42h1M43 43h1M55 43h1M45 44h1M47 44h1M25 45h1M30 45h1M33 45h1M16 46h1M45 46h1M49 46h1M0 47h1M3 47h3M7 47h1M16 47h1M58 47h1M5 48h1M55 48h1M3 49h1M19 49h1M27 49h1M56 49h1M46 50h2M52 50h1M2 51h1M5 51h1M7 51h1M14 51h1M45 51h1M57 51h1M4 52h1M10 52h1M16 52h1M0 53h2M14 53h2M58 53h1M0 54h1M9 54h2M6 55h1M10 55h1M1 56h1M3 56h1M6 56h1M11 56h1M46 56h1M0 57h1M3 57h1M8 57h1M12 57h1M14 57h1M40 57h1M52 57h1M2 58h1M13 58h1M41 58h1M58 58h1M3 59h1M5 59h1M7 59h1M41 59h1M18 60h1M34 60h1M13 61h1M16 61h1M1 62h1M8 62h1M11 62h2M43 62h2M7 63h2M12 63h1M14 63h1M16 63h1M2 64h2M5 64h1M19 64h1M9 65h1M12 65h1M15 65h1M0 66h1M3 66h1M13 66h1M10 67h1M15 67h1M28 67h1M48 67h1M4 68h1M12 68h2M43 68h2M2 69h1M4 69h2M8 69h1M12 69h1M3 70h1M6 70h1M9 70h1M16 70h1M18 70h1M7 71h1M14 71h1M43 71h2M1 72h1M10 72h1M0 73h2M3 73h2M10 73h2M45 73h1M2 74h1M8 74h1M12 74h1M16 74h1M44 74h1M46 74h1M49 74h1M3 75h1M55 75h1M0 77h1M3 77h1M5 78h3M1 79h1M3 79h1M11 79h1M14 79h1M6 80h1M9 80h1M13 80h1M16 80h1M16 81h1M46 81h1M58 81h1M15 82h1M0 83h1M4 83h1M46 83h1M0 84h1M3 84h1M5 84h1M9 84h1M34 84h1M5 85h1M7 85h1M19 85h1M1 86h1M4 86h1M8 86h1M22 86h1M48 86h2M0 87h2M9 87h1M45 87h1M33 88h1M13 89h1M0 90h2M8 90h1M19 90h1M26 90h1M28 90h1M27 91h1M11 92h1M13 92h1M24 92h1M10 93h1M15 93h1M7 94h1M13 94h1M34 94h1M15 95h1M24 95h1M34 95h1M36 95h1M5 96h1M9 96h1M18 96h1M10 97h2M19 97h1M24 97h1M31 97h1M6 98h1M24 98h1M26 98h1M29 98h1M34 98h1M39 98h1M22 99h1M27 99h1M2 100h1M27 101h1M33 101h2M0 102h1M14 102h1M22 102h1M24 102h1M8 103h1M20 103h1M27 103h1M34 103h1M13 104h1M23 104h1M25 104h1M7 105h1M18 105h1M24 105h1M27 105h2M31 105h1M2 106h1M8 106h1M12 106h1M14 106h1M19 106h1M24 106h1M26 106h1M39 106h1M8 107h1M34 108h1M2 109h1M39 109h1M14 110h1M24 111h1M28 111h1M31 111h1M7 112h1M38 112h1M11 113h1M27 113h1M34 113h1M11 114h1M28 114h1M24 115h1M28 115h1M10 116h1M18 116h2M22 116h1M5 117h1M15 117h1M5 118h1M10 118h1M14 118h1M31 118h1M56 118h1M24 119h1M1 120h1M6 120h1M13 120h1M18 120h1M20 120h1M27 120h1M3 121h1M18 121h1M27 121h2M35 121h1M37 121h1M4 122h1M7 122h2M27 122h1M35 122h1M39 122h1M3 123h1M5 123h1M12 123h1M14 123h2M22 123h1M25 123h1M1 124h1M7 124h1M11 124h2M22 124h1M27 124h1M32 124h1M37 124h1M0 125h1M11 125h1M17 125h1M23 125h1M27 125h2M33 125h1M37 125h1M39 125h1M1 126h2M8 126h1M34 126h1M50 126h1M2 127h1M4 127h1M16 127h1M28 127h1M31 127h3M0 128h1M5 128h1M12 128h1M23 128h1M27 128h1M32 128h1M35 128h1M37 128h1M3 129h1M7 129h1M10 129h1M16 129h1M19 129h1M23 129h1M25 129h1M28 129h1M36 129h1M17 130h3M24 130h1M37 130h1M39 130h1M5 131h1M17 131h1M27 131h2M39 131h1M0 132h1M3 132h1M7 132h1M17 132h1M20 132h1M31 132h1M12 133h1M20 133h1M22 133h1M24 133h1M2 134h1M16 134h1M19 134h1M25 134h1M38 134h1M4 135h1M8 135h1M28 135h1M8 136h1M11 136h1M14 136h1M18 136h1M31 136h1M38 136h1M4 137h1M20 137h1M23 137h1M7 138h1M10 138h2M16 138h2M19 138h2M23 138h1M25 138h1M27 138h2M32 138h1M4 139h1M38 139h1M0 140h1M3 140h1M9 140h1M11 140h1M22 140h1M24 140h1M27 140h1M31 140h1M35 140h1M37 140h1M0 141h1M15 141h1M25 141h1M9 142h1M11 142h1M24 142h1M27 142h1M32 142h1M38 142h2M2 143h1M20 143h1M24 143h1M27 143h1M18 144h1M27 144h1M35 144h2M5 145h1M18 145h1M20 145h1M22 145h1M27 145h1M39 145h1M0 146h1M19 146h1M33 146h1M36 146h1M39 146h1M0 147h1M4 147h3M17 147h1M19 147h1M27 147h1M31 147h1M18 148h1M11 149h1M15 149h1M19 149h1M33 149h1M6 150h1M12 150h1M15 150h1M18 150h1M21 150h1M27 150h1M35 150h1M2 151h1M20 151h1M23 151h1M31 151h1M33 151h1M35 151h1M1 152h1M4 152h3M8 152h1M10 152h1M14 152h1M27 152h2M38 152h1M8 153h1M12 153h1M20 153h2M32 153h1M36 153h1M14 154h1M18 154h1M38 154h1M0 155h1M3 155h1M6 155h1M9 155h1M20 155h1M12 156h1M25 156h1M27 156h1M36 156h1M6 157h1M8 157h1M13 157h1M19 157h2M27 157h1M34 157h2M37 157h1M13 158h1M19 158h1M30 158h1M39 158h1M5 159h1M10 159h1M15 159h1M17 159h2M37 159h1M4 160h2M8 160h1M19 160h1M0 161h1M14 161h1M18 161h1M28 161h1M31 161h1M36 161h1M4 162h3M11 162h1M14 162h1M16 162h1M19 162h1M24 162h1M36 162h1M1 163h1M6 163h1M9 163h1M13 164h1M28 164h1M31 164h1M59 164h1M1 165h2M8 165h1M10 165h1M1 166h2M16 166h1M19 166h1M27 166h1M31 166h1M6 167h2M11 167h1M15 167h1M24 167h1M32 167h1M39 167h1M6 168h2M12 168h1M28 168h1M30 168h1M32 168h1M39 168h1M11 169h1M16 169h1M24 169h1M28 169h1"/>
<path stroke="#230101" d="M30 0h1M30 1h1M43 1h1M45 1h1M53 1h1M12 2h1M41 2h1M49 2h1M51 2h1M2 3h1M42 3h1M56 4h1M59 4h1M2 5h1M51 5h1M33 6h1M46 6h1M13 7h1M30 7h1M41 7h1M5 8h1M58 8h1M44 9h2M51 9h1M30 10h1M45 10h1M49 10h1M59 10h1M56 11h1M3 12h1M8 12h1M34 12h1M44 12h1M53 12h1M9 13h1M46 13h1M6 14h1M26 14h1M33 14h1M49 14h1M55 14h1M13 15h1M43 15h1M52 15h1M3 16h1M40 16h1M43 16h1M46 16h1M16 17h1M43 17h1M43 18h1M46 19h1M57 19h2M43 20h1M45 20h1M44 21h1M49 22h1M58 22h1M1 23h1M30 23h1M45 23h1M1 24h1M54 24h1M38 25h1M44 25h1M1 26h1M17 26h1M41 26h1M45 26h1M53 26h1M58 26h1M46 27h1M36 29h1M51 30h1M55 30h2M58 30h2M41 31h1M58 32h1M41 34h1M43 34h1M55 34h1M15 35h1M55 35h1M58 35h1M43 36h1M47 36h1M10 37h1M43 37h1M59 37h1M50 38h1M58 39h1M19 40h1M43 40h1M3 42h1M47 42h1M10 43h1M46 43h1M53 43h1M31 44h1M47 45h1M46 46h1M13 47h1M15 47h1M42 47h1M46 47h1M1 48h1M45 48h2M0 49h1M9 49h1M58 49h1M55 50h2M58 50h1M3 51h1M31 51h1M49 51h1M53 51h1M2 52h1M5 52h1M8 52h1M44 52h1M58 52h1M5 53h1M49 53h1M56 53h1M8 54h1M12 54h1M16 54h1M54 54h2M48 55h3M5 56h1M7 56h1M10 56h1M12 56h1M15 56h1M43 56h1M4 57h2M47 57h1M1 58h1M5 58h3M12 58h1M16 58h1M45 58h1M0 59h1M9 59h1M15 59h1M1 60h1M7 60h1M11 60h1M19 60h1M45 60h1M1 61h1M4 61h2M7 61h2M15 61h1M49 61h1M6 62h1M0 64h1M7 64h1M11 64h1M14 64h1M40 64h1M46 64h1M59 64h1M2 65h1M4 65h1M11 65h1M19 65h1M46 65h1M10 66h1M56 66h1M11 67h1M14 67h1M47 67h1M53 67h2M59 67h1M1 68h1M6 68h1M8 68h1M14 68h1M45 68h1M48 68h1M58 68h1M1 69h1M13 69h1M41 69h1M57 69h1M11 70h1M13 70h1M5 71h1M16 71h1M22 71h1M48 71h1M5 72h1M12 72h1M15 72h1M46 72h1M7 73h1M13 73h2M24 73h1M47 74h2M55 74h1M8 75h1M10 75h1M41 75h1M43 75h1M58 75h1M2 76h2M6 76h1M43 76h1M45 76h1M49 76h1M54 76h1M56 76h1M8 77h1M11 77h1M41 77h1M46 77h2M4 78h1M12 78h1M15 78h1M18 78h1M12 79h1M40 79h2M1 80h1M7 80h1M11 80h1M14 80h1M7 81h1M12 81h1M39 81h1M43 81h1M45 81h1M57 81h1M11 82h1M59 82h1M7 83h1M13 83h1M15 83h1M43 83h1M1 84h2M4 84h1M12 84h1M16 84h1M28 84h1M43 84h1M46 84h1M10 85h1M40 85h1M55 86h1M4 87h1M6 87h1M13 87h2M16 87h1M46 87h2M55 87h1M45 88h2M51 88h1M39 89h1M20 90h1M24 90h1M4 91h1M9 91h1M25 91h1M36 91h2M0 92h1M2 92h1M5 92h1M15 92h1M18 92h1M26 92h1M6 93h1M25 93h1M27 93h1M16 94h1M19 94h1M26 94h1M39 94h1M18 95h1M25 95h1M1 96h1M34 96h1M18 99h1M5 100h1M19 101h1M4 102h1M18 102h1M4 106h1M29 107h1M34 107h1M14 109h1M36 109h1M15 110h1M24 110h1M34 110h1M18 112h2M22 112h1M23 113h1M31 113h1M12 114h1M17 114h1M24 114h2M38 115h1M15 116h1M25 116h1M28 116h1M18 117h1M27 117h2M15 118h1M19 118h1M22 118h1M24 118h1M38 118h1M14 119h1M18 119h1M25 119h1M34 119h1M5 120h1M8 120h1M11 120h1M11 121h1M30 121h2M33 121h1M0 122h2M9 122h1M33 122h1M7 123h1M18 123h1M23 123h2M38 123h1M6 124h1M10 124h1M13 124h1M19 124h1M26 124h1M5 125h1M16 125h1M19 125h1M7 126h1M11 126h1M15 126h1M28 126h1M31 126h1M38 126h2M3 127h1M6 127h1M14 127h1M30 127h1M3 128h1M24 128h1M0 129h1M8 129h1M13 129h1M34 129h2M5 130h1M11 130h1M13 130h1M16 130h1M23 130h1M28 130h1M31 130h1M36 130h1M2 131h1M11 131h1M18 131h1M20 131h1M32 131h1M23 132h1M28 132h3M33 132h1M35 132h1M38 132h1M5 133h1M13 133h1M17 133h1M21 133h1M31 133h1M39 133h1M27 134h1M7 135h1M27 135h1M0 136h1M5 136h1M17 136h1M33 136h1M1 137h1M5 137h1M7 137h1M9 137h1M18 137h1M24 137h1M27 137h1M32 137h1M35 137h1M38 137h1M1 138h1M4 138h1M36 138h1M38 138h1M5 139h1M20 139h1M24 139h2M35 139h1M4 140h1M8 140h1M20 140h1M25 140h1M39 140h1M2 141h1M11 141h1M26 141h1M28 141h1M33 141h2M10 142h1M33 142h1M1 143h1M10 143h1M14 143h1M23 143h1M33 143h1M37 143h2M1 144h1M3 144h3M21 144h1M24 144h1M32 144h1M11 145h1M13 145h1M16 145h1M31 145h1M33 145h1M38 145h1M6 146h1M17 146h1M24 146h2M31 146h1M12 147h1M20 147h1M37 147h1M1 148h1M3 148h2M35 148h4M4 149h2M7 149h1M20 149h1M32 149h1M36 149h1M5 150h1M28 150h1M30 150h1M33 150h1M0 151h1M3 151h1M8 151h1M19 151h1M25 151h1M29 151h1M36 151h2M39 151h1M0 152h1M3 152h1M7 152h1M17 152h1M35 152h1M39 152h1M0 153h1M7 153h1M14 153h1M29 153h1M39 153h1M5 154h1M8 154h1M17 154h1M24 154h1M31 154h1M31 155h1M33 155h1M37 155h1M17 156h2M33 156h1M0 157h1M2 157h1M7 157h1M12 157h1M29 157h1M33 157h1M0 158h1M5 158h1M11 158h1M25 158h1M27 158h1M37 158h1M7 159h1M30 159h1M36 159h1M3 160h1M16 160h1M24 160h1M33 160h1M35 160h1M38 160h1M4 161h1M6 161h1M8 161h1M10 161h3M38 161h1M23 162h1M38 162h1M3 163h1M8 163h1M24 163h1M27 163h1M29 163h1M38 163h2M6 164h1M20 164h1M23 164h1M27 164h1M30 164h1M4 165h1M6 165h1M17 165h1M28 165h1M33 165h1M0 166h1M8 166h1M18 166h1M33 166h1M35 166h2M8 167h1M16 167h2M25 167h1M31 167h1M10 168h1M24 168h1M27 168h1M36 168h1M38 168h1M2 169h1M5 169h1M7 169h2M32 169h2M35 169h1M38 169h1"/>
<path stroke="#390202" d="M26 0h1M46 0h1M55 0h1M3 1h1M19 1h1M34 1h1M44 1h1M47 1h1M9 2h1M42 2h1M45 2h3M53 2h1M55 2h1M9 3h1M27 3h1M30 3h1M34 3h1M54 3h3M3 4h1M9 4h1M44 4h1M26 5h1M58 5h2M30 6h1M41 6h1M47 6h1M53 6h1M56 6h1M2 7h1M53 7h1M56 7h1M13 8h1M40 8h1M52 8h1M54 8h2M40 9h2M47 9h1M55 9h1M13 10h1M44 10h1M47 10h2M3 11h1M8 11h1M55 11h1M58 11h1M9 12h1M55 12h1M13 13h1M19 13h1M43 13h1M52 13h2M9 14h1M13 14h1M46 14h1M48 14h1M49 15h1M55 15h1M55 16h1M58 16h1M45 17h1M56 17h1M45 18h2M42 19h1M47 20h1M49 20h1M56 20h1M49 21h1M54 21h1M46 22h2M44 24h1M46 24h1M53 24h1M59 24h1M8 25h1M43 25h1M45 25h1M43 26h1M56 26h1M59 26h1M42 27h1M49 27h2M45 28h1M42 29h2M46 29h1M52 29h2M58 29h1M41 30h1M43 30h2M49 30h1M40 31h1M45 31h3M50 31h1M56 31h1M42 32h1M53 33h2M58 33h1M45 34h1M40 35h1M59 35h1M41 36h1M48 36h2M42 37h1M44 37h1M55 37h1M58 37h1M47 38h1M58 38h1M37 39h1M43 39h1M58 40h1M48 41h1M40 42h1M58 42h1M48 43h1M50 43h1M54 43h1M58 43h2M48 44h1M2 46h1M43 46h1M6 47h1M8 47h3M26 47h1M41 47h1M43 47h1M45 47h1M47 47h1M50 47h1M54 47h2M10 48h1M14 49h2M43 49h1M47 49h2M55 49h1M40 50h1M50 50h1M53 50h1M44 51h1M56 51h1M0 52h2M41 52h1M52 53h1M4 54h1M7 54h1M44 55h1M52 55h1M54 55h1M59 55h1M16 56h1M47 56h1M7 57h1M10 57h1M41 57h1M43 57h1M4 58h1M15 58h1M42 58h1M49 58h1M55 58h1M6 59h1M11 59h2M14 59h1M16 59h1M44 59h2M47 59h1M55 59h1M57 59h1M2 60h4M10 60h1M16 60h1M46 60h1M54 60h2M3 61h1M6 61h1M14 61h1M5 62h1M7 62h1M15 62h1M51 62h1M55 62h1M58 62h1M2 63h1M5 63h2M42 63h2M46 63h1M48 63h1M52 63h2M10 64h1M42 64h1M45 64h1M53 64h1M56 64h3M0 65h1M22 65h1M42 65h1M44 65h1M59 65h1M41 66h1M9 67h1M46 67h1M58 67h1M2 68h1M7 68h1M10 68h1M15 68h1M41 68h1M47 68h1M59 68h1M47 69h3M53 69h1M55 69h1M58 69h1M1 70h2M10 70h1M12 70h1M15 70h1M42 70h1M45 70h1M51 70h1M59 70h1M10 71h1M12 71h1M47 71h1M58 71h1M8 72h1M40 72h1M48 72h1M55 72h1M58 72h1M2 73h1M8 73h1M15 73h2M44 73h1M47 73h1M49 73h1M54 73h1M56 73h1M56 74h1M2 75h1M48 75h1M52 75h1M1 76h1M10 76h1M12 76h1M58 76h2M14 77h1M42 77h1M55 77h1M1 78h1M41 78h1M49 78h2M55 78h1M10 79h1M55 79h1M58 79h1M3 80h1M10 80h1M12 80h1M46 80h1M50 80h1M54 80h1M10 81h1M42 81h1M48 82h1M57 82h1M2 83h2M44 83h1M50 83h2M57 83h1M7 84h1M15 84h1M0 85h3M6 85h1M11 85h1M14 85h2M45 85h2M54 85h1M3 86h1M5 86h1M15 86h1M46 86h1M57 86h1M7 87h2M10 87h1M43 87h1M41 88h1M53 88h1M55 88h3M59 88h1M18 89h1M29 89h1M38 89h1M20 91h1M23 91h1M32 91h1M38 91h1M14 92h1M30 92h1M18 93h1M22 93h1M34 93h1M9 94h1M18 94h1M31 94h1M17 95h1M38 95h1M8 96h1M19 96h1M26 96h2M36 96h1M18 97h1M22 97h1M28 97h1M38 97h1M18 98h1M19 99h1M27 100h1M21 101h2M31 102h1M33 102h1M17 103h1M20 104h1M36 104h1M38 104h1M17 105h1M19 105h1M6 106h1M34 106h1M37 106h1M32 108h1M10 109h1M26 109h1M11 110h1M18 110h1M25 111h1M27 111h1M37 111h1M37 112h1M6 113h1M34 114h1M33 116h1M25 117h1M33 117h1M37 117h1M13 118h1M26 118h1M20 119h1M28 119h1M2 120h1M4 120h1M12 120h1M15 120h2M19 120h1M30 120h1M1 121h1M8 121h1M23 121h2M2 122h1M12 122h1M17 122h2M36 122h1M10 123h2M17 123h1M27 123h1M29 123h1M32 123h1M35 123h1M3 124h1M17 124h1M25 124h1M39 124h1M14 125h1M20 125h1M35 125h2M38 125h1M5 126h1M9 126h1M17 126h2M24 126h2M7 127h1M11 127h1M15 127h1M19 127h1M24 127h2M29 127h1M34 127h3M39 127h1M4 128h1M6 128h1M11 128h1M15 128h1M17 128h2M20 128h1M36 128h1M2 129h1M6 129h1M17 129h1M20 129h1M31 129h1M39 129h1M4 130h1M6 130h1M8 130h1M27 130h1M32 130h3M4 131h1M24 131h1M33 131h1M35 131h1M38 131h1M1 132h1M8 132h1M11 132h1M39 132h1M1 133h1M6 133h1M16 133h1M18 133h1M28 133h1M36 133h1M0 134h1M4 134h1M17 134h1M20 134h1M33 134h1M36 134h1M3 135h1M15 135h1M24 135h1M30 135h1M32 135h2M35 135h1M37 135h2M6 136h1M19 136h1M24 136h1M28 136h2M32 136h1M34 136h1M0 137h1M2 137h1M11 137h4M19 137h1M36 137h1M0 138h1M14 138h1M18 138h1M33 138h2M10 139h1M12 139h1M14 139h2M29 139h1M31 139h2M37 139h1M14 140h2M19 140h1M28 140h1M32 140h1M38 140h1M19 141h1M21 141h3M35 141h1M2 142h1M4 142h1M14 142h1M19 142h1M0 143h1M7 143h2M29 143h1M32 143h1M35 143h1M0 144h1M6 144h1M12 144h1M28 144h2M38 144h1M3 145h1M8 145h1M23 146h1M28 146h1M30 146h1M34 146h1M3 147h1M11 147h1M14 147h1M33 147h2M38 147h2M10 148h1M15 148h1M28 148h1M39 148h1M29 149h1M35 149h1M38 149h1M7 150h1M14 150h1M17 150h1M1 151h1M5 151h3M11 151h1M17 151h1M27 151h1M34 151h1M38 151h1M2 152h1M11 152h1M16 152h1M23 152h2M31 152h1M1 153h1M10 153h1M15 153h1M17 153h2M37 153h1M1 154h1M3 154h1M15 154h1M20 154h1M28 154h1M33 154h2M37 154h1M39 154h1M4 155h1M8 155h1M10 155h1M14 155h1M23 155h1M32 155h1M34 155h1M36 155h1M0 156h1M2 156h1M4 156h2M28 156h1M37 156h1M10 157h1M15 157h1M23 157h1M25 157h1M28 157h1M30 157h1M38 157h1M1 158h2M7 158h1M12 158h1M20 158h1M23 158h1M32 158h2M36 158h1M2 159h1M8 159h1M11 159h1M19 159h2M38 159h1M6 160h1M11 160h1M27 160h1M30 160h1M32 160h1M34 160h1M3 161h1M5 161h1M27 161h1M30 161h1M0 162h1M34 162h1M37 162h1M39 162h1M0 163h1M7 163h1M11 163h2M28 163h1M30 163h1M33 163h1M35 163h2M0 164h1M2 164h1M5 164h1M12 164h1M16 164h1M22 164h1M24 164h1M32 164h3M36 164h1M3 165h1M14 165h1M16 165h1M24 165h1M32 165h1M34 165h1M39 165h1M7 166h1M10 166h2M14 166h1M17 166h1M30 166h1M37 166h1M12 167h1M14 167h1M20 167h1M27 167h1M33 167h2M37 167h1M11 168h1M14 168h1M18 168h2M23 168h1M0 169h1M4 169h1M12 169h1M17 169h1M29 169h1M34 169h1M39 169h1"/>
<path stroke="#4F0202" d="M3 0h1M19 0h1M33 0h2M43 0h1M47 0h1M49 0h1M57 0h2M59 1h1M3 2h1M13 2h1M33 2h1M44 2h1M56 2h1M16 3h1M41 4h1M43 4h1M49 4h1M55 4h1M6 5h1M13 5h1M42 5h1M49 5h1M56 5h1M3 6h1M19 6h1M40 6h1M43 6h2M48 6h1M55 6h1M57 6h1M3 7h1M9 7h1M19 7h1M47 7h1M59 7h1M2 8h1M16 8h1M26 8h1M45 8h1M56 8h1M6 9h1M19 9h1M26 9h1M33 9h1M42 9h1M2 10h1M19 10h1M33 10h1M40 10h1M51 10h1M6 11h1M9 11h1M43 11h1M46 11h1M49 11h1M40 12h2M51 12h1M40 13h1M48 13h1M56 13h1M59 13h1M19 14h1M59 14h1M3 15h1M6 15h1M42 15h1M51 15h1M53 15h1M56 15h1M58 15h1M47 16h3M53 16h1M40 17h1M42 17h1M44 17h1M48 17h2M55 17h1M48 18h1M53 18h1M57 18h3M40 19h1M44 19h1M51 19h4M59 19h1M46 20h1M48 20h1M58 20h1M40 21h1M43 21h1M46 21h1M41 22h1M44 22h1M48 22h1M51 22h2M41 23h1M46 23h1M49 23h1M57 23h1M59 23h1M41 24h1M50 24h1M58 24h1M47 25h1M50 25h1M53 25h2M58 25h1M49 26h1M51 26h1M55 26h1M41 27h1M53 27h2M44 28h1M46 28h1M50 28h2M44 29h2M43 31h2M51 31h1M59 31h1M41 32h1M43 32h1M45 32h1M50 32h2M59 32h1M41 33h1M57 33h1M44 34h1M56 34h1M43 35h2M47 35h1M50 35h1M53 35h1M56 35h1M45 36h2M50 36h1M59 36h1M45 37h2M49 37h2M44 38h1M53 38h1M57 38h1M59 38h1M41 39h1M46 39h1M55 39h1M57 39h1M46 40h1M53 40h2M43 41h1M46 41h1M54 41h1M57 41h1M29 42h1M42 42h1M44 42h2M53 42h1M55 42h1M41 43h1M41 44h1M44 44h1M41 45h1M46 45h1M50 45h2M55 45h1M10 46h1M47 46h1M55 46h5M1 47h1M44 47h1M49 47h1M51 47h1M40 48h2M44 48h1M52 48h1M54 48h1M59 48h1M11 49h1M16 49h1M40 49h1M49 49h2M52 49h2M59 49h1M42 50h1M45 50h1M49 50h1M54 50h1M43 51h1M47 51h1M55 51h1M42 52h1M56 52h2M40 53h3M44 53h2M47 53h1M59 53h1M11 54h1M49 54h1M51 54h1M43 55h1M51 55h1M53 55h1M58 55h1M2 56h1M44 56h2M54 56h1M56 56h1M2 57h1M6 57h1M13 57h1M45 57h2M49 57h1M51 57h1M8 58h1M46 58h1M54 58h1M59 58h1M10 59h1M48 59h2M52 59h1M56 59h1M0 60h1M6 60h1M8 60h1M12 60h1M14 60h1M43 60h1M51 60h1M42 61h1M47 61h1M51 61h1M2 62h1M10 62h1M40 62h1M45 62h1M48 62h1M50 62h1M40 63h2M50 63h1M54 63h1M56 63h1M58 63h1M16 64h1M51 64h1M55 64h1M3 65h1M8 65h1M40 65h1M43 65h1M56 65h1M12 66h1M15 66h1M44 66h1M57 66h1M59 66h1M46 68h1M50 68h1M53 68h1M52 69h1M54 69h1M43 70h2M48 70h1M41 71h1M53 71h1M43 72h3M49 72h1M54 72h1M40 73h1M43 73h1M48 73h1M51 73h1M55 73h1M45 74h1M45 75h1M47 75h1M53 75h1M57 75h1M41 76h1M10 77h1M43 77h3M51 77h1M58 77h2M40 78h1M42 78h2M53 78h1M58 78h1M2 79h1M42 79h1M44 79h1M47 79h1M4 80h2M8 80h1M45 80h1M48 80h1M53 80h1M48 81h2M56 81h1M2 82h1M53 82h1M55 82h2M58 82h1M10 83h1M14 83h1M41 83h1M47 83h1M49 83h1M59 83h1M6 84h1M11 84h1M14 84h1M26 84h1M50 84h1M54 84h1M4 85h1M8 85h1M13 85h1M49 85h1M56 85h1M43 86h1M45 86h1M3 87h1M12 87h1M40 87h1M44 87h1M49 87h1M59 87h1M40 88h1M49 88h1M52 88h1M58 88h1M25 90h1M34 90h1M37 90h1M21 91h1M7 92h1M20 92h1M19 93h2M24 93h1M28 93h1M30 93h1M32 93h1M30 95h1M35 95h1M25 97h1M38 98h1M23 99h1M30 99h1M32 99h1M37 99h1M20 100h1M25 100h1M36 100h1M17 101h1M23 102h1M21 103h1M23 103h1M25 103h1M30 103h1M37 103h1M17 104h1M32 105h1M18 106h1M25 106h1M33 106h1M21 107h1M35 107h1M38 107h1M29 108h1M33 108h1M35 108h1M18 109h3M34 109h1M19 110h1M21 110h1M10 111h1M23 111h1M10 112h1M20 112h1M32 112h1M38 113h1M20 114h1M23 114h1M35 114h1M23 115h1M34 115h1M24 116h1M32 116h1M37 116h1M35 117h1M35 119h2M3 120h1M10 120h1M23 120h1M25 120h1M28 120h1M35 120h2M38 120h2M2 121h1M10 121h1M22 121h1M32 121h1M38 121h2M3 122h1M15 122h1M20 122h1M28 122h1M0 123h1M6 123h1M20 123h1M33 123h1M8 124h1M31 124h1M3 125h1M15 125h1M24 125h1M29 125h1M12 126h1M20 126h1M23 126h1M29 126h1M35 126h1M8 127h1M12 127h1M20 127h1M27 127h1M37 127h1M7 128h1M28 128h1M30 128h1M33 128h1M18 129h1M37 129h1M1 130h1M7 130h1M10 130h1M15 130h1M0 131h2M6 131h1M8 131h1M14 131h1M16 131h1M29 131h2M36 131h1M4 132h1M6 132h1M15 132h1M10 133h1M19 133h1M37 133h1M6 134h1M11 134h1M18 134h1M28 134h1M32 134h1M0 135h1M2 135h1M6 135h1M11 135h1M18 135h1M23 135h1M29 135h1M2 136h1M12 136h1M39 136h1M3 137h1M6 137h1M8 137h1M28 137h2M6 138h1M15 138h1M29 138h1M2 139h1M6 139h2M11 139h1M18 139h1M33 139h1M36 139h1M12 140h1M23 140h1M29 140h1M33 140h1M6 141h1M10 141h1M17 141h2M29 141h3M1 142h1M3 142h1M17 142h1M23 142h1M30 142h1M37 142h1M12 143h1M19 143h1M8 144h1M11 144h1M17 144h1M19 144h1M34 144h1M0 145h2M4 145h1M7 145h1M12 145h1M35 145h1M37 145h1M4 146h2M7 146h1M11 146h2M16 146h1M29 146h1M10 147h1M23 147h2M30 147h1M35 147h1M19 148h2M32 148h1M18 149h1M22 149h1M30 149h1M37 149h1M39 149h1M3 150h2M23 150h2M29 150h1M10 151h1M14 151h1M12 152h1M15 152h1M20 152h1M29 152h1M32 152h3M37 152h1M4 153h1M23 153h1M30 153h1M34 153h1M0 154h1M10 154h3M19 154h1M23 154h1M36 154h1M1 155h1M17 155h1M3 156h1M11 156h1M14 156h1M24 156h1M4 157h1M14 157h1M17 157h1M24 157h1M39 157h1M3 158h1M6 158h1M10 158h1M17 158h2M0 159h2M16 159h1M27 159h1M31 159h1M39 159h1M0 160h1M2 160h1M10 160h1M14 160h2M17 160h1M31 160h1M37 160h1M39 160h1M2 161h1M34 161h1M10 162h1M17 162h1M28 162h3M33 162h1M5 163h1M14 163h1M17 163h1M23 163h1M34 163h1M37 163h1M7 164h1M10 164h1M14 164h1M25 164h1M35 164h1M37 164h1M7 165h1M12 165h1M15 165h1M19 165h1M31 165h1M37 165h1M5 166h2M24 166h2M29 166h1M32 166h1M0 167h1M3 167h1M10 167h1M34 168h1M3 169h1M14 169h1M18 169h1"/>
<path stroke="#660303" d="M44 0h1M56 0h1M59 0h1M13 1h1M26 1h1M40 1h1M52 1h1M55 1h2M58 1h1M6 2h1M40 2h1M48 2h1M57 2h1M59 2h1M8 3h1M13 3h1M20 3h1M40 3h2M45 3h1M58 3h1M6 4h1M19 4h1M33 4h1M40 4h1M46 4h1M51 4h1M53 4h1M57 4h1M33 5h1M43 5h1M46 5h1M52 5h1M13 6h1M26 6h1M45 6h1M49 6h1M6 7h1M26 7h1M45 7h1M49 7h1M55 7h1M3 8h1M34 8h1M41 8h1M43 8h1M49 8h1M43 9h1M52 9h1M6 10h1M43 10h1M33 11h1M40 11h1M44 11h1M53 11h1M6 12h1M26 12h1M33 12h1M52 12h1M45 13h1M49 13h1M51 13h1M57 13h2M3 14h1M42 14h1M44 14h1M52 14h1M40 15h1M44 15h2M48 15h1M6 16h1M13 16h1M33 16h1M44 16h2M57 16h1M59 16h1M41 17h1M47 17h1M52 17h1M58 17h1M44 18h1M47 18h1M52 18h1M55 18h1M41 19h1M43 19h1M45 19h1M49 19h2M42 20h1M51 20h2M54 20h2M59 20h1M41 21h1M47 21h1M53 21h1M56 21h1M42 22h1M45 22h1M50 22h1M54 22h3M59 22h1M44 23h1M52 23h2M47 24h2M51 24h1M55 24h3M41 25h1M49 25h1M42 26h1M46 26h1M47 27h1M52 27h1M57 27h1M40 28h1M42 28h1M47 28h1M49 28h1M57 28h2M40 29h1M49 29h1M45 30h2M52 30h1M49 31h1M53 31h1M57 31h1M40 32h1M52 32h2M55 32h3M42 33h1M45 33h1M59 33h1M46 34h1M48 34h1M51 34h1M53 34h2M10 35h1M51 35h1M54 35h1M42 36h1M51 36h1M53 36h1M56 36h2M52 37h1M51 38h2M56 38h1M42 39h1M47 39h1M49 39h1M53 39h1M56 39h1M40 40h1M45 40h1M51 40h1M57 40h1M40 41h1M44 41h1M47 41h1M49 41h1M52 41h2M55 41h2M41 42h1M43 42h1M46 42h1M52 42h1M56 42h1M59 42h1M40 43h1M47 43h1M49 43h1M52 43h1M56 43h1M40 44h1M42 44h2M46 44h1M52 44h1M54 44h1M56 44h1M43 45h3M48 45h1M58 45h2M44 46h1M52 46h2M48 47h1M53 47h1M56 47h1M47 48h1M50 48h2M53 48h1M57 48h1M44 49h1M46 49h1M57 49h1M41 50h1M43 50h1M59 50h1M15 51h1M48 51h1M52 51h1M54 51h1M45 52h1M48 52h1M51 52h2M59 52h1M43 53h1M46 53h1M55 53h1M57 53h1M42 54h2M45 54h1M53 54h1M42 55h1M56 55h1M40 56h1M51 56h1M59 56h1M15 57h1M44 57h1M48 57h1M50 57h1M58 57h2M40 58h1M43 58h1M47 58h1M51 58h1M40 59h1M53 59h1M58 59h2M9 60h1M13 60h1M15 60h1M47 60h1M49 60h1M52 60h1M10 61h1M44 61h2M50 61h1M55 61h2M41 62h2M49 62h1M54 62h1M44 63h1M44 64h1M48 64h1M16 65h1M41 65h1M47 65h1M58 65h1M42 66h1M45 66h1M49 66h2M52 66h1M54 66h2M44 67h1M49 67h2M55 67h1M57 67h1M16 68h1M51 68h1M55 68h2M40 69h1M43 69h1M51 69h1M56 69h1M46 70h1M58 70h1M42 71h1M55 71h2M52 72h2M56 72h1M57 73h3M41 74h3M52 74h1M54 74h1M58 74h1M46 75h1M51 75h1M40 76h1M42 76h1M44 76h1M47 76h1M51 76h1M6 77h1M16 77h1M48 77h1M54 77h1M44 78h1M54 78h1M57 78h1M59 78h1M45 79h1M49 79h2M57 79h1M59 79h1M40 80h1M43 80h1M49 80h1M55 80h1M40 81h1M47 81h1M52 81h1M7 82h1M16 82h1M40 82h1M42 82h1M52 82h1M42 83h1M45 83h1M52 83h1M8 84h1M10 84h1M44 84h1M47 84h2M52 84h2M56 84h2M12 85h1M43 85h1M47 85h1M55 85h1M58 85h1M40 86h1M56 86h1M57 87h1M42 88h1M44 88h1M47 88h1M54 88h1M17 89h1M32 89h2M37 89h1M15 90h1M36 90h1M23 92h1M34 92h1M17 93h1M37 93h1M20 94h1M25 94h1M21 95h1M32 96h1M23 97h1M29 97h1M36 97h1M32 98h1M35 98h1M21 99h1M25 99h1M30 100h1M32 100h1M35 100h1M25 101h1M32 102h1M35 102h1M36 103h1M35 104h1M37 104h1M22 105h2M26 105h1M29 105h1M32 106h1M37 107h1M25 108h1M25 109h1M37 109h1M29 110h1M32 110h1M35 110h1M22 111h1M29 111h2M32 111h1M35 111h1M21 112h1M36 112h1M17 113h2M20 113h1M25 113h1M36 113h1M21 115h1M30 115h1M32 115h2M35 115h1M20 116h1M30 116h1M38 116h1M24 117h1M17 118h2M28 118h1M6 119h1M29 119h1M33 119h1M32 120h1M37 120h1M4 121h1M6 121h1M17 121h1M34 121h1M1 123h1M39 123h1M15 124h1M34 125h1M3 126h2M10 126h1M30 126h1M36 126h2M1 127h1M17 127h1M2 128h1M10 128h1M34 128h1M1 129h1M14 129h1M29 129h1M33 129h1M3 130h1M12 130h1M13 131h1M19 131h1M10 132h1M19 132h1M24 132h1M0 133h1M2 133h1M4 133h1M11 133h1M25 133h1M32 133h1M35 133h1M3 134h1M24 134h1M30 134h1M37 134h1M1 135h1M10 135h1M1 136h1M4 136h1M7 136h1M15 136h1M37 136h1M10 137h1M34 137h1M37 137h1M8 138h1M12 138h1M24 138h1M30 138h1M0 139h1M23 139h1M1 140h1M5 140h1M10 140h1M17 140h2M4 141h1M20 141h1M37 141h2M0 142h1M5 142h1M35 142h1M11 143h1M28 143h1M30 143h1M34 143h1M10 144h1M16 144h1M37 144h1M6 145h1M14 145h1M25 145h1M36 145h1M14 146h1M32 146h1M1 147h1M36 147h1M7 148h1M11 148h1M23 148h2M29 148h1M1 149h1M6 149h1M8 149h1M17 149h1M28 149h1M34 149h1M0 150h1M19 150h1M34 150h1M4 151h1M18 151h1M24 151h1M30 151h1M18 152h1M24 153h1M28 153h1M4 154h1M6 154h1M11 155h1M15 155h1M18 155h1M6 156h1M8 156h1M34 156h1M39 156h1M1 157h1M3 157h1M4 158h1M14 158h2M24 158h1M28 158h1M35 158h1M6 159h1M14 159h1M23 159h2M32 159h2M1 160h1M23 160h1M7 161h1M24 161h1M29 161h1M32 161h1M35 162h1M4 163h1M11 164h1M17 164h1M39 164h1M30 165h1M3 166h1M39 166h1M18 167h1M29 167h1M35 167h2M38 167h1M37 168h1M30 169h1M36 169h1"/>
<path stroke="#7E0404" d="M13 0h1M40 0h2M48 0h1M52 0h2M6 1h1M33 1h1M42 1h1M57 1h1M43 2h1M11 3h1M26 3h1M48 4h1M19 5h1M40 5h1M44 5h1M48 5h1M55 5h1M51 6h1M58 6h1M40 7h1M19 8h1M13 9h1M49 9h1M53 9h1M3 10h1M41 10h2M19 11h1M41 11h2M47 11h1M13 12h1M46 12h3M56 12h2M26 13h1M33 13h1M41 13h2M44 13h1M43 14h1M45 14h1M19 15h1M26 15h1M33 15h1M47 15h1M59 15h1M19 16h1M41 16h2M51 16h1M56 16h1M53 17h1M57 17h1M41 18h1M51 18h1M48 19h1M56 19h1M41 20h1M57 20h1M42 21h1M48 21h1M51 21h2M57 21h3M40 22h1M57 22h1M40 23h1M48 23h1M51 23h1M55 23h1M58 23h1M40 24h1M42 24h2M45 24h1M49 24h1M52 24h1M40 25h1M46 25h1M51 25h1M55 25h1M59 25h1M40 26h1M48 26h1M50 26h1M40 27h1M56 27h1M58 27h2M41 28h1M43 28h1M48 28h1M52 28h3M47 29h1M56 29h1M42 30h1M48 30h1M53 30h2M42 31h1M52 31h1M58 31h1M44 32h1M46 32h4M40 33h1M43 33h1M50 33h1M56 33h1M40 34h1M47 34h1M50 34h1M58 34h1M48 35h1M52 36h1M58 36h1M48 37h1M40 38h1M45 38h1M55 38h1M45 39h1M48 39h1M51 39h1M59 39h1M41 40h2M44 40h1M52 40h1M55 40h2M59 40h1M42 41h1M45 41h1M50 41h1M51 42h1M44 43h1M49 44h3M56 45h1M41 46h1M48 46h1M50 46h2M40 47h1M52 47h1M59 47h1M43 48h1M48 48h1M58 48h1M41 49h1M45 49h1M42 51h1M51 51h1M59 51h1M40 52h1M43 52h1M46 52h2M50 52h1M53 53h2M40 54h2M47 54h1M52 54h1M59 54h1M41 55h1M45 55h1M47 55h1M57 55h1M41 56h2M50 56h1M53 56h1M55 56h1M42 57h1M53 57h1M44 58h1M56 58h1M42 59h2M46 59h1M54 59h1M40 60h1M44 60h1M48 60h1M50 60h1M56 60h1M58 60h1M46 61h1M46 62h1M53 62h1M57 62h1M59 62h1M45 63h1M49 63h1M51 63h1M55 63h1M57 63h1M59 63h1M43 64h1M47 64h1M49 64h2M52 64h1M48 65h2M51 65h1M53 65h1M47 66h2M51 66h1M53 66h1M1 67h1M42 67h1M45 67h1M51 67h1M56 67h1M49 68h1M52 68h1M54 68h1M42 69h1M44 69h1M59 69h1M49 70h1M54 70h1M56 70h1M51 71h1M54 71h1M57 71h1M59 71h1M41 72h2M59 72h1M41 73h1M52 73h2M57 74h1M42 75h1M50 76h1M55 76h1M49 77h1M52 77h2M56 77h1M45 78h1M48 78h1M52 78h1M46 79h1M51 79h1M54 79h1M56 79h1M41 80h1M59 80h1M50 81h1M53 81h1M55 81h1M46 82h1M54 83h3M58 83h1M42 84h1M55 84h1M51 85h1M57 85h1M42 86h1M44 86h1M52 86h3M58 86h2M41 87h1M51 87h1M53 87h2M43 88h1M50 88h1M21 89h1M23 89h1M25 89h1M17 90h1M23 90h1M29 90h1M33 90h1M35 90h1M33 91h1M25 92h1M38 92h1M23 93h1M38 93h1M33 94h1M20 95h1M32 95h1M20 96h1M25 96h1M29 96h1M38 96h1M20 97h1M17 98h1M20 98h1M25 98h1M33 98h1M36 98h2M20 99h1M29 100h1M38 100h1M30 101h1M35 101h2M17 102h1M38 102h1M29 103h1M32 103h2M35 103h1M38 103h1M30 104h1M33 105h1M36 105h1M23 106h1M35 106h1M23 107h1M23 108h1M32 109h2M20 110h1M38 110h1M20 111h2M36 111h1M25 112h1M35 112h1M33 113h1M29 114h2M32 114h1M36 114h1M38 114h1M17 115h1M29 115h1M36 115h2M23 116h1M35 116h2M23 118h1M25 118h1M29 118h1M34 118h1M21 119h1M32 119h1M7 120h1M17 120h1M24 120h1M7 121h1M15 121h1M19 121h1M10 122h1M30 124h1M34 124h1M1 125h1M10 125h1M30 125h1M6 126h1M32 126h1M39 128h1M14 130h1M29 130h1M23 131h1M34 131h1M14 132h1M37 132h1M8 133h1M14 133h2M23 133h1M30 133h1M33 133h1M10 134h1M23 134h1M35 134h1M19 135h1M35 136h1M3 138h1M35 138h1M8 139h1M34 139h1M6 140h1M7 141h1M12 141h1M24 141h1M15 142h1M29 142h1M33 144h1M10 145h1M15 145h1M17 145h1M24 145h1M30 145h1M34 145h1M15 146h1M18 146h1M27 146h1M37 146h1M8 147h1M18 147h1M28 147h1M14 148h1M30 148h1M33 148h2M10 150h1M30 152h1M33 153h1M35 154h1M2 155h1M30 155h1M1 156h1M10 156h1M23 156h1M29 156h2M5 157h1M18 157h1M8 158h1M29 158h1M34 158h1M38 158h1M4 159h1M12 159h1M34 159h2M29 160h1M17 161h1M19 163h1M3 164h2M8 164h1M23 165h1M29 165h1M15 166h1M34 166h1M15 168h1M23 169h1"/>
<path stroke="#970505" d="M6 0h1M42 0h1M51 0h1M48 1h1M19 2h1M52 2h1M3 3h1M43 3h2M46 3h3M13 4h1M42 4h1M45 4h1M47 4h1M52 4h1M47 5h1M53 5h1M52 6h1M59 6h1M33 7h1M42 7h1M48 7h1M51 7h1M33 8h1M44 8h1M57 8h1M59 8h1M46 9h1M48 9h1M56 9h2M59 9h1M57 10h1M51 11h1M57 11h1M59 12h1M47 13h1M55 13h1M53 14h1M58 14h1M41 15h1M46 15h1M59 17h1M42 18h1M56 18h1M40 20h1M50 20h1M45 21h1M43 22h1M53 22h1M42 23h1M47 23h1M56 23h1M44 26h1M57 26h1M48 27h1M41 29h1M48 29h1M50 29h1M54 29h1M57 29h1M59 29h1M50 30h1M49 34h1M57 34h1M42 35h1M49 35h1M57 35h1M54 36h1M51 37h1M53 37h2M57 37h1M40 39h1M52 39h1M54 39h1M47 40h2M50 40h1M58 41h1M48 42h1M54 42h1M57 42h1M51 43h1M57 43h1M53 44h1M42 45h1M49 45h1M57 45h1M54 46h1M57 47h1M56 48h1M42 49h1M54 49h1M44 50h1M51 50h1M41 51h1M50 51h1M58 51h1M49 52h1M53 52h3M57 54h2M48 56h1M58 56h1M54 57h1M56 57h1M48 58h1M53 58h1M57 58h1M50 59h2M42 60h1M53 60h1M40 61h1M43 61h1M48 61h1M54 61h1M58 61h2M52 62h1M56 62h1M47 63h1M41 64h1M54 64h1M45 65h1M50 65h1M54 65h1M43 66h1M43 67h1M52 67h1M40 68h1M42 68h1M57 68h1M50 69h1M41 70h1M55 70h1M57 70h1M45 71h1M49 71h1M47 72h1M51 72h1M42 73h1M40 74h1M50 74h2M53 74h1M59 74h1M44 75h1M54 75h1M59 75h1M46 76h1M48 76h1M52 76h2M50 77h1M46 78h1M51 78h1M53 79h1M44 80h1M52 80h1M56 80h1M44 81h1M51 81h1M59 81h1M41 82h1M45 82h1M47 82h1M49 82h1M40 83h1M53 83h1M13 84h1M49 84h1M51 84h1M58 84h2M3 85h1M48 85h1M53 85h1M47 86h1M51 86h1M48 87h1M52 87h1M48 88h1M30 89h1M35 89h1M21 90h1M38 90h1M30 91h1M35 91h1M37 92h1M21 93h1M36 93h1M17 94h1M32 94h1M29 95h1M33 95h1M33 96h1M32 97h1M37 97h1M21 98h1M35 99h1M17 100h1M21 100h1M37 100h1M20 101h1M32 101h1M38 101h1M29 102h1M36 102h1M21 104h1M33 104h1M20 105h1M17 106h1M21 106h1M38 106h1M20 107h1M25 107h1M32 107h1M36 107h1M17 108h1M20 108h1M37 108h1M35 109h1M25 110h1M30 110h1M17 111h1M23 112h1M33 112h1M21 113h1M33 114h1M20 115h1M17 116h1M21 116h1M21 117h1M32 117h1M36 117h1M38 117h1M20 118h1M33 118h1M36 118h1M23 119h1M14 126h1M38 127h1M1 128h1M15 129h1M24 129h1M30 130h1M12 131h1M29 133h1M34 133h1M1 134h1M8 134h1M14 134h2M29 134h1M30 136h1M15 137h1M30 137h1M30 139h1M7 140h1M30 140h1M1 141h1M3 141h1M20 142h1M15 143h1M15 144h1M30 144h1M23 145h1M29 145h1M15 147h1M12 151h1M28 155h2M29 159h1M27 162h1M1 164h1M38 164h1M35 165h1M28 166h1M28 167h1M15 169h1"/>
<path stroke="#B00606" d="M49 1h1M51 1h1M19 3h1M51 3h1M57 3h1M59 3h1M3 5h1M41 5h1M6 6h1M42 6h1M46 7h1M58 7h1M48 8h1M51 8h1M53 8h1M56 10h1M48 11h1M52 11h1M42 12h2M40 14h1M51 14h1M56 14h2M57 15h1M40 18h1M53 20h1M50 23h1M57 25h1M54 26h1M56 28h1M59 28h1M55 29h1M40 30h1M47 30h1M57 30h1M54 32h1M48 33h1M51 33h2M46 35h1M52 35h1M44 36h1M40 37h2M56 37h1M54 38h1M41 41h1M42 43h1M59 44h1M53 45h1M42 48h1M49 48h1M48 50h1M40 51h1M50 53h2M44 54h1M46 54h1M48 54h1M56 54h1M52 56h1M52 58h1M41 60h1M41 61h1M47 62h1M57 65h1M40 67h2M45 69h1M40 70h1M47 70h1M50 70h1M53 70h1M40 71h1M50 71h1M52 71h1M57 72h1M46 73h1M50 73h1M40 75h1M57 76h1M47 78h1M48 79h1M52 79h1M42 80h1M47 80h1M51 80h1M57 80h2M41 81h1M54 81h1M43 82h1M50 82h2M54 82h1M40 84h2M42 85h1M50 85h1M42 87h1M36 89h1M32 90h1M17 91h1M33 92h1M35 92h2M36 94h1M21 96h1M30 96h1M21 97h1M30 98h1M29 101h1M37 101h1M30 102h1M37 102h1M29 104h1M32 104h1M25 105h1M35 105h1M17 107h1M33 107h1M21 108h1M21 109h1M23 109h1M30 109h1M17 110h1M33 111h1M29 112h2M29 113h1M32 113h1M37 113h1M17 117h1M20 117h1M35 118h1M37 118h1M17 119h1M30 119h1M38 119h1M29 121h1M24 122h1M34 122h1M38 122h1M34 123h1M10 131h1M34 134h1M34 140h1M36 140h1M14 141h1M15 151h1M30 154h1M28 159h1M10 163h1"/>
<path stroke="#C90707" d="M6 3h1M52 7h1M57 7h1M6 8h1M45 11h1M19 12h1M45 12h1M49 12h1M46 17h1M50 21h1M54 23h1M42 25h1M48 25h1M56 25h1M51 27h1M55 28h1M51 29h1M42 34h1M59 34h1M45 35h1M51 41h1M59 41h1M50 42h1M40 45h1M54 45h1M57 50h1M48 53h1M50 54h1M57 56h1M55 57h1M57 57h1M50 58h1M57 60h1M59 60h1M52 61h2M57 61h1M40 66h1M52 70h1M50 72h1M50 75h1M56 75h1M48 83h1M45 84h1M52 85h1M50 87h1M56 87h1M20 89h1M30 90h1M29 91h1M29 92h1M32 92h1M29 93h1M33 93h1M35 93h1M21 94h1M38 94h1M23 95h1M37 95h1M17 96h1M35 96h1M37 96h1M17 97h1M30 97h1M33 97h1M23 98h1M17 99h1M33 99h1M38 99h1M33 100h1M20 102h2M21 105h1M30 105h1M30 108h1M36 108h1M17 109h1M29 109h1M33 110h1M37 110h1M38 111h1M17 112h1M35 113h1M21 114h1M37 114h1M29 116h1M23 117h1M29 117h1M21 118h1M15 131h1M15 164h1"/>
<path stroke="#E40808" d="M33 3h1M52 3h2M42 8h1M53 10h1M47 14h1M52 25h1M54 31h1M46 33h1M41 35h1M42 38h1M50 39h1M45 43h1M52 45h1M51 49h1M52 65h1M55 65h1M46 71h1M40 77h1M57 77h1M41 85h1M44 85h1M59 85h1M41 86h1M50 86h1M17 92h1M21 92h1M23 94h1M29 94h2M35 94h1M37 94h1M23 96h1M35 97h1M29 99h1M23 100h1M23 101h1M37 105h2M20 106h1M29 106h2M36 106h1M30 107h1M38 109h1M23 110h1M36 110h1M30 113h1M30 117h1M30 118h1M32 118h1M37 119h1M29 120h1M39 139h1"/>
</g>
<rect x="790.9" y="11.7" width="176.6" height="6.6" fill="#76D8DE"/>
<rect x="967.5" y="11.7" width="88.3" height="6.6" fill="#E89288"/>
<text x="1057.9" y="16.8" font-size="7.2" fill="#333">group</text>
<defs><linearGradient id="bcb" x1="0" y1="0" x2="0" y2="1"><stop offset="0" stop-color="#E40808"/><stop offset="0.5" stop-color="#000"/><stop offset="1" stop-color="#7DF528"/></linearGradient></defs>
<rect x="1059.5" y="21" width="7.1" height="106.4" fill="url(#bcb)"/>
<text x="1069.3" y="24.2" font-size="7.2" fill="#333">2</text>
<text x="1069.3" y="76.6" font-size="7.2" fill="#333">0</text>
<text x="1068.6" y="130.2" font-size="7.2" fill="#333">−2</text>
<text x="1077.9" y="23.6" font-size="7.2" fill="#333">group</text>
<rect x="1080" y="28.5" width="9.9" height="10.2" fill="#76D8DE"/>
<rect x="1080" y="38.7" width="9.9" height="10.1" fill="#E89288"/>
<text x="1092.2" y="35.9" font-size="7.2" fill="#333">DN</text>
<text x="1092.2" y="46.4" font-size="7.2" fill="#333">NC</text>
<path d="M790.9 21.1L763.6 21.1L759.8 23.1L762.4 25.1L760.5 27.1L762 29.2L760.8 31.2L760.1 33.2L762.4 35.2L760.2 37.2L759.8 39.2L760.2 41.3L760.3 43.3L759.7 45.3L760.2 47.3L759.6 49.3L763.3 51.3L760.2 53.4L760.5 55.4L762.2 57.4L762.4 59.4L759.6 61.4L760.4 63.4L762.8 65.5L762.3 67.5L763 69.5L759.9 71.5L760 73.5L763.1 75.5L762.4 77.6L760.6 79.6L760.1 81.6L760.4 83.6L761.6 85.6L760.2 87.6L760.3 89.7L761 91.7L759.8 93.7L761.6 95.7L763.2 97.7L762.6 99.7L763 101.8L761.1 103.8L764.1 105.8L764.5 107.8L761.4 109.8L761.6 111.8L761.8 113.9L762.2 115.9L761.5 117.9L764.2 119.9L764.8 121.9L761.3 123.9L764.9 126L764.8 128L762.2 130L762.4 132L764.6 134L762.8 136L764.5 138.1L764.7 140.1L761.6 142.1L765.4 144.1L761.7 146.1L761.6 148.1L763.4 150.2L762.1 152.2L762.6 154.2L764 156.2L762.6 158.2L762.1 160.2L761.9 162.3L764 164.3L762.3 166.3L762.6 168.3L761.5 170.3L761.8 172.3L761.8 174.4L764.9 176.4L763.9 178.4L764.4 180.4L765.5 182.4L764.1 184.4L764.3 186.5L764.4 188.5L764.1 190.5L765.6 192.5L764.9 194.5L762.4 196.5L765.6 198.6L765.3 200.6L763.4 202.6L764.6 204.6L765.6 206.6L765.7 208.6L763 210.7L762.6 212.7L764.3 214.7L764.1 216.7L763.8 218.7L764.7 220.7L764.3 222.8L764.3 224.8L764.8 226.8L766.2 228.8L763.4 230.8L763.4 232.8L763.5 234.9L763.8 236.9L763.6 238.9L763.8 240.9L763.8 242.9L764.7 244.9L764 247L765.1 249L763.2 251L763.1 253L763 255L763.6 257L767.3 259.1L763.7 261.1L765.2 263.1L764.1 265.1L765.6 267.1L763.6 269.1L764.2 271.2L763.4 273.2L765 275.2L763.2 277.2L763.7 279.2L763 281.2L765.5 283.3L765.5 285.3L766 287.3L765.3 289.3L762.9 291.3L764.9 293.3L762.8 295.4L763 297.4L762.5 299.4L762.6 301.4L762.5 303.4L762.5 305.4L764.1 307.5L764.2 309.5L765 311.5L763 313.5L762.9 315.5L765.1 317.5L765.6 319.6L762.3 321.6L764.3 323.6L764.5 325.6L762.5 327.6L763.4 329.6L763.5 331.7L764.9 333.7L764.2 335.7L764 337.7L762.9 339.7L761.5 341.7L761.1 343.8L761.8 345.8L761.1 347.8L761.2 349.8L761.1 351.8L761 353.8L761.5 355.9L763.6 357.9L762.1 359.9L763.4 361.9L790.9 361.9Z" fill="#000"/>
<path d="M757 22V98M753.6 90V268M756.6 268V362M759.3 98V190M757 190V250M759.3 250V330M760 300V355M753.6 90H757M753.6 268H756.6M757 98H760M757 190H760M757 250H760M759.3 330H761M756.6 300H760" stroke="#333" stroke-width="0.9" fill="none"/>
<path d="M766.6 259.6h1M767.2 190.1h3.6M768.8 267.5h0.8M763.6 185.8h2.4M761.5 94.3h3.7M766.3 33.8h5.2M761.9 180.4h4.2M762.5 136.8h7.4M768.6 327.9h1.4M766.1 299.8h5.5M762 94.1h3.8M767.6 33.4h3.2M764.7 109.1h2.9M765.7 227.2h2.2M764 208.5h4.3M762.2 91.9h6.8M762.8 285.5h2.9M766.5 62.3h4.4M763.3 185.3h1.9M764.9 132.8h5.9M764.9 349.1h3.7M760.4 179.4h4.4M761.8 181.1h4.2M760.2 131.6h9.8M765.2 202.5h3.6M765.5 329.8h2.9M761.8 116.4h5.9M767.5 327.8h1M766 348.6h2.2M765.8 151.6h4.4M762 87h6.4M763.4 99.9h3.7M764.6 298.7h4M765.3 128.8h4.5M764.6 172.3h3.4M768.7 95.6h3M765.3 305.7h2.4M768.6 28.2h3.8M765.4 99.1h1.9M764.4 168.9h4.2M760.9 131.3h8M766.2 350.4h3.2M766.8 102.3h3M760.8 229h5.2M766.4 261h1.4M764.7 98.9h5.1M768.9 221.9h2.1M762 355.3h6.4M761.8 80.2h8.1M760.5 318.1h3.2M760.8 84h8.9M762.9 229.9h5.3M766.8 350.8h4.1M765.7 38.3h2.7M766.5 58.6h2M763.6 120h2M760.2 337.6h7.3M766.2 261.5h4M763 193.5h7.1M762 195.8h4.7M761.1 178.2h6.1M766.4 339.1h4M766.5 61.2h4.7M764.6 244.1h4.8M761.2 96.9h2.2M767.7 46.6h4M763.1 171.3h3.2M765.8 83.8h2.7M762.8 46.5h6.2M766.9 115.2h2M764.3 203.4h2.9M767.9 312.6h2.8M763.8 68.3h1.1M763.1 207.7h7.3M760.3 134.9h8M764.7 328.1h4.9M765.4 337.3h2.2M767.9 230.6h0.9M766.3 209.9h1.2M761.1 218h2M767.5 307.8h0.9M760.2 181.9h5.3M763.1 95.9h4.1M763.5 310.7h6.6M762.7 146.9h5.4M761.2 25.7h2.1M765.6 234.8h1.9M763.8 150.6h2.5M767 166.4h1.7M768.6 218.1h3.3M764.4 132.9h1.7M764 304.9h7.1M762.4 334.3h6.9M763 232.5h2.8M760.1 22.1h7.1M763.3 171.4h2.5M762.1 308.3h5.3M763 91.7h6.3M761.9 317.5h2.7M767.5 247.5h1.2M760.4 258.9h2.6M760.6 351.2h4.8M765.4 128.8h3.8M765.2 236.2h2.2M761.3 165.9h2.3M768.8 50h2.9M764.4 81.8h1M762.6 247.6h7.2M768.2 245.2h3.7M761 207.6h4.9M760.8 63.6h7.3M768.9 353.3h3.2M767.9 246.9h3.7M766.4 299.7h3.4M761.7 157.6h6M768.8 179.2h3.4M761.4 353.6h7.4M760.9 44.4h2.7M766.3 255.5h2.9M761.2 117.6h2M761.5 153h3M766.9 92.5h1M761.7 59.5h5M767.5 92.6h2.2M762.7 270.2h2.1M761.3 109.5h7M760.7 356.4h4.1M761 116.7h3.3M768 313.7h2.4M768.8 197.2h2.6M766.3 154.6h2.8M768.8 208.6h1.5M768.3 220h3M763.7 351.3h2.1M766 98.2h3.2M762.7 342.7h4.8M760.8 166.6h6.9M766.3 279.2h3.7M764.6 280.4h4.1M760.1 71h7.1M760.7 126.1h4.2M768.1 242.6h3.4M762.6 296.3h2.7M768.6 26.1h3.8M763.1 142.7h5.6M760.2 312.9h6.1M764 312.3h6.4M763.8 205.2h4.9M764.6 312.4h3.3M766.2 87.9h2.7M762 128.6h2.9M766.6 140.2h4.4M767.1 77.2h3.6M762.8 126.5h7.7M767.9 205.3h2.5M763.7 38.5h3.8M767.8 178.9h2.4M767.9 84.9h1.2M762.8 65.5h1.8M762.7 168.2h7.3M764.1 240.6h6.3M767.9 189.3h2.9M766.6 195.1h3.1M762.8 62.3h2.4M768.6 123.4h1.5M764.8 86h2.9M767.1 350.8h4.6M762.1 110.8h4M761.6 255.1h6.8M764.7 194.8h5.3M766.8 114.2h1.2M768 337.8h3.6M764.8 111.5h6.3M768.8 248.4h0.9M760.1 64.8h6.8M762.3 303.5h7.2M765 161.2h2M764.8 31.1h2.7M767.3 356.5h4.7M767 105.5h4.9M763.1 93.5h5.1M760.5 303.2h4.9M763.7 78.9h1.6M761.8 330.2h8.4M768.6 275.5h1.2M764.4 98h2.5M760.6 262.7h2.6M762.2 336.5h7.5M766.9 300.2h4.8M760.2 211.7h4M762.7 155h4.6M764.4 313.8h6.2M760.2 30.1h5.2M762.1 196.1h3.6M768.1 331.9h1.2M765.2 348.5h4M761 52.4h2.1M763.8 123.4h3.9M767.6 358.9h1M766.9 168.1h3.7M764.4 95.3h2.7M768.3 200.1h1.7M762.5 51.2h4.3M766.4 330.6h1.2M766.1 350.7h3.5M761.6 206.9h5.9M768.6 54.1h0.9M762 180.2h6.9M765 294.6h2.3M767.6 328.3h0.8M765.5 49.2h5.2M762.3 244.1h4.4M760.7 276.7h3.4M768.1 150.8h1.5M761.8 212.4h2.9M765.2 78.5h5.8M763 344.4h7.4M766.1 133h2M760.9 100.1h4.2M768.7 120.4h3.6M763.7 142.5h6.2M762.4 93.8h2.4M761.5 351h2.3M768.2 43.5h4M764.6 354.8h6.2M764.4 73.5h1.4M760.5 88.1h3.5M768.7 78h3.1M763.9 82.8h2.8M762.4 60.1h4.1M766.6 295h2.7M768.9 32.9h2.8M766.7 296.8h3.1M767 268.7h3.8M767.1 306.9h0.8M760.5 229.2h4.1M766 317.8h1.8M764.5 241h4.4M761.5 130.2h2.2M768.9 49.7h1.7M765.8 151.3h1.8M762.6 227.6h3.7M765.6 285.9h1.8M768.7 35.5h1.5M760.4 305.5h7M763.7 237.6h6.7M768 194.5h1.6M769 77h2.8M763.4 34.5h7.4M763.2 65h5.7M767.2 303.1h3.7M761.6 330h3.1M762.9 48h2.6M763.3 281.1h1.2M766.8 348.6h1.6M767.2 25.1h1M768.3 32.4h3.1M760.7 191h5.3M764.6 119.4h1M765.9 228.6h3.8M765.8 229.9v4.3M763.4 307.8v4.9M761 243v2.8M767.3 225.1v2.1M762.1 152.1v1.9M763.7 293.3v4.1M769 336v4.8M766.9 32.4v4.7M766.6 286v2.6M763.2 158.3v4M761.3 30.1v3M764 111.5v3.6M764.9 113.6v3M768.8 48.9v4.3M763.9 57.8v4M761.5 237.9v1.4M761.1 200.2v3.5M768.1 298.8v4.1M762.7 38.3v2.5M767.2 338.3v3.1M765.7 81.2v2.3M768.7 143.7v2.3M764 176.4v1.8M763.1 32.2v1.8M762.5 94.2v3.7M764 155.8v1.1M768.8 30.9v4.6M764.8 314.9v4.3M762.2 239.4v3.3M763.2 212.6v3.4M762.3 221.2v1.5M767.1 236.7v3.6M766.1 214.7v3.1M761.9 152.3v3.1M766.7 355.2v1.5M762.5 236.4v3.5M768.5 344v2.9M763.6 44.1v2.5M763.6 175.8v4.5M768.8 231.7v2.9M766.7 113.1v3.1M762.3 288.3v2.9M761.8 348v1.8M765.8 103v3.9M763.5 205.1v4.7M763.5 55.4v2.2M762.2 110.3v4.9M765.9 343.6v4.6M768 118.8v4M766.6 287.7v1M764.1 268.2v3.5M768.2 102.7v4.7M768.4 265v3.5M768.3 159.3v4.5M765.5 83.2v1.2M762 24.7v4.4M761.5 83.3v4.7M764.9 53.8v2.7M761.9 196.8v2.9M764 61.8v3.8M761 71.5v3.6M762.2 309.4v1.3M761.8 81.5v3.1M765.5 354.9v1.4M767.3 97v3.1M767.3 189.3v2.5M762.1 75.9v3M766.1 354.4v4.1M766.6 256.7v1.2M766.7 161.5v1.1M765.7 23.8v1.7M761 210.2v1.2M765.8 27.9v3.5M768.2 206.2v2.1M767.6 120.6v3.3M763.9 133.2v2.2M763.6 192.6v2.5M765.5 236.1v3M765.5 30.2v2.6M767.3 109.2v3.8M761.7 329.2v2.5M762.4 273.3v1.8M761.3 126.8v3.7M762.2 286.5v1.4M768.3 239.6v4.9M765.4 212.2v5M764.1 43.6v3.8M766.6 313.9v3M768.3 182.2v4M768.4 90.7v4.3" stroke="#fff" stroke-width="0.55" stroke-opacity="0.85"/>
<path d="M295.1 329L297 334.3L306.6 341L314.3 343L337.3 348.7L358.4 351L371.9 348.7L391 343L410.2 337.2L419.8 330.5L421 329Z" fill="#9A9A9A" stroke="#9A9A9A" stroke-width="6.6" stroke-linejoin="round"/>
<path d="M300 331h0M306 337h0M312 341h0M322 344h0M333 347h0M346 349h0M371 349h0M386 345h0M400 341h0M412 336h0M418 331h0M296 329h0M426 329h0M424.6 338.9h0M441.3 332.6h0M458.8 332.6h0M467.4 332.6h0M424.6 333.3h0M298 333.3h0M303.5 331.5h0M309.1 338.9h0M300 336h0M430 331h0M436 335h0" stroke="#9A9A9A" stroke-width="6.6" stroke-linecap="round"/>
<path d="M276 328L273 318L279 306L276 296L282 286L280 274L286 264L284 252L290 242L289 230L294 220L293 210L299 201L303 191L309 183L313 176L323 176L329 186L338 202L344 219L348 242L352 264L355 287L358 309L359.5 328Z" fill="#63ADBA" stroke="#63ADBA" stroke-width="6.6" stroke-linejoin="round"/>
<path d="M248.3 277.3h0M315.4 172.9h0M349.8 249.7h0M257.2 221.3h0M283.5 209h0M270.6 320.7h0M275.7 275.5h0M304.9 180.3h0M269.8 275.3h0M253.8 279.2h0M261.8 282.4h0M346.5 232.9h0M273.5 219.2h0M271.5 287.4h0M254.3 270.5h0M347.9 209.9h0M271.4 211.3h0M278.4 240.7h0M259.5 193.7h0M300.2 167h0M303.4 186.2h0M277.1 185.3h0M302.6 177.5h0M346.7 224.6h0M297.6 194.4h0M345.1 208.8h0M280.6 270.5h0M213.3 259.6h0M291.4 175.2h0M330.5 167.1h0M298.7 178h0M272.3 315.2h0M288.9 213.9h0M344.1 214.4h0M354.7 258.3h0M220.7 244.7h0M264.9 266.3h0M272 251.5h0M334.8 184.9h0M277.1 287.5h0M251.6 324.5h0M253.1 252.7h0M256.2 261.1h0M336.4 193h0M206.3 316.8h0M256.1 298.1h0M224.9 293.9h0M239.4 318h0M352.1 225.2h0M267.6 203.1h0M256 273.1h0M280.8 245.1h0M328.5 177.7h0M337 194.5h0M281.6 181.8h0M331.3 160h0M276.8 233.7h0M246.9 245.2h0M225.6 266.9h0M275.8 308.1h0M303.6 185.9h0M261.4 171.1h0M348.9 219.3h0M259 296.8h0M320.4 167.8h0M266.4 264.1h0M262.3 321.3h0M349.4 207.4h0M303 167.7h0M358.1 303.2h0M281.5 254.2h0M272 276.9h0M261.9 234.1h0M239.1 286.6h0M293 171.7h0M258.1 252.6h0M344 189.9h0M356.1 294.4h0M329.8 186.8h0M282.4 203.2h0M284.1 225.3h0M348 212.3h0M270.6 248.4h0M345.6 226.6h0M231.5 312.5h0M239.9 203.2h0M229.4 255.6h0M328.8 162.2h0M301.5 173.1h0M274.3 190.1h0M337.7 193.2h0M281 270.4h0M264.9 275.6h0M291 198.4h0M258.8 308.1h0M259.5 227h0M283.9 224h0M272.9 303.6h0M281.3 283.9h0M283.6 174.1h0M283.7 226.7h0M288.9 243.4h0M288.4 178.5h0M289.2 226.2h0M295 193.9h0M247 211.8h0M264.8 185.7h0M300.5 188.3h0M290.7 225.4h0M237 323.4h0M242.8 312.1h0M350.4 244.3h0M252.6 321.8h0M287.1 171.7h0M354.6 235.3h0M356.7 270.8h0M278.9 286.8h0M236.8 194.2h0M260.1 198.7h0M326.6 172.3h0M272.2 324.9h0M280.8 270.8h0M299.6 164.1h0M347 221.3h0M273.9 222.5h0M333 152.7h0M223.3 233.7h0M263.9 193.1h0M261.7 225h0M227 301.9h0M328 146.7h0M258.6 302.8h0M334.7 193.6h0M203.2 310.8h0M276.7 300.8h0M286.9 187h0M286.1 229.6h0M278 193.6h0M327 179.3h0M249.8 280.7h0M289.4 226.7h0M252.7 212.4h0M258.6 259.4h0M268.2 251.7h0M278.4 286.8h0M315.3 162.6h0M328 181.9h0M357.6 303.9h0M254.7 181.1h0M252.4 286.9h0M279.2 257.8h0M228.1 212.7h0M290.1 224.4h0M244.7 314.3h0M279.5 226.2h0M279.2 250.1h0M265.7 313.2h0M345.5 200.7h0M277.4 264.4h0M287.9 219.5h0M220.8 318.3h0M273.6 300.9h0M352.7 266h0M298.7 190.4h0M356.9 299.1h0M303.1 171h0M335.8 187.5h0M268.2 323.4h0M277.5 274.3h0M348.2 232.2h0M222.9 268.6h0M267.1 258.5h0M353.8 231h0M301.6 164.3h0M257.4 253.4h0M281.5 284.4h0M251.7 250.8h0M269.6 311.6h0M326.5 151.4h0M263.3 218.5h0M230.7 306.8h0M270.2 326.4h0M282.7 264.2h0M284.5 248.5h0M326.7 172.3h0M351.1 223.9h0M285.5 204.3h0M276.3 301.8h0M263.9 295.9h0M287.3 181.2h0M293.7 162.7h0M307.7 179.1h0M347.7 210.7h0M270 239h0M286.9 178.5h0M282.3 204.1h0M255.3 199.1h0M268.3 256.5h0M261.5 195.9h0M264 295.9h0M254.4 253.4h0M224.7 235.2h0M238.7 280.2h0M266.9 221.1h0M275.6 248h0M341.5 181.8h0M274.1 314.7h0M321 166.3h0M308.2 162.7h0M277.6 252.4h0M297.5 198.5h0M295 189.8h0M347.7 216h0M256.5 180.1h0M240 316.4h0M250.9 235.2h0M267.2 310.8h0M327.2 177.4h0M346.5 228.9h0M261.7 309.9h0M267.7 228.5h0M291.9 207.6h0M257.5 237h0M329 180.5h0M300.5 186.4h0M327.1 175h0M265.5 212.2h0M347.5 206.5h0M262 324.3h0M346 222.8h0M273.3 217.3h0M318.1 159.5h0M299 164h0M271.1 321.8h0M322.9 147.1h0M244.6 209.4h0M284.7 209.4h0M356 266.2h0M296.3 203.9h0M346.3 213.3h0M252.3 291.8h0M344.8 218.8h0M320.8 155.6h0M353.5 266.9h0M267.9 239.9h0M281.1 175.4h0M358.2 296.7h0M325.2 174.7h0M319.7 170.8h0M283.2 253.9h0M239.8 228h0M269.5 255.7h0M291.4 219.6h0M348.9 220.3h0M274.3 229.7h0M266.9 320.6h0M292.3 202.5h0M357.8 280.3h0M245.4 325.2h0M260.4 295h0M260.1 311.7h0M277.2 274.5h0M351.9 249.1h0M244.7 210.1h0M256.3 307.2h0M237 206.7h0M278.9 169h0M355.4 286.1h0M273.1 298.1h0M276.8 288.6h0M277.3 247.1h0M269.9 219.5h0M261.1 205.1h0M348.4 219h0M353.2 266.4h0M337.1 183.8h0M267.7 251.9h0M283.5 180.3h0M251.8 189.5h0M275.5 263.8h0M288 233.9h0M245.8 252h0M304.1 173.7h0M293.4 207.9h0M252.9 227.1h0M285.3 198h0M280.5 254.5h0M291.3 182.8h0M284.8 234h0M278 288.8h0M323.8 170.8h0M267 187.1h0M266.2 267.7h0M338.8 174.3h0M298.9 200.3h0M300.6 193.3h0M272.7 298h0M231.6 215.8h0M239.9 239h0M349.1 208.7h0M277.1 248.8h0M284.5 229.4h0M329.6 163h0M355.1 281h0M244.3 242.1h0M326 178.9h0M350.6 253.4h0M277.9 237.6h0M284.6 238.2h0M227.8 228.4h0M317 153.7h0M336.5 171.2h0M349.9 245.7h0M300.6 180.2h0M244.5 256.1h0M289.7 217.1h0M306.9 160.6h0M308.2 169.1h0M270.6 320.8h0M287.3 223.8h0M353.7 262h0M284.1 250.2h0M259.6 301.4h0M258.9 173h0M240.6 291.7h0M345.8 213.7h0M272.8 173.2h0M278.1 225.3h0M333.1 172.7h0M321.7 167.6h0M327.8 175.4h0M348.3 243.2h0M287.5 210.4h0M265.1 227.5h0M288.7 202.9h0M287.4 215h0M347 196.9h0M329.2 186.1h0M329.9 161.3h0M276.2 190.7h0M310.6 165.5h0M226.4 326.4h0M263.1 292h0M271.5 291.2h0M273.7 194.3h0M328.1 159.9h0M351.6 222.7h0M244.8 220.2h0M288.6 194.4h0M347.3 233.6h0M322.4 166.9h0M271.7 296.7h0M279.5 245.9h0M277.4 305.9h0M304.2 165.9h0M352.9 248.6h0M281.7 185.5h0M282.7 267.3h0M309.4 165.3h0M288.9 199.1h0M227.1 302.9h0M354.6 283h0M278.9 212.5h0M277 210.8h0M342 210.1h0M354 225.7h0M275 307.1h0M296.2 179.7h0M286 230.1h0M222 262.6h0M276.7 270.9h0M321 169.3h0M270.3 323.9h0M330.8 158.7h0M292.5 206.9h0M265.7 232.5h0M274 286.9h0M312 171.4h0M354.4 278.1h0M218.3 307.8h0M258.3 327h0M280.1 241.8h0M246 214h0M262.9 297.1h0M330.2 163.3h0M272.5 289.1h0M353.5 254.7h0M228.9 289h0M281.7 241.3h0M255.6 203.8h0M337.5 173.2h0M354.4 257.6h0M247.7 230h0M261.6 215h0M335.5 174.3h0M280.4 263.1h0M256.8 294.9h0M316.1 172.4h0M225.9 319.4h0M330.8 180.9h0M282.7 256h0M266.1 268.6h0M278.4 170.4h0M321.8 165.1h0M264.2 305.6h0M270.3 298.4h0M279.7 172.6h0M278.9 213.5h0M228.5 237.6h0M288.4 200.4h0M277.2 284h0M262.4 188.2h0M249 324.6h0M264.2 320.6h0M272.8 226.8h0M301.8 193.4h0M296.8 202.8h0M286 239h0M343 191.2h0M269.5 314.3h0M274.5 302.7h0M346 201h0M352.3 245.6h0M296 169h0M337.3 173.2h0M333.4 168.7h0M237.2 70h0M165.2 128.7h0M170 127.3h0M174 129.4h0M169.3 136.1h0M182.9 134.5h0M178 204h0M173.2 254.4h0M182.5 253.3h0M203 216h0M210.4 217h0M194.8 275.6h0M198.5 275.6h0M209.3 260.7h0M204.8 283h0M210.4 283h0M215.3 282h0M212.3 286.8h0M195.5 324h0M223.5 288.6h0M228.3 298.7h0M220.5 233.5h0M227.2 254.7h0M223.8 212.3h0M234.6 212.3h0M233.9 152.7h0M240.2 147.1h0M241.3 158.3h0M237.6 174.3h0M238.4 144.1h0M245.8 185.1h0M253.3 193.7h0M234.6 199.3h0M247.7 223.5h0M321 153h0M327.7 140.6h0M325 150h0M289.4 155h0M272 163.6h0M259 170h0M262 180h0" stroke="#63ADBA" stroke-width="6.6" stroke-linecap="round"/>
<path d="M360.3 328L361.7 298L364 264.2L366.3 241.6L369.6 224.6L374.2 207.7L383.2 203.2L391.1 200.9L400.1 205.5L408 210L411.4 219L413.7 235.9L417 252.9L419.3 275.4L421.6 298L425 328Z" fill="#DF4E17" stroke="#DF4E17" stroke-width="6.6" stroke-linejoin="round"/>
<path d="M402.6 196.7h0M457.4 198.1h0M446.7 324.8h0M424.9 319.4h0M393.3 163.6h0M399.4 177.7h0M412.9 210.5h0M420 245.3h0M431.9 278.5h0M448.9 190.7h0M425 259.3h0M440.6 176.6h0M443 262.2h0M429.2 287.6h0M452.4 258.5h0M462.8 243.5h0M432.8 231.4h0M471.6 320.2h0M401.6 186.7h0M391 199h0M427.3 242.1h0M404 190.9h0M484.5 299.2h0M426.9 303.3h0M415.3 232h0M403.7 160.6h0M460.3 254.1h0M415.7 200h0M420.2 186h0M423.6 292.1h0M419.5 236.6h0M434.4 322.5h0M426.7 237.6h0M387.8 194.8h0M448.5 192.8h0M445.3 200.4h0M383.5 194.5h0M420.1 214.2h0M447.4 300.6h0M419.7 180.4h0M432.4 263.5h0M419.4 184.3h0M434.6 307.3h0M457.6 283h0M443.1 239.7h0M428.9 252.7h0M431.7 281.3h0M435.6 280.9h0M413.2 230.5h0M452.9 297.6h0M446.4 200.9h0M471.4 257.5h0M440.9 236.8h0M445.7 305.8h0M425 286.3h0M420.8 288.2h0M435.2 286.3h0M434.8 300.9h0M488.1 298.3h0M444.4 294.2h0M440.4 326.3h0M442.2 316.7h0M445.5 272.2h0M402.6 175h0M369.5 219.6h0M428.4 217.3h0M431.7 194.3h0M413.8 186.3h0M426 318.3h0M422.8 269.1h0M424.7 276.9h0M413.9 224.8h0M430 317.8h0M437.8 235h0M410.1 210.7h0M421 208.9h0M428.7 293.6h0M445.3 234.5h0M426.1 228.8h0M395.9 160.4h0M367.1 222.3h0M426.5 263.8h0M426.8 225.8h0M442.6 311.8h0M365.9 238.8h0M463.9 324.8h0M369.3 211.6h0M458.8 189.4h0M408.8 182.1h0M443 319.4h0M435.5 277.9h0M460.4 287h0M416.1 197.4h0M424.5 272.4h0M449.4 288.1h0M423.6 266.4h0M423.8 239.5h0M451.2 303.7h0M445.9 246.4h0M392 166.5h0M369.9 220.4h0M481 273.6h0M451.4 319.7h0M431.2 212.7h0M430 235.3h0M380.8 186.6h0M406.7 161.6h0M433.3 310.8h0M430.7 262.1h0M371.2 215.5h0M493 327.4h0M423.3 237.4h0M472.3 291.5h0M446.5 310.8h0M366.9 231.4h0M367.7 224.1h0M419.9 257.3h0M461.6 191.4h0M434.3 227.4h0M420.9 202.2h0M441.9 276.8h0M441.7 259.2h0M436.5 272.2h0M423.5 304.9h0M444.2 204.5h0M445.5 165.1h0M443.4 321.7h0M404.3 201.6h0M425.2 223.2h0M444.1 323.4h0M465.1 250.2h0M398 189.4h0M454.5 174.8h0M421 259.4h0M435.5 193.8h0M434.3 217.4h0M417.7 220.1h0M390.8 198.2h0M420.9 256.5h0M483.2 279.1h0M422.6 232.6h0M432.8 208.2h0M470 269.2h0M438.5 194.9h0M381.4 199.9h0M429.1 307.3h0M419.4 239h0M415.1 208.3h0M395.6 182.7h0M424.3 293.9h0M406.2 175.6h0M438.6 323.8h0M427.8 261.6h0M439.8 283.5h0M442 257h0M418.9 216.3h0M398 200.1h0M406.8 195.5h0M432.1 297.1h0M423.9 285.9h0M464.3 278.5h0M427 281.5h0M372.6 213.1h0M410.1 163.1h0M436.1 277.1h0M414.3 220.5h0M432.6 259.5h0M365.4 243.5h0M405.2 185.3h0M427.2 185.4h0M416.9 238.6h0M438.4 297.2h0M409.2 204.1h0M443.6 247.9h0M457.5 278h0M454.7 264.8h0M391.5 187.4h0M431.3 304.8h0M460.7 241.8h0M449.1 296.7h0M423.8 307.6h0M411.7 197.1h0M455.1 222h0M434 205.5h0M429.8 282h0M432.3 274.1h0M423.3 290.8h0M432.2 301.3h0M398.4 193h0M458.1 317.7h0M421.7 222.9h0M412.2 197h0M396.5 193.4h0M448 290h0M415.3 209.6h0M431.6 308.5h0M424.7 168.7h0M383.6 180.9h0M424.5 317.6h0M387.2 193.7h0M458.9 176.6h0M442 218.7h0M425.2 193.1h0M451.2 251.6h0M458.2 280h0M423.4 290.8h0M444.9 243.2h0M436.5 262h0M497 326.4h0M392.7 187.6h0M400.8 164.4h0M418.2 251.8h0M407.6 175.2h0M454.2 222.7h0M451.3 315.1h0M421.6 250.8h0M446.4 252h0M467 207.8h0M467.4 177.3h0M386.5 202.1h0M418.1 240.8h0M439.2 306.4h0M441.6 196.8h0M423.2 191.9h0M427.5 323.7h0M432.2 211h0M431.2 167.6h0M415 219.5h0M417.1 174.5h0M433.7 221.9h0M437.8 275.9h0M442.3 245h0M448.7 236h0M480.9 292.5h0M413.9 210.7h0M414.2 170.6h0M426.9 193.4h0M419.8 266.7h0M441 215.3h0M401.9 179.3h0M373.4 198.4h0M379.5 188.1h0M367.2 232.9h0M429.2 303.3h0M379.7 187.2h0M425.9 290.2h0M466.7 302h0M453 259.9h0M416.2 234.7h0M391.2 188.1h0M422.1 209.7h0M453.9 314.8h0M470.3 217.1h0M430 269.1h0M434.7 315.1h0M441.2 200.7h0M452.9 286.4h0M369 211h0M436.9 182.3h0M390.9 182.3h0M426.3 240.5h0M413.2 221.1h0M470.3 307h0M448.8 313h0M432.2 181.8h0M429.1 177.6h0M432.2 294.4h0M423.2 261h0M485.4 326.9h0M427.6 264.3h0M408.4 196.9h0M366.9 223.1h0M442.6 281.7h0M465.7 285.2h0M370.4 217.9h0M455.9 310.8h0M429.3 274.5h0M415.9 207.5h0M442.5 255.8h0M398.8 202.9h0M433.1 321.3h0M391 168.1h0M437.2 313.4h0M413.4 196.9h0M409.3 171.8h0M410.4 214.9h0M429.1 248.8h0M407.5 201h0M428.7 280.9h0M423.9 305.7h0M421.5 296.4h0M419.1 241h0M453.7 324.1h0M424.9 256.1h0M429.1 197.5h0M428.8 292.6h0M438.1 322.7h0M367.1 233.2h0M417.8 250.6h0M402.4 177.5h0M445.1 182.9h0M447.1 246.7h0M422.2 172.5h0M447.7 266.3h0M410.6 182.9h0M422.5 170.1h0M470.8 292.2h0M424.9 239.4h0M423.1 231.2h0M373.3 206.2h0M426.8 287.7h0M419.5 238.2h0M451.8 297.7h0M458.2 313.3h0M385.7 188.6h0M450.2 258.3h0M462.1 316.5h0M370.4 215.7h0M456.7 287.3h0M432.6 274.7h0M423.9 255.2h0M418.4 243.3h0M414.7 196h0M423 262.1h0M426.7 289.5h0M465 257.4h0M430.9 186.9h0M425.6 211.6h0M421.7 297.9h0M400.3 182.4h0M441.9 267.6h0M369.1 208.8h0M457.4 185.4h0M425.9 236.3h0M397.4 181h0M436.5 244.3h0M434.3 225.6h0M467.9 322.1h0M389.6 188.8h0M423.8 282.2h0M460.7 234.5h0M454.5 221.8h0M408 204.1h0M420.4 221.4h0M464 252h0M436 233.2h0M420.9 199h0M425.7 203.4h0M443.4 211.7h0M423 277.8h0M439.5 230.4h0M421 283.4h0M365.9 244.9h0M425 260.3h0M393.3 192.9h0M428.5 306.5h0M419 267.2h0M421.2 237.8h0M431 320.7h0M423.5 279.4h0M365.4 250.4h0M441.7 279.5h0M487 293.6h0M403.2 181.3h0M441.4 306.5h0M367.5 222.8h0M439.1 321.1h0M454.6 206.3h0M413.5 213.5h0M425 240.7h0M417.5 242.4h0M424.1 295.6h0M442.6 169.3h0M447.7 228.1h0M409.3 196.6h0M458.1 322h0M426.7 292.3h0M405.8 203.6h0M446.6 221h0M446.9 239.6h0M446.2 325.9h0M419.9 174.8h0M446.1 206.6h0M399.3 181.6h0M435.1 281.9h0M407.2 187.7h0M417.3 239.2h0M451 280.8h0M406.7 192.1h0M436.4 240.8h0M437.7 225.9h0M423.3 240.9h0M442.5 299.2h0M369.2 217.2h0M450.6 188.3h0M437.3 291.7h0M390 190.1h0M432 297.8h0M456.6 287.1h0M456.3 315.5h0M407.5 190.3h0M426.1 211.4h0M417.3 240.8h0M397.1 202.9h0M407.4 174.2h0M450.6 169.4h0M444 230.2h0M434.2 208.3h0M418 219.9h0M422.8 263.1h0M465.3 318.8h0M430.4 319.7h0M423.8 210.9h0M396.9 200.4h0M426.6 237.6h0M422.7 247.1h0M434.1 251.2h0M468.8 194.4h0M403.2 203h0M416.3 229.6h0M429 321.2h0M380.4 195h0M410 211.6h0M424.1 288.9h0M457.5 270.9h0M426.5 271.3h0M370.4 208.1h0M429.6 211.3h0M369.9 217.8h0M428.9 251.8h0M437.5 263.8h0M411.2 190.8h0M430.3 247.7h0M400.3 197.4h0M449.8 274.3h0M427.4 196.5h0M426.7 311.2h0M442.1 299.2h0M443 304.2h0M431.9 217.3h0M437.3 303.7h0M402.4 206h0M415.8 232.3h0M382 199h0M365.4 237.7h0M439.4 178.4h0M431.2 288.9h0M434 320.6h0M447 323.6h0M375.2 198.8h0M446.4 293.1h0M395.9 181.6h0M440.8 272.8h0M433.2 187.6h0M459.1 241h0M422.6 254.7h0M429.8 319.9h0M398.7 176h0M476.6 240.4h0M442.6 219h0M442.8 258.9h0M453.6 311.3h0M415.6 181.8h0M411.2 182.7h0M426.9 247.1h0M430.5 278.9h0M466.9 245.1h0M423 292.5h0M460.8 189.7h0M436.1 308h0M420.9 181.9h0M406.3 190.2h0M424.1 182.6h0M399.7 181.4h0M374.1 191.3h0M424.5 288.1h0M428.6 260.7h0M436.3 298.8h0M421.7 256.2h0M432.8 323.1h0M482.1 297.8h0M422.1 278.6h0M414.3 191.3h0M445.5 204.8h0M412 193.8h0M408.8 178.7h0M432.4 237.1h0M425.6 302.6h0M444.9 299.5h0M389.1 194.5h0M391.4 190.1h0M478.1 263.7h0M435.1 317h0M457.6 183.5h0M390.8 180.3h0M368.2 231.1h0M416.5 223.4h0M386 184.3h0M450.2 265h0M365.4 239.5h0M422.5 241.6h0M427.7 221.6h0M443.1 314.7h0M429.8 324.9h0M464.5 252.1h0M440.2 322.3h0M377.6 192.4h0M424.7 270h0M421.1 182.3h0M430.8 267.3h0M426.7 323.4h0M426.4 280.6h0M472.3 315h0M410.3 166.8h0M429.9 240.4h0M460.2 202.3h0M416 234.9h0M393 201.7h0M438.7 226.1h0M457.6 166.7h0M480.5 301.3h0M451.3 266h0M439.6 229.3h0M437.4 254h0M412 199.1h0M416.3 200.7h0M418.6 240.3h0M435.4 313.2h0M410.4 200.8h0M430.7 284.7h0M400.3 181.8h0M452.6 303.6h0M481.7 315.3h0M461.1 288.4h0M424.6 242.6h0M425.4 198.5h0M444.6 255.4h0M447.8 230.1h0M424.5 197.6h0M432.8 242.1h0M415.7 242.7h0M446.5 200.3h0M399.7 202.6h0M429.8 279.5h0M458.5 325h0M430.1 274.6h0M421.4 180.6h0M413.3 217.8h0M426.5 297.6h0M398.8 163.2h0M453.4 313.8h0M439 184.6h0M444.7 229h0M419.9 250h0M405.6 208.1h0M417.6 244.3h0M438.7 295.9h0M440.5 237.8h0M426.2 283.3h0M434.1 289.9h0M432.2 293.6h0M429.5 182.7h0M458.7 325.1h0M448.9 260.1h0M378.4 195.3h0M457.9 265.8h0M442.7 299.6h0M425.2 262.3h0M458.2 296.4h0M403.7 178.9h0M415 232.4h0M411.2 200h0M425.3 317.2h0M419.5 228.8h0M444.2 281.1h0M414.6 237h0M435.5 210.9h0M446.6 219.7h0M436.1 270.7h0M448.4 306.5h0M420.9 243.9h0M453.3 278.6h0M430 243.5h0M387.1 172.4h0M388.6 201.4h0M414.3 233.5h0M461.7 182.4h0M446.2 299.3h0M454.6 192.2h0M430.4 296.1h0M450.1 286.5h0M438.9 199.2h0M465.7 319.2h0M427.9 309.7h0M461.9 242.4h0M460.6 187.8h0M420.9 211.9h0M421.9 234h0M422.7 307.8h0M422.1 221.4h0M452.5 272.1h0M430.7 262.2h0M451.7 238.6h0M416.5 200.2h0M440.1 194.4h0M382.5 176h0M440.6 308.9h0M457.5 199h0M436.3 273.3h0M430.6 318.6h0M443.3 272.9h0M416.7 177.7h0M454.1 213.7h0M429.4 215.3h0M371.6 210.3h0M457.3 312.2h0M384.8 179.8h0M386 200.4h0M415.1 243.3h0M450.5 292.9h0M415 202.5h0M436.2 240.9h0M435.3 315.4h0M433.4 190h0M366.2 231.8h0M399.6 182.1h0M448.3 179.6h0M382.3 195.9h0M482.2 292.5h0M410.1 162.1h0M407.7 163.9h0M434.8 273.7h0M378.2 192.5h0M442.3 274.5h0M418.8 215.2h0M452.6 297.9h0M368.6 226.3h0M405.3 182.8h0M400.3 173.5h0M438.4 200.8h0M492.1 304.4h0M370.7 219.5h0M443.9 215.5h0M388.4 180.3h0M437.7 226.8h0M413.8 225.9h0M440.6 256.2h0M395 177.6h0M450.3 296.1h0M392 162.3h0M451.3 164.9h0M395.3 193.2h0M439 288.9h0M447 297h0M448.4 318.5h0M421.8 236h0M424.9 317.5h0M429 212.1h0M483.2 294.6h0M461.6 235.3h0M402.4 181.6h0M439.5 310.6h0M465.4 233.6h0M379.5 189.8h0M431.1 175.3h0M426.9 301.3h0M427.1 242.8h0M412.4 184.7h0M421.3 230.2h0M413 201.3h0M449.9 209.5h0M474.6 271.7h0M366.4 234.4h0M525.9 128.5h0M526.3 153.4h0M505.4 179.5h0M551.2 173.9h0M549.7 198.1h0M538.5 207.4h0M511.4 220.5h0M548.6 267h0M527 283.8h0M537.4 289.4h0M537.4 301.7h0M490.5 265.9h0M490.1 281.2h0M502.4 308.4h0M513.6 309.1h0M544.9 319.2h0M490.5 304.7h0M481.2 318.4h0M477.5 308h0M387.3 156.4h0M406.7 157.9h0M459.2 169.5h0M468.5 169.5h0M468.5 191.8h0M473 244h0M477.8 244h0M472.3 226.4h0M484 290h0M486 300h0M493 318h0" stroke="#DF4E17" stroke-width="6.6" stroke-linecap="round"/>
<path d="M40.8 329.1H629.5" stroke="#000" stroke-width="1.9" stroke-linecap="round" stroke-dasharray="0.4 7.3 5.7 7.8"/>
<path d="M39.7 55.5V362.5H629.5" fill="none" stroke="#000" stroke-width="1.1"/>
<text x="32.3" y="353.1" font-size="13.5" text-anchor="end">0</text>
<text x="32.3" y="277.1" font-size="13.5" text-anchor="end">5</text>
<text x="32.3" y="201.1" font-size="13.5" text-anchor="end">10</text>
<text x="32.3" y="125.1" font-size="13.5" text-anchor="end">15</text>
<text x="47.4" y="379.4" font-size="13.5" text-anchor="middle">−5.0</text>
<text x="203.4" y="379.4" font-size="13.5" text-anchor="middle">−2.5</text>
<text x="359.4" y="379.4" font-size="13.5" text-anchor="middle">0.0</text>
<text x="515.4" y="379.4" font-size="13.5" text-anchor="middle">2.5</text>
<path d="M35.5 348.5H39.7M35.5 272.5H39.7M35.5 196.5H39.7M35.5 120.5H39.7M47.4 362.5V366.7M203.4 362.5V366.7M359.4 362.5V366.7M515.4 362.5V366.7" stroke="#000" stroke-width="1.1"/>
<text x="334.2" y="394.4" font-size="13.1" text-anchor="middle">logFC</text>
<text transform="translate(12.9,210.4) rotate(-90)" font-size="13.5" text-anchor="middle">−log10(fdr)</text>
<text x="227.6" y="31.2" font-size="13.4">change</text>
<path d="M287.3 26.5h0" stroke="#63ADBA" stroke-width="6.6" stroke-linecap="round"/>
<path d="M348.3 26.5h0" stroke="#9A9A9A" stroke-width="6.6" stroke-linecap="round"/>
<path d="M412.2 26.5h0" stroke="#DF4E17" stroke-width="6.6" stroke-linecap="round"/>
<text x="304.2" y="30.9" font-size="10.8">Down</text>
<text x="364.8" y="30.9" font-size="10.8">Stable</text>
<text x="428.6" y="30.9" font-size="10.8">Up</text>
<circle cx="128.7" cy="70" r="4.1" fill="#63ADBA" stroke="#222" stroke-width="0.9"/>
<circle cx="155.1" cy="135.2" r="4.1" fill="#63ADBA" stroke="#222" stroke-width="0.9"/>
<circle cx="154" cy="160.8" r="4.1" fill="#63ADBA" stroke="#222" stroke-width="0.9"/>
<circle cx="66.4" cy="167.5" r="4.1" fill="#63ADBA" stroke="#222" stroke-width="0.9"/>
<circle cx="154" cy="196.7" r="4.1" fill="#63ADBA" stroke="#222" stroke-width="0.9"/>
<circle cx="147.1" cy="206.7" r="4.1" fill="#63ADBA" stroke="#222" stroke-width="0.9"/>
<circle cx="160.9" cy="258.8" r="4.1" fill="#63ADBA" stroke="#222" stroke-width="0.9"/>
<circle cx="565.5" cy="69.7" r="4.1" fill="#DF4E17" stroke="#222" stroke-width="0.9"/>
<circle cx="604.1" cy="242.1" r="4.1" fill="#DF4E17" stroke="#222" stroke-width="0.9"/>
<circle cx="584.7" cy="281.2" r="4.1" fill="#DF4E17" stroke="#222" stroke-width="0.9"/>
<rect x="89.4" y="73.1" width="33.6" height="16.6" rx="2" fill="#fff" stroke="#333" stroke-width="0.9"/>
<text x="106.2" y="85.6" font-size="11.9" text-anchor="middle">FOS</text>
<rect x="110" y="113.5" width="40" height="17.2" rx="2" fill="#fff" stroke="#333" stroke-width="0.9"/>
<text x="130" y="126.3" font-size="11.9" text-anchor="middle">PDK4</text>
<rect x="104.6" y="138.8" width="45.1" height="17" rx="2" fill="#fff" stroke="#333" stroke-width="0.9"/>
<text x="127.1" y="151.5" font-size="11.9" text-anchor="middle">ZFP36</text>
<rect x="43.3" y="172.7" width="42" height="16.3" rx="2" fill="#fff" stroke="#333" stroke-width="0.9"/>
<text x="64.3" y="185" font-size="11.9" text-anchor="middle">G6PC</text>
<rect x="153.7" y="175.8" width="51.5" height="16.3" rx="2" fill="#fff" stroke="#333" stroke-width="0.9"/>
<text x="179.4" y="188.1" font-size="11.9" text-anchor="middle">S100A9</text>
<rect x="101.7" y="212.3" width="39.8" height="15.6" rx="2" fill="#fff" stroke="#333" stroke-width="0.9"/>
<text x="121.6" y="224.3" font-size="11.9" text-anchor="middle">HBA1</text>
<rect x="163.1" y="238.4" width="46.2" height="16" rx="2" fill="#fff" stroke="#333" stroke-width="0.9"/>
<text x="186.2" y="250.6" font-size="11.9" text-anchor="middle">GSTA2</text>
<rect x="568.7" y="59.4" width="58" height="17.3" rx="2" fill="#fff" stroke="#333" stroke-width="0.9"/>
<text x="597.7" y="72.2" font-size="11.9" text-anchor="middle">MIR4521</text>
<rect x="566.8" y="235.4" width="31" height="16" rx="2" fill="#fff" stroke="#333" stroke-width="0.9"/>
<text x="582.3" y="247.6" font-size="11.9" text-anchor="middle">FN1</text>
<rect x="579.1" y="260" width="47.3" height="16" rx="2" fill="#fff" stroke="#333" stroke-width="0.9"/>
<text x="602.8" y="272.2" font-size="11.9" text-anchor="middle">SFRP2</text>
<circle cx="223" cy="627.8" r="141.8" fill="#C14531" fill-opacity="0.5"/>
<circle cx="407.7" cy="627.8" r="141.8" fill="#71BBD3" fill-opacity="0.5"/>
<circle cx="315.3" cy="780.2" r="141.8" fill="#379F87" fill-opacity="0.5"/>
<text x="217.7" y="476.6" font-size="14.2" text-anchor="middle" fill="#E29484">Necroptosis</text>
<text x="408" y="476.6" font-size="14.2" text-anchor="middle" fill="#A4D2E2">Up-regulated DEGs</text>
<text x="315" y="943.3" font-size="14.2" text-anchor="middle" fill="#8CCBBB">Down-regulated DEGs</text>
<text x="165.3" y="594.5" font-size="15.5" text-anchor="middle" letter-spacing="0.5">57</text>
<text x="313.2" y="594.5" font-size="15.5" text-anchor="middle" letter-spacing="0.5">25</text>
<text x="444.6" y="594.5" font-size="15.5" text-anchor="middle" letter-spacing="0.5">5134</text>
<text x="315.6" y="683.5" font-size="15.5" text-anchor="middle" letter-spacing="0.5">0</text>
<text x="224.2" y="736.7" font-size="15.5" text-anchor="middle" letter-spacing="0.5">20</text>
<text x="404.7" y="736.7" font-size="15.5" text-anchor="middle" letter-spacing="0.5">0</text>
<text x="308.8" y="867.1" font-size="15.5" text-anchor="middle" letter-spacing="0.5">5600</text>
<rect x="746.7" y="504.8" width="377.2" height="417.2" fill="none" stroke="#555" stroke-width="1.3"/>
<path d="M747.5 922v10.5M807.9 922v10.5M868.3 922v10.5M928.7 922v10.5M989.1 922v10.5M1049.5 922v10.5M1109.9 922v10.5M746.7 861.6h-10.5M746.7 786.5h-10.5M746.7 711.4h-10.5M746.7 636.5h-10.5M746.7 561.4h-10.5" stroke="#555" stroke-width="1.3" fill="none"/>
<text x="747.5" y="958.6" font-size="22.5" text-anchor="middle">0</text>
<text x="807.9" y="958.6" font-size="22.5" text-anchor="middle">5</text>
<text x="868.3" y="958.6" font-size="22.5" text-anchor="middle">10</text>
<text x="928.7" y="958.6" font-size="22.5" text-anchor="middle">15</text>
<text x="989.1" y="958.6" font-size="22.5" text-anchor="middle">20</text>
<text x="1049.5" y="958.6" font-size="22.5" text-anchor="middle">25</text>
<text x="1109.9" y="958.6" font-size="22.5" text-anchor="middle">30</text>
<text transform="translate(722.8,861.6) rotate(-90)" font-size="22.5" text-anchor="middle">0.5</text>
<text transform="translate(722.8,786.5) rotate(-90)" font-size="22.5" text-anchor="middle">0.6</text>
<text transform="translate(722.8,711.4) rotate(-90)" font-size="22.5" text-anchor="middle">0.7</text>
<text transform="translate(722.8,636.5) rotate(-90)" font-size="22.5" text-anchor="middle">0.8</text>
<text transform="translate(722.8,561.4) rotate(-90)" font-size="22.5" text-anchor="middle">0.9</text>
<text transform="translate(682.5,726) rotate(-90)" font-size="16.8" text-anchor="middle">Scale Free Topology Model Fit,signed R^2</text>
<text x="918" y="470.5" font-size="19.4" text-anchor="middle">Scale independence</text>
<text x="928.2" y="999.5" font-size="16.8" text-anchor="middle">Soft Threshold (power)</text>
<path d="M746.7 598.9H1123.9" stroke="#E8707A" stroke-width="1.4"/>
<text transform="translate(759.6,912.4) scale(1,1.06)" font-size="15.5" text-anchor="middle" fill="#D6000C" font-family="'Liberation Sans', sans-serif">1</text>
<text transform="translate(771.7,733.5) scale(1,1.06)" font-size="15.5" text-anchor="middle" fill="#D6000C" font-family="'Liberation Sans', sans-serif">2</text>
<text transform="translate(783.7,658.6) scale(1,1.06)" font-size="15.5" text-anchor="middle" fill="#D6000C" font-family="'Liberation Sans', sans-serif">3</text>
<text transform="translate(795.8,645.9) scale(1,1.06)" font-size="15.5" text-anchor="middle" fill="#D6000C" font-family="'Liberation Sans', sans-serif">4</text>
<text transform="translate(807.9,633.8) scale(1,1.06)" font-size="15.5" text-anchor="middle" fill="#D6000C" font-family="'Liberation Sans', sans-serif">5</text>
<text transform="translate(820,625.8) scale(1,1.06)" font-size="15.5" text-anchor="middle" fill="#D6000C" font-family="'Liberation Sans', sans-serif">6</text>
<text transform="translate(832.1,609.9) scale(1,1.06)" font-size="15.5" text-anchor="middle" fill="#D6000C" font-family="'Liberation Sans', sans-serif">7</text>
<text transform="translate(844.1,599.7) scale(1,1.06)" font-size="15.5" text-anchor="middle" fill="#D6000C" font-family="'Liberation Sans', sans-serif">8</text>
<text transform="translate(856.2,592.4) scale(1,1.06)" font-size="15.5" text-anchor="middle" fill="#D6000C" font-family="'Liberation Sans', sans-serif">9</text>
<text transform="translate(868.3,584.4) scale(1,1.06)" font-size="15.5" text-anchor="middle" fill="#D6000C" font-family="'Liberation Sans', sans-serif">10</text>
<text transform="translate(892.5,566.9) scale(1,1.06)" font-size="15.5" text-anchor="middle" fill="#D6000C" font-family="'Liberation Sans', sans-serif">12</text>
<text transform="translate(916.6,549.7) scale(1,1.06)" font-size="15.5" text-anchor="middle" fill="#D6000C" font-family="'Liberation Sans', sans-serif">14</text>
<text transform="translate(940.8,534.4) scale(1,1.06)" font-size="15.5" text-anchor="middle" fill="#D6000C" font-family="'Liberation Sans', sans-serif">16</text>
<text transform="translate(964.9,525.8) scale(1,1.06)" font-size="15.5" text-anchor="middle" fill="#D6000C" font-family="'Liberation Sans', sans-serif">18</text>
<text transform="translate(989.1,534.4) scale(1,1.06)" font-size="15.5" text-anchor="middle" fill="#D6000C" font-family="'Liberation Sans', sans-serif">20</text>
<text transform="translate(1013.3,536) scale(1,1.06)" font-size="15.5" text-anchor="middle" fill="#D6000C" font-family="'Liberation Sans', sans-serif">22</text>
<text transform="translate(1037.4,537.6) scale(1,1.06)" font-size="15.5" text-anchor="middle" fill="#D6000C" font-family="'Liberation Sans', sans-serif">24</text>
<text transform="translate(1061.6,536) scale(1,1.06)" font-size="15.5" text-anchor="middle" fill="#D6000C" font-family="'Liberation Sans', sans-serif">26</text>
<text transform="translate(1085.7,533.8) scale(1,1.06)" font-size="15.5" text-anchor="middle" fill="#D6000C" font-family="'Liberation Sans', sans-serif">28</text>
<text transform="translate(1109.9,547.2) scale(1,1.06)" font-size="15.5" text-anchor="middle" fill="#D6000C" font-family="'Liberation Sans', sans-serif">30</text>
<rect x="1248.4" y="504.8" width="378" height="417.3" fill="none" stroke="#555" stroke-width="1.3"/>
<path d="M1250.4 922.1v10.5M1310.5 922.1v10.5M1370.6 922.1v10.5M1430.7 922.1v10.5M1490.8 922.1v10.5M1550.9 922.1v10.5M1611 922.1v10.5M1248.4 907h-10.5M1248.4 850.4h-10.5M1248.4 793.7h-10.5M1248.4 737.1h-10.5M1248.4 680.5h-10.5M1248.4 623.8h-10.5M1248.4 567.2h-10.5M1248.4 510.6h-10.5" stroke="#555" stroke-width="1.3" fill="none"/>
<text x="1250.4" y="958.6" font-size="17.2" text-anchor="middle">0</text>
<text x="1310.5" y="958.6" font-size="17.2" text-anchor="middle">5</text>
<text x="1370.6" y="958.6" font-size="17.2" text-anchor="middle">10</text>
<text x="1430.7" y="958.6" font-size="17.2" text-anchor="middle">15</text>
<text x="1490.8" y="958.6" font-size="17.2" text-anchor="middle">20</text>
<text x="1550.9" y="958.6" font-size="17.2" text-anchor="middle">25</text>
<text x="1611" y="958.6" font-size="17.2" text-anchor="middle">30</text>
<text transform="translate(1224.6,907) rotate(-90)" font-size="17.2" text-anchor="middle">0</text>
<text transform="translate(1224.6,850.4) rotate(-90)" font-size="17.2" text-anchor="middle">500</text>
<text transform="translate(1224.6,793.7) rotate(-90)" font-size="17.2" text-anchor="middle">1000</text>
<text transform="translate(1224.6,737.1) rotate(-90)" font-size="17.2" text-anchor="middle">1500</text>
<text transform="translate(1224.6,680.5) rotate(-90)" font-size="17.2" text-anchor="middle">2000</text>
<text transform="translate(1224.6,623.8) rotate(-90)" font-size="17.2" text-anchor="middle">2500</text>
<text transform="translate(1224.6,567.2) rotate(-90)" font-size="17.2" text-anchor="middle">3000</text>
<text transform="translate(1224.6,510.6) rotate(-90)" font-size="17.2" text-anchor="middle">3500</text>
<text transform="translate(1185.5,718.2) rotate(-90)" font-size="16.8" text-anchor="middle">Mean Connectivity</text>
<text x="1425.7" y="470.5" font-size="19.4" text-anchor="middle">Mean connectivity</text>
<text x="1430.4" y="999.5" font-size="16.8" text-anchor="middle">Soft Threshold (power)</text>
<path d="M1248.4 905.4H1626.4" stroke="#E0303A" stroke-width="1.1"/>
<text transform="translate(1262.4,526.5) scale(1,1.06)" font-size="15.5" text-anchor="middle" fill="#D6000C" font-family="'Liberation Sans', sans-serif">1</text>
<text transform="translate(1274.4,798.1) scale(1,1.06)" font-size="15.5" text-anchor="middle" fill="#D6000C" font-family="'Liberation Sans', sans-serif">2</text>
<text transform="translate(1286.5,867.9) scale(1,1.06)" font-size="15.5" text-anchor="middle" fill="#D6000C" font-family="'Liberation Sans', sans-serif">3</text>
<text transform="translate(1298.5,892.1) scale(1,1.06)" font-size="15.5" text-anchor="middle" fill="#D6000C" font-family="'Liberation Sans', sans-serif">4</text>
<text transform="translate(1310.5,901.6) scale(1,1.06)" font-size="15.5" text-anchor="middle" fill="#D6000C" font-family="'Liberation Sans', sans-serif">5</text>
<text transform="translate(1322.5,906.1) scale(1,1.06)" font-size="15.5" text-anchor="middle" fill="#D6000C" font-family="'Liberation Sans', sans-serif">6</text>
<text transform="translate(1334.5,909.3) scale(1,1.06)" font-size="15.5" text-anchor="middle" fill="#D6000C" font-family="'Liberation Sans', sans-serif">7</text>
<text transform="translate(1346.6,910.2) scale(1,1.06)" font-size="15.5" text-anchor="middle" fill="#D6000C" font-family="'Liberation Sans', sans-serif">8</text>
<text transform="translate(1358.6,911.2) scale(1,1.06)" font-size="15.5" text-anchor="middle" fill="#D6000C" font-family="'Liberation Sans', sans-serif">9</text>
<text transform="translate(1370.6,911.7) scale(1,1.06)" font-size="15.5" text-anchor="middle" fill="#D6000C" font-family="'Liberation Sans', sans-serif">10</text>
<text transform="translate(1394.6,912.4) scale(1,1.06)" font-size="15.5" text-anchor="middle" fill="#D6000C" font-family="'Liberation Sans', sans-serif">12</text>
<text transform="translate(1418.7,912.4) scale(1,1.06)" font-size="15.5" text-anchor="middle" fill="#D6000C" font-family="'Liberation Sans', sans-serif">14</text>
<text transform="translate(1442.7,912.4) scale(1,1.06)" font-size="15.5" text-anchor="middle" fill="#D6000C" font-family="'Liberation Sans', sans-serif">16</text>
<text transform="translate(1466.8,912.4) scale(1,1.06)" font-size="15.5" text-anchor="middle" fill="#D6000C" font-family="'Liberation Sans', sans-serif">18</text>
<text transform="translate(1490.8,912.4) scale(1,1.06)" font-size="15.5" text-anchor="middle" fill="#D6000C" font-family="'Liberation Sans', sans-serif">20</text>
<text transform="translate(1514.8,912.4) scale(1,1.06)" font-size="15.5" text-anchor="middle" fill="#D6000C" font-family="'Liberation Sans', sans-serif">22</text>
<text transform="translate(1538.9,912.4) scale(1,1.06)" font-size="15.5" text-anchor="middle" fill="#D6000C" font-family="'Liberation Sans', sans-serif">24</text>
<text transform="translate(1562.9,912.4) scale(1,1.06)" font-size="15.5" text-anchor="middle" fill="#D6000C" font-family="'Liberation Sans', sans-serif">26</text>
<text transform="translate(1587,912.4) scale(1,1.06)" font-size="15.5" text-anchor="middle" fill="#D6000C" font-family="'Liberation Sans', sans-serif">28</text>
<text transform="translate(1611,912.4) scale(1,1.06)" font-size="15.5" text-anchor="middle" fill="#D6000C" font-family="'Liberation Sans', sans-serif">30</text>
<circle cx="768.6" cy="1368" r="150.5" fill="#C14531" fill-opacity="0.5"/>
<circle cx="964.6" cy="1368" r="150.5" fill="#71BBD3" fill-opacity="0.5"/>
<circle cx="867.2" cy="1529.7" r="150.5" fill="#379F87" fill-opacity="0.5"/>
<text x="759.8" y="1208.5" font-size="15" text-anchor="middle" fill="#E29484">Module Genes</text>
<text x="975.6" y="1208.5" font-size="15" text-anchor="middle" fill="#A4D2E2">Up-regulated NRDEGs</text>
<text x="873" y="1702.3" font-size="15" text-anchor="middle" fill="#8CCBBB">Down-regulated NRDEGs</text>
<text x="702.5" y="1332.8" font-size="15.5" text-anchor="middle" letter-spacing="0.5">5529</text>
<text x="867.3" y="1332.8" font-size="15.5" text-anchor="middle" letter-spacing="0.5">7</text>
<text x="1009.5" y="1332.8" font-size="15.5" text-anchor="middle" letter-spacing="0.5">18</text>
<text x="867.3" y="1427.3" font-size="15.5" text-anchor="middle" letter-spacing="0.5">0</text>
<text x="771.4" y="1484" font-size="15.5" text-anchor="middle" letter-spacing="0.5">12</text>
<text x="961.2" y="1484" font-size="15.5" text-anchor="middle" letter-spacing="0.5">0</text>
<text x="868" y="1621.5" font-size="15.5" text-anchor="middle" letter-spacing="0.5">8</text>
<text x="326.6" y="1110.6" font-size="21.2" text-anchor="middle">Module-trait relationships</text>
<rect x="181.5" y="1136.1" width="30.6" height="68.2" fill="#0000FA"/>
<rect x="217.3" y="1136.1" width="103.4" height="68.2" fill="#5B99F8"/>
<rect x="320.7" y="1136.1" width="104.1" height="68.2" fill="#DE4E2A"/>
<text x="173.2" y="1176.8" font-size="18.1" text-anchor="end">MEblue</text>
<text x="268.9" y="1168.8" font-size="9.3" text-anchor="middle">−0.87</text>
<text x="268.9" y="1179.4" font-size="9.3" text-anchor="middle">(3e−20)</text>
<text x="372.7" y="1168.8" font-size="9.3" text-anchor="middle">0.87</text>
<text x="372.7" y="1179.4" font-size="9.3" text-anchor="middle">(3e−20)</text>
<rect x="181.5" y="1203.9" width="30.6" height="68.2" fill="#8A22EA"/>
<rect x="217.3" y="1203.9" width="103.4" height="68.2" fill="#92BEF9"/>
<rect x="320.7" y="1203.9" width="104.1" height="68.2" fill="#E7927A"/>
<text x="172" y="1244.6" font-size="18.1" text-anchor="end">MEpurple</text>
<text x="268.9" y="1236.6" font-size="9.3" text-anchor="middle">−0.53</text>
<text x="268.9" y="1247.2" font-size="9.3" text-anchor="middle">(9e−06)</text>
<text x="372.7" y="1236.6" font-size="9.3" text-anchor="middle">0.53</text>
<text x="372.7" y="1247.2" font-size="9.3" text-anchor="middle">(9e−06)</text>
<rect x="181.5" y="1271.7" width="30.6" height="68.2" fill="#3A5E1A"/>
<rect x="217.3" y="1271.7" width="103.4" height="68.2" fill="#A0C6FA"/>
<rect x="320.7" y="1271.7" width="104.1" height="68.2" fill="#E89D88"/>
<text x="166.9" y="1312.4" font-size="18.1" text-anchor="end">MEdarkgreen</text>
<text x="268.9" y="1304.4" font-size="9.3" text-anchor="middle">−0.47</text>
<text x="268.9" y="1315" font-size="9.3" text-anchor="middle">(2e−04)</text>
<text x="372.7" y="1304.4" font-size="9.3" text-anchor="middle">0.47</text>
<text x="372.7" y="1315" font-size="9.3" text-anchor="middle">(2e−04)</text>
<rect x="181.5" y="1339.5" width="30.6" height="68.2" fill="#000000"/>
<rect x="217.3" y="1339.5" width="103.4" height="68.2" fill="#77ACF8"/>
<rect x="320.7" y="1339.5" width="104.1" height="68.2" fill="#E26F50"/>
<text x="173.6" y="1380.2" font-size="18.1" text-anchor="end">MEblack</text>
<text x="268.9" y="1372.2" font-size="9.3" text-anchor="middle">−0.7</text>
<text x="268.9" y="1382.8" font-size="9.3" text-anchor="middle">(3e−10)</text>
<text x="372.7" y="1372.2" font-size="9.3" text-anchor="middle">0.7</text>
<text x="372.7" y="1382.8" font-size="9.3" text-anchor="middle">(3e−10)</text>
<rect x="181.5" y="1407.3" width="30.6" height="68.2" fill="#72CACF"/>
<rect x="217.3" y="1407.3" width="103.4" height="68.2" fill="#C4DCFB"/>
<rect x="320.7" y="1407.3" width="104.1" height="68.2" fill="#EFBDB1"/>
<text x="166" y="1448" font-size="18.1" text-anchor="end">MEdarkturquoise</text>
<text x="268.9" y="1440" font-size="9.3" text-anchor="middle">−0.31</text>
<text x="268.9" y="1450.6" font-size="9.3" text-anchor="middle">(0.01)</text>
<text x="372.7" y="1440" font-size="9.3" text-anchor="middle">0.31</text>
<text x="372.7" y="1450.6" font-size="9.3" text-anchor="middle">(0.01)</text>
<rect x="181.5" y="1475.1" width="30.6" height="68.2" fill="#221E66"/>
<rect x="217.3" y="1475.1" width="103.4" height="68.2" fill="#EAA694"/>
<rect x="320.7" y="1475.1" width="104.1" height="68.2" fill="#ABCDFA"/>
<text x="170.7" y="1515.8" font-size="18.1" text-anchor="end">MEmidnightblue</text>
<text x="268.9" y="1507.8" font-size="9.3" text-anchor="middle">0.42</text>
<text x="268.9" y="1518.4" font-size="9.3" text-anchor="middle">(7e−04)</text>
<text x="372.7" y="1507.8" font-size="9.3" text-anchor="middle">−0.42</text>
<text x="372.7" y="1518.4" font-size="9.3" text-anchor="middle">(7e−04)</text>
<rect x="181.5" y="1542.9" width="30.6" height="68.2" fill="#8CFDFD"/>
<rect x="217.3" y="1542.9" width="103.4" height="68.2" fill="#E68E75"/>
<rect x="320.7" y="1542.9" width="104.1" height="68.2" fill="#8FBCF9"/>
<text x="172.4" y="1583.6" font-size="18.1" text-anchor="end">MEcyan</text>
<text x="268.9" y="1575.6" font-size="9.3" text-anchor="middle">0.55</text>
<text x="268.9" y="1586.2" font-size="9.3" text-anchor="middle">(4e−06)</text>
<text x="372.7" y="1575.6" font-size="9.3" text-anchor="middle">−0.55</text>
<text x="372.7" y="1586.2" font-size="9.3" text-anchor="middle">(4e−06)</text>
<rect x="181.5" y="1610.7" width="30.6" height="68.2" fill="#5068DE"/>
<rect x="217.3" y="1610.7" width="103.4" height="68.2" fill="#F9ECEA"/>
<rect x="320.7" y="1610.7" width="104.1" height="68.2" fill="#EBF3FD"/>
<text x="172.4" y="1651.4" font-size="18.1" text-anchor="end">MEroyalblue</text>
<text x="268.9" y="1643.4" font-size="9.3" text-anchor="middle">0.09</text>
<text x="268.9" y="1654" font-size="9.3" text-anchor="middle">(0.5)</text>
<text x="372.7" y="1643.4" font-size="9.3" text-anchor="middle">−0.09</text>
<text x="372.7" y="1654" font-size="9.3" text-anchor="middle">(0.5)</text>
<rect x="181.5" y="1678.5" width="30.6" height="68.2" fill="#8EFC3A"/>
<rect x="217.3" y="1678.5" width="103.4" height="68.2" fill="#E05E3C"/>
<rect x="320.7" y="1678.5" width="104.1" height="68.2" fill="#6AA3F8"/>
<text x="170.3" y="1719.2" font-size="18.1" text-anchor="end">MEgreen</text>
<text x="268.9" y="1711.2" font-size="9.3" text-anchor="middle">0.78</text>
<text x="268.9" y="1721.8" font-size="9.3" text-anchor="middle">(8e−14)</text>
<text x="372.7" y="1711.2" font-size="9.3" text-anchor="middle">−0.78</text>
<text x="372.7" y="1721.8" font-size="9.3" text-anchor="middle">(8e−14)</text>
<rect x="181.5" y="1746.3" width="30.6" height="68.2" fill="#89E0D2"/>
<rect x="217.3" y="1746.3" width="103.4" height="68.2" fill="#E47D61"/>
<rect x="320.7" y="1746.3" width="104.1" height="68.2" fill="#82B3F9"/>
<text x="169" y="1787" font-size="18.1" text-anchor="end">MEturquoise</text>
<text x="268.9" y="1779" font-size="9.3" text-anchor="middle">0.63</text>
<text x="268.9" y="1789.6" font-size="9.3" text-anchor="middle">(5e−08)</text>
<text x="372.7" y="1779" font-size="9.3" text-anchor="middle">−0.63</text>
<text x="372.7" y="1789.6" font-size="9.3" text-anchor="middle">(5e−08)</text>
<rect x="217.3" y="1136.1" width="207.5" height="678" fill="none" stroke="#444" stroke-width="0.9"/>
<defs><linearGradient id="gcb" x1="0" y1="0" x2="0" y2="1"><stop offset="0%" stop-color="#DA3610"/><stop offset="5%" stop-color="#DD4824"/><stop offset="10%" stop-color="#DF5A38"/><stop offset="15%" stop-color="#E26F50"/><stop offset="20%" stop-color="#E58469"/><stop offset="25%" stop-color="#E89781"/><stop offset="30%" stop-color="#EBAA99"/><stop offset="35%" stop-color="#EFBFB3"/><stop offset="40%" stop-color="#F4D5CD"/><stop offset="45%" stop-color="#F9EAE7"/><stop offset="50%" stop-color="#FFFFFF"/><stop offset="55%" stop-color="#E9F2FD"/><stop offset="60%" stop-color="#D8E8FC"/><stop offset="65%" stop-color="#C6DDFB"/><stop offset="70%" stop-color="#B0D0FA"/><stop offset="75%" stop-color="#99C2F9"/><stop offset="80%" stop-color="#87B6F9"/><stop offset="85%" stop-color="#77ACF8"/><stop offset="90%" stop-color="#66A1F8"/><stop offset="95%" stop-color="#5796F8"/><stop offset="100%" stop-color="#488CF7"/></linearGradient></defs>
<rect x="434.6" y="1176.8" width="13.8" height="595.8" fill="url(#gcb)" stroke="#444" stroke-width="0.9"/>
<text x="462.5" y="1183.1" font-size="18.6">1</text>
<text x="462.5" y="1332" font-size="18.6">0.5</text>
<text x="462.5" y="1481" font-size="18.6">0</text>
<text x="462.5" y="1629.9" font-size="18.6">-0.5</text>
<text x="462.5" y="1778.9" font-size="18.6">-1</text>
<path d="M448.4 1176.8h10M448.4 1325.8h10M448.4 1474.7h10M448.4 1623.6h10M448.4 1772.6h10" stroke="#333" stroke-width="1"/>
<text transform="translate(262,1843) rotate(-45)" font-size="18" text-anchor="middle">DN</text>
<text transform="translate(365.5,1843) rotate(-45)" font-size="18" text-anchor="middle">NC</text>
<path d="M1216.6 1256.5h27.4v26.2h-27.4zM1244 1256.5h27.4v26.2h-27.4zM1271.4 1256.5h27.4v26.2h-27.4zM1298.8 1256.5h27.4v26.2h-27.4zM1326.2 1256.5h27.4v26.2h-27.4zM1353.6 1256.5h27.4v26.2h-27.4zM1381 1256.5h27.4v26.2h-27.4zM1408.4 1256.5h27.4v26.2h-27.4zM1435.8 1256.5h27.4v26.2h-27.4zM1463.2 1256.5h27.4v26.2h-27.4zM1490.6 1256.5h27.4v26.2h-27.4zM1518 1256.5h27.4v26.2h-27.4zM1545.4 1256.5h27.4v26.2h-27.4zM1572.8 1256.5h27.4v26.2h-27.4zM1600.2 1256.5h27.4v26.2h-27.4zM1627.6 1256.5h27.4v26.2h-27.4zM1655 1256.5h27.4v26.2h-27.4zM1682.4 1256.5h27.4v26.2h-27.4zM1244 1282.7h27.4v26.2h-27.4zM1271.4 1282.7h27.4v26.2h-27.4zM1298.8 1282.7h27.4v26.2h-27.4zM1326.2 1282.7h27.4v26.2h-27.4zM1353.6 1282.7h27.4v26.2h-27.4zM1381 1282.7h27.4v26.2h-27.4zM1408.4 1282.7h27.4v26.2h-27.4zM1435.8 1282.7h27.4v26.2h-27.4zM1463.2 1282.7h27.4v26.2h-27.4zM1490.6 1282.7h27.4v26.2h-27.4zM1518 1282.7h27.4v26.2h-27.4zM1545.4 1282.7h27.4v26.2h-27.4zM1572.8 1282.7h27.4v26.2h-27.4zM1600.2 1282.7h27.4v26.2h-27.4zM1627.6 1282.7h27.4v26.2h-27.4zM1655 1282.7h27.4v26.2h-27.4zM1682.4 1282.7h27.4v26.2h-27.4zM1271.4 1308.9h27.4v26.2h-27.4zM1298.8 1308.9h27.4v26.2h-27.4zM1326.2 1308.9h27.4v26.2h-27.4zM1353.6 1308.9h27.4v26.2h-27.4zM1381 1308.9h27.4v26.2h-27.4zM1408.4 1308.9h27.4v26.2h-27.4zM1435.8 1308.9h27.4v26.2h-27.4zM1463.2 1308.9h27.4v26.2h-27.4zM1490.6 1308.9h27.4v26.2h-27.4zM1518 1308.9h27.4v26.2h-27.4zM1545.4 1308.9h27.4v26.2h-27.4zM1572.8 1308.9h27.4v26.2h-27.4zM1600.2 1308.9h27.4v26.2h-27.4zM1627.6 1308.9h27.4v26.2h-27.4zM1655 1308.9h27.4v26.2h-27.4zM1682.4 1308.9h27.4v26.2h-27.4zM1298.8 1335.1h27.4v26.2h-27.4zM1326.2 1335.1h27.4v26.2h-27.4zM1353.6 1335.1h27.4v26.2h-27.4zM1381 1335.1h27.4v26.2h-27.4zM1408.4 1335.1h27.4v26.2h-27.4zM1435.8 1335.1h27.4v26.2h-27.4zM1463.2 1335.1h27.4v26.2h-27.4zM1490.6 1335.1h27.4v26.2h-27.4zM1518 1335.1h27.4v26.2h-27.4zM1545.4 1335.1h27.4v26.2h-27.4zM1572.8 1335.1h27.4v26.2h-27.4zM1600.2 1335.1h27.4v26.2h-27.4zM1627.6 1335.1h27.4v26.2h-27.4zM1655 1335.1h27.4v26.2h-27.4zM1682.4 1335.1h27.4v26.2h-27.4zM1326.2 1361.3h27.4v26.2h-27.4zM1353.6 1361.3h27.4v26.2h-27.4zM1381 1361.3h27.4v26.2h-27.4zM1408.4 1361.3h27.4v26.2h-27.4zM1435.8 1361.3h27.4v26.2h-27.4zM1463.2 1361.3h27.4v26.2h-27.4zM1490.6 1361.3h27.4v26.2h-27.4zM1518 1361.3h27.4v26.2h-27.4zM1545.4 1361.3h27.4v26.2h-27.4zM1572.8 1361.3h27.4v26.2h-27.4zM1600.2 1361.3h27.4v26.2h-27.4zM1627.6 1361.3h27.4v26.2h-27.4zM1655 1361.3h27.4v26.2h-27.4zM1682.4 1361.3h27.4v26.2h-27.4zM1353.6 1387.5h27.4v26.2h-27.4zM1381 1387.5h27.4v26.2h-27.4zM1408.4 1387.5h27.4v26.2h-27.4zM1435.8 1387.5h27.4v26.2h-27.4zM1463.2 1387.5h27.4v26.2h-27.4zM1490.6 1387.5h27.4v26.2h-27.4zM1518 1387.5h27.4v26.2h-27.4zM1545.4 1387.5h27.4v26.2h-27.4zM1572.8 1387.5h27.4v26.2h-27.4zM1600.2 1387.5h27.4v26.2h-27.4zM1627.6 1387.5h27.4v26.2h-27.4zM1655 1387.5h27.4v26.2h-27.4zM1682.4 1387.5h27.4v26.2h-27.4zM1381 1413.6h27.4v26.2h-27.4zM1408.4 1413.6h27.4v26.2h-27.4zM1435.8 1413.6h27.4v26.2h-27.4zM1463.2 1413.6h27.4v26.2h-27.4zM1490.6 1413.6h27.4v26.2h-27.4zM1518 1413.6h27.4v26.2h-27.4zM1545.4 1413.6h27.4v26.2h-27.4zM1572.8 1413.6h27.4v26.2h-27.4zM1600.2 1413.6h27.4v26.2h-27.4zM1627.6 1413.6h27.4v26.2h-27.4zM1655 1413.6h27.4v26.2h-27.4zM1682.4 1413.6h27.4v26.2h-27.4zM1408.4 1439.8h27.4v26.2h-27.4zM1435.8 1439.8h27.4v26.2h-27.4zM1463.2 1439.8h27.4v26.2h-27.4zM1490.6 1439.8h27.4v26.2h-27.4zM1518 1439.8h27.4v26.2h-27.4zM1545.4 1439.8h27.4v26.2h-27.4zM1572.8 1439.8h27.4v26.2h-27.4zM1600.2 1439.8h27.4v26.2h-27.4zM1627.6 1439.8h27.4v26.2h-27.4zM1655 1439.8h27.4v26.2h-27.4zM1682.4 1439.8h27.4v26.2h-27.4zM1435.8 1466h27.4v26.2h-27.4zM1463.2 1466h27.4v26.2h-27.4zM1490.6 1466h27.4v26.2h-27.4zM1518 1466h27.4v26.2h-27.4zM1545.4 1466h27.4v26.2h-27.4zM1572.8 1466h27.4v26.2h-27.4zM1600.2 1466h27.4v26.2h-27.4zM1627.6 1466h27.4v26.2h-27.4zM1655 1466h27.4v26.2h-27.4zM1682.4 1466h27.4v26.2h-27.4zM1463.2 1492.2h27.4v26.2h-27.4zM1490.6 1492.2h27.4v26.2h-27.4zM1518 1492.2h27.4v26.2h-27.4zM1545.4 1492.2h27.4v26.2h-27.4zM1572.8 1492.2h27.4v26.2h-27.4zM1600.2 1492.2h27.4v26.2h-27.4zM1627.6 1492.2h27.4v26.2h-27.4zM1655 1492.2h27.4v26.2h-27.4zM1682.4 1492.2h27.4v26.2h-27.4zM1490.6 1518.4h27.4v26.2h-27.4zM1518 1518.4h27.4v26.2h-27.4zM1545.4 1518.4h27.4v26.2h-27.4zM1572.8 1518.4h27.4v26.2h-27.4zM1600.2 1518.4h27.4v26.2h-27.4zM1627.6 1518.4h27.4v26.2h-27.4zM1655 1518.4h27.4v26.2h-27.4zM1682.4 1518.4h27.4v26.2h-27.4zM1518 1544.6h27.4v26.2h-27.4zM1545.4 1544.6h27.4v26.2h-27.4zM1572.8 1544.6h27.4v26.2h-27.4zM1600.2 1544.6h27.4v26.2h-27.4zM1627.6 1544.6h27.4v26.2h-27.4zM1655 1544.6h27.4v26.2h-27.4zM1682.4 1544.6h27.4v26.2h-27.4zM1545.4 1570.8h27.4v26.2h-27.4zM1572.8 1570.8h27.4v26.2h-27.4zM1600.2 1570.8h27.4v26.2h-27.4zM1627.6 1570.8h27.4v26.2h-27.4zM1655 1570.8h27.4v26.2h-27.4zM1682.4 1570.8h27.4v26.2h-27.4zM1572.8 1597h27.4v26.2h-27.4zM1600.2 1597h27.4v26.2h-27.4zM1627.6 1597h27.4v26.2h-27.4zM1655 1597h27.4v26.2h-27.4zM1682.4 1597h27.4v26.2h-27.4zM1600.2 1623.2h27.4v26.2h-27.4zM1627.6 1623.2h27.4v26.2h-27.4zM1655 1623.2h27.4v26.2h-27.4zM1682.4 1623.2h27.4v26.2h-27.4zM1627.6 1649.3h27.4v26.2h-27.4zM1655 1649.3h27.4v26.2h-27.4zM1682.4 1649.3h27.4v26.2h-27.4zM1655 1675.5h27.4v26.2h-27.4zM1682.4 1675.5h27.4v26.2h-27.4zM1682.4 1701.7h27.4v26.2h-27.4z" fill="#fff" stroke="#D6D6D6" stroke-width="1.1"/>
<circle cx="1230.3" cy="1269.6" r="7.7" fill="#C18587"/>
<circle cx="1257.7" cy="1269.6" r="4" fill="#EEDEDE"/>
<circle cx="1285.1" cy="1269.6" r="6.5" fill="#D3AAAB"/>
<circle cx="1312.5" cy="1269.6" r="4" fill="#EEDEDE"/>
<circle cx="1339.9" cy="1269.6" r="2.8" fill="#F0F3F8"/>
<circle cx="1367.3" cy="1269.6" r="0.7" fill="#FEFEFE"/>
<circle cx="1394.7" cy="1269.6" r="5.7" fill="#C1CCDF"/>
<circle cx="1422.1" cy="1269.6" r="6.7" fill="#A9B8D3"/>
<circle cx="1449.5" cy="1269.6" r="5.7" fill="#C1CCDF"/>
<circle cx="1476.9" cy="1269.6" r="5.9" fill="#BEC9DE"/>
<circle cx="1504.3" cy="1269.6" r="5.7" fill="#DDBCBD"/>
<circle cx="1531.7" cy="1269.6" r="5" fill="#E5CCCD"/>
<circle cx="1559.1" cy="1269.6" r="5.5" fill="#DFC1C2"/>
<circle cx="1586.5" cy="1269.6" r="4.4" fill="#DAE1EC"/>
<circle cx="1613.9" cy="1269.6" r="6" fill="#D9B5B6"/>
<circle cx="1641.3" cy="1269.6" r="6" fill="#D9B5B6"/>
<circle cx="1668.7" cy="1269.6" r="4" fill="#E0E6EF"/>
<circle cx="1696.1" cy="1269.6" r="2.1" fill="#FBF6F6"/>
<circle cx="1257.7" cy="1295.8" r="3.7" fill="#F1E3E4"/>
<circle cx="1285.1" cy="1295.8" r="5.7" fill="#DDBCBD"/>
<circle cx="1312.5" cy="1295.8" r="2.2" fill="#FAF5F5"/>
<circle cx="1339.9" cy="1295.8" r="5.7" fill="#C1CCDF"/>
<circle cx="1367.3" cy="1295.8" r="5" fill="#D0D8E7"/>
<circle cx="1394.7" cy="1295.8" r="5.7" fill="#C1CCDF"/>
<circle cx="1422.1" cy="1295.8" r="6.6" fill="#ACBBD5"/>
<circle cx="1449.5" cy="1295.8" r="2.2" fill="#F6F7FA"/>
<circle cx="1476.9" cy="1295.8" r="5.1" fill="#CDD6E6"/>
<circle cx="1504.3" cy="1295.8" r="3.3" fill="#F4E9E9"/>
<circle cx="1531.7" cy="1295.8" r="0.7" fill="#FEFEFE"/>
<circle cx="1559.1" cy="1295.8" r="3.3" fill="#F4E9E9"/>
<circle cx="1586.5" cy="1295.8" r="6.5" fill="#B0BED7"/>
<circle cx="1641.3" cy="1295.8" r="2.9" fill="#EFF2F7"/>
<circle cx="1668.7" cy="1295.8" r="5.9" fill="#BEC9DE"/>
<circle cx="1696.1" cy="1295.8" r="4.8" fill="#D4DBE9"/>
<circle cx="1285.1" cy="1322" r="4.5" fill="#E9D5D5"/>
<circle cx="1312.5" cy="1322" r="5.3" fill="#E2C6C7"/>
<circle cx="1339.9" cy="1322" r="1.1" fill="#FDFDFE"/>
<circle cx="1367.3" cy="1322" r="3.5" fill="#F2E6E6"/>
<circle cx="1394.7" cy="1322" r="1.8" fill="#FBF8F8"/>
<circle cx="1422.1" cy="1322" r="3.3" fill="#F4E9E9"/>
<circle cx="1449.5" cy="1322" r="5.9" fill="#BEC9DE"/>
<circle cx="1476.9" cy="1322" r="7.2" fill="#9DAECD"/>
<circle cx="1504.3" cy="1322" r="3.3" fill="#F4E9E9"/>
<circle cx="1531.7" cy="1322" r="6.2" fill="#B5C2DA"/>
<circle cx="1559.1" cy="1322" r="4.8" fill="#D4DBE9"/>
<circle cx="1586.5" cy="1322" r="7" fill="#A3B3D0"/>
<circle cx="1613.9" cy="1322" r="4.8" fill="#D4DBE9"/>
<circle cx="1641.3" cy="1322" r="3.1" fill="#EDF0F6"/>
<circle cx="1668.7" cy="1322" r="1.1" fill="#FEFDFD"/>
<circle cx="1696.1" cy="1322" r="4.3" fill="#ECDADA"/>
<circle cx="1312.5" cy="1348.2" r="5.9" fill="#DBB8BA"/>
<circle cx="1339.9" cy="1348.2" r="4.5" fill="#D8DFEB"/>
<circle cx="1367.3" cy="1348.2" r="0.7" fill="#FEFEFE"/>
<circle cx="1394.7" cy="1348.2" r="4.5" fill="#E9D5D5"/>
<circle cx="1422.1" cy="1348.2" r="4.5" fill="#D8DFEB"/>
<circle cx="1449.5" cy="1348.2" r="1.8" fill="#FBF8F8"/>
<circle cx="1476.9" cy="1348.2" r="7.7" fill="#8FA2C6"/>
<circle cx="1504.3" cy="1348.2" r="4.5" fill="#E9D5D5"/>
<circle cx="1559.1" cy="1348.2" r="0.6" fill="#FFFEFE"/>
<circle cx="1586.5" cy="1348.2" r="5.1" fill="#CDD6E6"/>
<circle cx="1613.9" cy="1348.2" r="2.9" fill="#F6EDEE"/>
<circle cx="1641.3" cy="1348.2" r="5.5" fill="#DFC1C2"/>
<circle cx="1668.7" cy="1348.2" r="4.8" fill="#E7D0D1"/>
<circle cx="1696.1" cy="1348.2" r="3.7" fill="#E6EAF2"/>
<circle cx="1339.9" cy="1374.4" r="4.4" fill="#EBD7D8"/>
<circle cx="1367.3" cy="1374.4" r="5.9" fill="#DBB8BA"/>
<circle cx="1394.7" cy="1374.4" r="0.7" fill="#FEFEFE"/>
<circle cx="1422.1" cy="1374.4" r="0.4" fill="#FFFFFF"/>
<circle cx="1449.5" cy="1374.4" r="5.5" fill="#C6D0E2"/>
<circle cx="1476.9" cy="1374.4" r="6.7" fill="#A9B8D3"/>
<circle cx="1504.3" cy="1374.4" r="1.8" fill="#FBF8F8"/>
<circle cx="1531.7" cy="1374.4" r="3.8" fill="#E3E8F1"/>
<circle cx="1559.1" cy="1374.4" r="1.1" fill="#FEFDFD"/>
<circle cx="1586.5" cy="1374.4" r="6.5" fill="#B0BED7"/>
<circle cx="1641.3" cy="1374.4" r="4.8" fill="#E7D0D1"/>
<circle cx="1668.7" cy="1374.4" r="4.8" fill="#E7D0D1"/>
<circle cx="1696.1" cy="1374.4" r="5" fill="#E5CCCD"/>
<circle cx="1367.3" cy="1400.5" r="7.7" fill="#C18587"/>
<circle cx="1394.7" cy="1400.5" r="3.7" fill="#F1E3E4"/>
<circle cx="1422.1" cy="1400.5" r="5.7" fill="#DDBCBD"/>
<circle cx="1449.5" cy="1400.5" r="4" fill="#E0E6EF"/>
<circle cx="1476.9" cy="1400.5" r="2.6" fill="#F3F5F9"/>
<circle cx="1504.3" cy="1400.5" r="5.7" fill="#DDBCBD"/>
<circle cx="1531.7" cy="1400.5" r="4.3" fill="#DDE3EE"/>
<circle cx="1586.5" cy="1400.5" r="3.8" fill="#F0E1E2"/>
<circle cx="1613.9" cy="1400.5" r="4" fill="#EEDEDE"/>
<circle cx="1641.3" cy="1400.5" r="4.8" fill="#E7D0D1"/>
<circle cx="1668.7" cy="1400.5" r="5.9" fill="#DBB8BA"/>
<circle cx="1696.1" cy="1400.5" r="6.5" fill="#D3AAAB"/>
<circle cx="1394.7" cy="1426.7" r="6.2" fill="#D6AFB1"/>
<circle cx="1422.1" cy="1426.7" r="6.2" fill="#D6AFB1"/>
<circle cx="1449.5" cy="1426.7" r="2.6" fill="#F3F5F9"/>
<circle cx="1476.9" cy="1426.7" r="4.8" fill="#D4DBE9"/>
<circle cx="1504.3" cy="1426.7" r="3.8" fill="#F0E1E2"/>
<circle cx="1531.7" cy="1426.7" r="5.5" fill="#C6D0E2"/>
<circle cx="1559.1" cy="1426.7" r="1.5" fill="#FDFBFB"/>
<circle cx="1586.5" cy="1426.7" r="2.2" fill="#F6F7FA"/>
<circle cx="1613.9" cy="1426.7" r="4" fill="#EEDEDE"/>
<circle cx="1641.3" cy="1426.7" r="6.2" fill="#D6AFB1"/>
<circle cx="1668.7" cy="1426.7" r="6" fill="#D9B5B6"/>
<circle cx="1696.1" cy="1426.7" r="3.3" fill="#F4E9E9"/>
<circle cx="1422.1" cy="1452.9" r="5.6" fill="#DEBFC0"/>
<circle cx="1449.5" cy="1452.9" r="4.3" fill="#EBD8D9"/>
<circle cx="1476.9" cy="1452.9" r="4.7" fill="#D5DDEA"/>
<circle cx="1504.3" cy="1452.9" r="3.8" fill="#F0E2E2"/>
<circle cx="1531.7" cy="1452.9" r="6.1" fill="#B8C4DB"/>
<circle cx="1559.1" cy="1452.9" r="6.1" fill="#B8C4DB"/>
<circle cx="1586.5" cy="1452.9" r="4.1" fill="#E0E5EF"/>
<circle cx="1613.9" cy="1452.9" r="6.1" fill="#B8C4DB"/>
<circle cx="1641.3" cy="1452.9" r="0.9" fill="#FEFDFD"/>
<circle cx="1668.7" cy="1452.9" r="0.9" fill="#FEFDFD"/>
<circle cx="1696.1" cy="1452.9" r="6.5" fill="#AFBDD6"/>
<circle cx="1449.5" cy="1479.1" r="2.9" fill="#EFF2F7"/>
<circle cx="1476.9" cy="1479.1" r="1.8" fill="#FCF8F8"/>
<circle cx="1504.3" cy="1479.1" r="1.6" fill="#FCFAFA"/>
<circle cx="1531.7" cy="1479.1" r="5.6" fill="#C4CEE1"/>
<circle cx="1559.1" cy="1479.1" r="3.4" fill="#E9EDF4"/>
<circle cx="1586.5" cy="1479.1" r="2.5" fill="#F8F2F2"/>
<circle cx="1613.9" cy="1479.1" r="4.3" fill="#DBE2ED"/>
<circle cx="1641.3" cy="1479.1" r="4.1" fill="#E0E5EF"/>
<circle cx="1668.7" cy="1479.1" r="3.4" fill="#F3E7E7"/>
<circle cx="1696.1" cy="1479.1" r="2.7" fill="#F7F0F0"/>
<circle cx="1476.9" cy="1505.3" r="5" fill="#E5CCCD"/>
<circle cx="1504.3" cy="1505.3" r="3.2" fill="#ECEFF5"/>
<circle cx="1531.7" cy="1505.3" r="3.6" fill="#F1E4E5"/>
<circle cx="1559.1" cy="1505.3" r="4.1" fill="#E0E5EF"/>
<circle cx="1586.5" cy="1505.3" r="4.1" fill="#EEDDDE"/>
<circle cx="1613.9" cy="1505.3" r="3.2" fill="#ECEFF5"/>
<circle cx="1641.3" cy="1505.3" r="4.1" fill="#E0E5EF"/>
<circle cx="1668.7" cy="1505.3" r="0.9" fill="#FEFDFD"/>
<circle cx="1696.1" cy="1505.3" r="6.8" fill="#A8B7D3"/>
<circle cx="1504.3" cy="1531.5" r="5.2" fill="#CBD4E5"/>
<circle cx="1531.7" cy="1531.5" r="5.9" fill="#DBB8BA"/>
<circle cx="1559.1" cy="1531.5" r="1.8" fill="#FCF8F8"/>
<circle cx="1586.5" cy="1531.5" r="6.5" fill="#D3A8AA"/>
<circle cx="1613.9" cy="1531.5" r="0.7" fill="#FEFEFE"/>
<circle cx="1641.3" cy="1531.5" r="2.7" fill="#F1F4F8"/>
<circle cx="1668.7" cy="1531.5" r="0.5" fill="#FFFFFF"/>
<circle cx="1696.1" cy="1531.5" r="4.1" fill="#E0E5EF"/>
<circle cx="1531.7" cy="1557.7" r="5.2" fill="#E2C7C8"/>
<circle cx="1559.1" cy="1557.7" r="6.1" fill="#D7B2B3"/>
<circle cx="1613.9" cy="1557.7" r="4.1" fill="#EEDDDE"/>
<circle cx="1641.3" cy="1557.7" r="5.2" fill="#E2C7C8"/>
<circle cx="1668.7" cy="1557.7" r="1.1" fill="#FDFDFE"/>
<circle cx="1696.1" cy="1557.7" r="4.3" fill="#EBD8D9"/>
<circle cx="1559.1" cy="1583.9" r="7" fill="#CB999B"/>
<circle cx="1586.5" cy="1583.9" r="6.5" fill="#D3A8AA"/>
<circle cx="1613.9" cy="1583.9" r="6.1" fill="#D7B2B3"/>
<circle cx="1641.3" cy="1583.9" r="5.4" fill="#E0C3C4"/>
<circle cx="1668.7" cy="1583.9" r="4.1" fill="#E0E5EF"/>
<circle cx="1696.1" cy="1583.9" r="1.8" fill="#F9FAFC"/>
<circle cx="1586.5" cy="1610.1" r="5.2" fill="#E2C7C8"/>
<circle cx="1613.9" cy="1610.1" r="5.6" fill="#DEBFC0"/>
<circle cx="1641.3" cy="1610.1" r="3.6" fill="#F1E4E5"/>
<circle cx="1668.7" cy="1610.1" r="0.7" fill="#FEFEFE"/>
<circle cx="1696.1" cy="1610.1" r="5.6" fill="#DEBFC0"/>
<circle cx="1613.9" cy="1636.3" r="7" fill="#CB999B"/>
<circle cx="1641.3" cy="1636.3" r="5" fill="#E5CCCD"/>
<circle cx="1668.7" cy="1636.3" r="5.9" fill="#DBB8BA"/>
<circle cx="1696.1" cy="1636.3" r="4.1" fill="#EEDDDE"/>
<circle cx="1641.3" cy="1662.4" r="6.8" fill="#CFA1A3"/>
<circle cx="1668.7" cy="1662.4" r="4.5" fill="#EAD5D6"/>
<circle cx="1696.1" cy="1662.4" r="5.4" fill="#E0C3C4"/>
<circle cx="1668.7" cy="1688.6" r="6.5" fill="#D3A8AA"/>
<circle cx="1696.1" cy="1688.6" r="5.4" fill="#E0C3C4"/>
<circle cx="1696.1" cy="1714.8" r="6.8" fill="#CFA1A3"/>
<path d="M1227 1269.3h0M1230.3 1269.3h0M1233.6 1269.3h0M1281.8 1269.3h0M1285.1 1269.3h0M1288.4 1269.3h0M1418.8 1269.3h0M1422.1 1269.3h0M1425.4 1269.3h0M1473.6 1269.3h0M1476.9 1269.3h0M1480.2 1269.3h0M1501 1269.3h0M1504.3 1269.3h0M1507.6 1269.3h0M1610.6 1269.3h0M1613.9 1269.3h0M1617.2 1269.3h0M1638 1269.3h0M1641.3 1269.3h0M1644.6 1269.3h0M1418.8 1295.5h0M1422.1 1295.5h0M1425.4 1295.5h0M1583.2 1295.5h0M1586.5 1295.5h0M1589.8 1295.5h0M1665.4 1295.5h0M1668.7 1295.5h0M1672 1295.5h0M1446.2 1321.7h0M1449.5 1321.7h0M1452.8 1321.7h0M1473.6 1321.7h0M1476.9 1321.7h0M1480.2 1321.7h0M1528.4 1321.7h0M1531.7 1321.7h0M1535 1321.7h0M1583.2 1321.7h0M1586.5 1321.7h0M1589.8 1321.7h0M1309.2 1347.9h0M1312.5 1347.9h0M1315.8 1347.9h0M1473.6 1347.9h0M1476.9 1347.9h0M1480.2 1347.9h0M1364 1374.1h0M1367.3 1374.1h0M1370.6 1374.1h0M1473.6 1374.1h0M1476.9 1374.1h0M1480.2 1374.1h0M1583.2 1374.1h0M1586.5 1374.1h0M1589.8 1374.1h0M1364 1400.2h0M1367.3 1400.2h0M1370.6 1400.2h0M1665.4 1400.2h0M1668.7 1400.2h0M1672 1400.2h0M1692.8 1400.2h0M1696.1 1400.2h0M1699.4 1400.2h0M1391.4 1426.4h0M1394.7 1426.4h0M1398 1426.4h0M1418.8 1426.4h0M1422.1 1426.4h0M1425.4 1426.4h0M1638 1426.4h0M1641.3 1426.4h0M1644.6 1426.4h0M1665.4 1426.4h0M1668.7 1426.4h0M1672 1426.4h0M1528.4 1452.6h0M1531.7 1452.6h0M1535 1452.6h0M1555.8 1452.6h0M1559.1 1452.6h0M1562.4 1452.6h0M1610.6 1452.6h0M1613.9 1452.6h0M1617.2 1452.6h0M1692.8 1452.6h0M1696.1 1452.6h0M1699.4 1452.6h0M1692.8 1505h0M1696.1 1505h0M1699.4 1505h0M1528.4 1531.2h0M1531.7 1531.2h0M1535 1531.2h0M1583.2 1531.2h0M1586.5 1531.2h0M1589.8 1531.2h0M1555.8 1557.4h0M1559.1 1557.4h0M1562.4 1557.4h0M1555.8 1583.6h0M1559.1 1583.6h0M1562.4 1583.6h0M1583.2 1583.6h0M1586.5 1583.6h0M1589.8 1583.6h0M1610.6 1583.6h0M1613.9 1583.6h0M1617.2 1583.6h0M1610.6 1609.8h0M1613.9 1609.8h0M1617.2 1609.8h0M1692.8 1609.8h0M1696.1 1609.8h0M1699.4 1609.8h0M1610.6 1636h0M1613.9 1636h0M1617.2 1636h0M1665.4 1636h0M1668.7 1636h0M1672 1636h0M1638 1662.1h0M1641.3 1662.1h0M1644.6 1662.1h0M1692.8 1662.1h0M1696.1 1662.1h0M1699.4 1662.1h0M1665.4 1688.3h0M1668.7 1688.3h0M1672 1688.3h0M1692.8 1714.5h0M1696.1 1714.5h0M1699.4 1714.5h0" stroke="#2a2a2a" stroke-width="1.75" stroke-linecap="round"/>
<text transform="translate(1234.6,1251.4) rotate(-90)" font-size="16.3">BRD4</text>
<text transform="translate(1262,1251.4) rotate(-90)" font-size="16.3">TIMM50</text>
<text transform="translate(1289.4,1251.4) rotate(-90)" font-size="16.3">HTRA2</text>
<text transform="translate(1316.8,1251.4) rotate(-90)" font-size="16.3">RALBP1</text>
<text transform="translate(1344.2,1251.4) rotate(-90)" font-size="16.3">PTGES3</text>
<text transform="translate(1371.6,1251.4) rotate(-90)" font-size="16.3">CHMP4B</text>
<text transform="translate(1399,1251.4) rotate(-90)" font-size="16.3">TXN</text>
<text transform="translate(1426.4,1251.4) rotate(-90)" font-size="16.3">FMR1</text>
<text transform="translate(1453.8,1251.4) rotate(-90)" font-size="16.3">MAP3K7</text>
<text transform="translate(1481.2,1251.4) rotate(-90)" font-size="16.3">SFTPA1</text>
<text transform="translate(1508.6,1251.4) rotate(-90)" font-size="16.3">GSDMD</text>
<text transform="translate(1536,1251.4) rotate(-90)" font-size="16.3">IKBKB</text>
<text transform="translate(1563.4,1251.4) rotate(-90)" font-size="16.3">PGLYRP1</text>
<text transform="translate(1590.8,1251.4) rotate(-90)" font-size="16.3">CFLAR</text>
<text transform="translate(1618.2,1251.4) rotate(-90)" font-size="16.3">MLKL</text>
<text transform="translate(1645.6,1251.4) rotate(-90)" font-size="16.3">NFKBIA</text>
<text transform="translate(1673,1251.4) rotate(-90)" font-size="16.3">METTL3</text>
<text transform="translate(1700.4,1251.4) rotate(-90)" font-size="16.3">TYRO3</text>
<text x="1204.6" y="1276.5" font-size="16.3" text-anchor="end">FLOT1</text>
<text x="1232" y="1302.7" font-size="16.3" text-anchor="end">BRD4</text>
<text x="1259.4" y="1328.9" font-size="16.3" text-anchor="end">TIMM50</text>
<text x="1286.8" y="1355.1" font-size="16.3" text-anchor="end">HTRA2</text>
<text x="1314.2" y="1381.3" font-size="16.3" text-anchor="end">RALBP1</text>
<text x="1341.6" y="1407.4" font-size="16.3" text-anchor="end">PTGES3</text>
<text x="1369" y="1433.6" font-size="16.3" text-anchor="end">CHMP4B</text>
<text x="1396.4" y="1459.8" font-size="16.3" text-anchor="end">TXN</text>
<text x="1423.8" y="1486" font-size="16.3" text-anchor="end">FMR1</text>
<text x="1451.2" y="1512.2" font-size="16.3" text-anchor="end">MAP3K7</text>
<text x="1478.6" y="1538.4" font-size="16.3" text-anchor="end">SFTPA1</text>
<text x="1506" y="1564.6" font-size="16.3" text-anchor="end">GSDMD</text>
<text x="1533.4" y="1590.8" font-size="16.3" text-anchor="end">IKBKB</text>
<text x="1560.8" y="1617" font-size="16.3" text-anchor="end">PGLYRP1</text>
<text x="1588.2" y="1643.2" font-size="16.3" text-anchor="end">CFLAR</text>
<text x="1615.6" y="1669.3" font-size="16.3" text-anchor="end">MLKL</text>
<text x="1643" y="1695.5" font-size="16.3" text-anchor="end">NFKBIA</text>
<text x="1670.4" y="1721.7" font-size="16.3" text-anchor="end">METTL3</text>
<defs><linearGradient id="icb" x1="0" y1="0" x2="0" y2="1"><stop offset="0%" stop-color="#A04649"/><stop offset="5%" stop-color="#AA585B"/><stop offset="10%" stop-color="#B36B6D"/><stop offset="15%" stop-color="#BC7E80"/><stop offset="20%" stop-color="#C69092"/><stop offset="25%" stop-color="#D0A2A4"/><stop offset="30%" stop-color="#D9B5B6"/><stop offset="35%" stop-color="#E2C8C8"/><stop offset="40%" stop-color="#ECDADB"/><stop offset="45%" stop-color="#F6ECED"/><stop offset="50%" stop-color="#FFFFFF"/><stop offset="55%" stop-color="#EEF1F6"/><stop offset="60%" stop-color="#DDE3EE"/><stop offset="65%" stop-color="#CCD5E5"/><stop offset="70%" stop-color="#BBC7DC"/><stop offset="75%" stop-color="#AAB8D4"/><stop offset="80%" stop-color="#98AACB"/><stop offset="85%" stop-color="#879CC2"/><stop offset="90%" stop-color="#768EB9"/><stop offset="95%" stop-color="#6580B1"/><stop offset="100%" stop-color="#5472A8"/></linearGradient></defs>
<rect x="1719.2" y="1256.7" width="18.3" height="471.1" fill="url(#icb)" stroke="#333" stroke-width="1"/>
<text x="1746" y="1262.4" font-size="17">1</text>
<text x="1746" y="1309.5" font-size="17">0.8</text>
<text x="1746" y="1356.6" font-size="17">0.6</text>
<text x="1746" y="1403.7" font-size="17">0.4</text>
<text x="1746" y="1450.8" font-size="17">0.2</text>
<text x="1746" y="1498" font-size="17">0</text>
<text x="1746" y="1545.1" font-size="17">-0.2</text>
<text x="1746" y="1592.2" font-size="17">-0.4</text>
<text x="1746" y="1639.3" font-size="17">-0.6</text>
<text x="1746" y="1686.4" font-size="17">-0.8</text>
<text x="1746" y="1733.5" font-size="17">-1</text>
<path d="M1737.5 1256.7h4M1737.5 1303.8h4M1737.5 1350.9h4M1737.5 1398h4M1737.5 1445.1h4M1737.5 1492.2h4M1737.5 1539.4h4M1737.5 1586.5h4M1737.5 1633.6h4M1737.5 1680.7h4M1737.5 1727.8h4" stroke="#333" stroke-width="1"/>
</svg></body></html>
